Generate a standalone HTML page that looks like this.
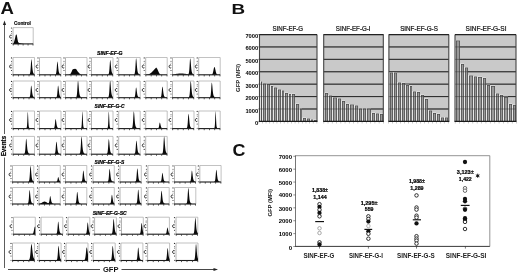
<!DOCTYPE html>
<html><head><meta charset="utf-8"><style>
html,body{margin:0;padding:0;background:#fff;}
body{width:520px;height:274px;overflow:hidden;}
svg{display:block;font-family:"Liberation Sans", sans-serif;filter:grayscale(1);}
</style></head><body>
<svg width="520" height="274" viewBox="0 0 520 274">
<g>
<rect width="520" height="274" fill="#fff"/>
<path d="M4.5,268 V157.5 M4.5,134 V24" stroke="#4a4a4a" stroke-width="0.9" fill="none"/>
<path d="M4.5,20.5 L2.9,25 L6.1,25Z" fill="#222"/>
<path d="M8,269.5 H100 M121.5,269.5 H214" stroke="#333" stroke-width="0.9" fill="none"/>
<path d="M218,269.5 L213.5,267.9 L213.5,271.1Z" fill="#222"/>
<text x="103" y="272.3" font-size="6.5" font-weight="bold" textLength="15.5" lengthAdjust="spacingAndGlyphs" fill="#111">GFP</text>
<text transform="translate(6.3,156.3) rotate(-90)" font-size="6.3" font-weight="bold" textLength="20.4" lengthAdjust="spacingAndGlyphs" fill="#000" stroke="#000" stroke-width="0.2">Events</text>
<text x="0.6" y="13.7" font-size="16.5" font-weight="bold" textLength="13.4" lengthAdjust="spacingAndGlyphs" fill="#111">A</text>
<text x="14.1" y="24.9" font-size="4.9" font-weight="bold" textLength="16.8" lengthAdjust="spacingAndGlyphs" fill="#000" stroke="#000" stroke-width="0.15">Control</text>
<path d="M13.00,27.60H33.20V43.90" fill="none" stroke="#a8a8a8" stroke-width="0.7"/>
<path d="M13.20,43.90L13.20,43.90L14.20,41.60L15.00,38.50L15.70,35.20L16.30,34.30L16.90,35.60L17.50,39.20L18.10,41.90L19.00,43.00L21.00,43.60L24.00,43.90L24.00,43.90Z" fill="#0a0a0a"/>
<path d="M13.00,27.60V43.90" fill="none" stroke="#a0a0a0" stroke-width="0.8"/>
<path d="M12.60,43.90H33.20" fill="none" stroke="#1a1a1a" stroke-width="1.1"/>
<rect x="12.80" y="43.90" width="0.8" height="1.6" fill="#333"/>
<rect x="17.75" y="43.90" width="0.8" height="1.6" fill="#333"/>
<rect x="22.70" y="43.90" width="0.8" height="1.6" fill="#333"/>
<rect x="27.65" y="43.90" width="0.8" height="1.6" fill="#333"/>
<rect x="32.60" y="43.90" width="0.8" height="1.6" fill="#333"/>
<circle cx="11.50" cy="28.00" r="0.6" fill="#2a2a2a"/>
<circle cx="11.50" cy="31.40" r="0.5" fill="#2a2a2a"/>
<circle cx="11.50" cy="33.20" r="0.45" fill="#2a2a2a"/>
<circle cx="11.50" cy="40.60" r="0.55" fill="#2a2a2a"/>
<circle cx="11.50" cy="43.60" r="0.5" fill="#2a2a2a"/>
<path d="M11.70,35.40C10.60,34.60 9.60,35.50 9.60,36.60C9.60,37.70 10.60,38.60 11.70,37.80" fill="none" stroke="#222" stroke-width="1.0"/>
<text x="97" y="54.6" font-size="4.9" font-weight="bold" font-style="italic" textLength="25.6" lengthAdjust="spacingAndGlyphs" fill="#000" stroke="#000" stroke-width="0.2">SINF-EF-G</text>
<text x="94.6" y="108.0" font-size="4.9" font-weight="bold" font-style="italic" textLength="30" lengthAdjust="spacingAndGlyphs" fill="#000" stroke="#000" stroke-width="0.2">SINF-EF-G-C</text>
<text x="94.6" y="163.6" font-size="4.9" font-weight="bold" font-style="italic" textLength="29.8" lengthAdjust="spacingAndGlyphs" fill="#000" stroke="#000" stroke-width="0.2">SINF-EF-G-S</text>
<text x="92.7" y="214.7" font-size="4.9" font-weight="bold" font-style="italic" textLength="34" lengthAdjust="spacingAndGlyphs" fill="#000" stroke="#000" stroke-width="0.2">SINF-EF-G-SC</text>
<path d="M13.00,57.50H34.50V74.80" fill="none" stroke="#a8a8a8" stroke-width="0.7"/>
<path d="M13.00,74.80L13.00,74.80L13.20,74.80L13.39,74.80L13.59,74.80L13.78,74.80L13.98,74.80L14.17,74.80L14.37,74.80L14.56,74.80L14.76,74.80L14.95,74.80L15.15,74.80L15.35,74.80L15.54,74.80L15.74,74.80L15.93,74.80L16.13,74.80L16.32,74.80L16.52,74.80L16.71,74.80L16.91,74.80L17.10,74.80L17.30,74.80L17.50,74.80L17.69,74.80L17.89,74.80L18.08,74.80L18.28,74.80L18.47,74.80L18.67,74.80L18.86,74.80L19.06,74.80L19.25,74.80L19.45,74.80L19.65,74.80L19.84,74.80L20.04,74.80L20.23,74.80L20.43,74.80L20.62,74.80L20.82,74.80L21.01,74.80L21.21,74.80L21.40,74.80L21.60,74.80L21.80,74.80L21.99,74.80L22.19,74.80L22.38,74.80L22.58,74.80L22.77,74.80L22.97,74.80L23.16,74.80L23.36,74.80L23.55,74.80L23.75,74.80L23.95,74.80L24.14,74.80L24.34,74.80L24.53,74.80L24.73,74.80L24.92,74.80L25.12,74.80L25.31,74.80L25.51,74.80L25.70,74.80L25.90,74.80L26.10,74.80L26.29,74.80L26.49,74.80L26.68,74.80L26.88,74.80L27.07,74.80L27.27,74.80L27.46,74.80L27.66,74.80L27.85,74.80L28.05,74.80L28.25,74.80L28.44,74.79L28.64,74.78L28.83,74.76L29.03,74.71L29.22,74.64L29.42,74.51L29.61,74.31L29.81,73.98L30.00,73.46L30.20,72.60L30.40,71.20L30.59,69.07L30.79,66.23L30.98,63.07L31.18,60.43L31.37,59.22L31.57,59.62L31.76,61.03L31.96,63.12L32.15,65.45L32.35,67.63L32.55,69.43L32.74,70.79L32.94,71.77L33.13,72.46L33.33,72.96L33.52,73.34L33.72,73.65L33.91,73.90L34.11,74.10L34.30,74.27L34.50,74.40L34.50,74.80Z" fill="#0a0a0a"/>
<path d="M13.00,57.50V74.80" fill="none" stroke="#a0a0a0" stroke-width="0.8"/>
<path d="M12.60,74.80H34.50" fill="none" stroke="#1a1a1a" stroke-width="1.1"/>
<rect x="12.80" y="74.80" width="0.8" height="1.6" fill="#333"/>
<rect x="18.08" y="74.80" width="0.8" height="1.6" fill="#333"/>
<rect x="23.35" y="74.80" width="0.8" height="1.6" fill="#333"/>
<rect x="28.62" y="74.80" width="0.8" height="1.6" fill="#333"/>
<rect x="33.90" y="74.80" width="0.8" height="1.6" fill="#333"/>
<circle cx="11.50" cy="57.90" r="0.6" fill="#2a2a2a"/>
<circle cx="11.50" cy="61.30" r="0.5" fill="#2a2a2a"/>
<circle cx="11.50" cy="63.10" r="0.45" fill="#2a2a2a"/>
<circle cx="11.50" cy="70.50" r="0.55" fill="#2a2a2a"/>
<circle cx="11.50" cy="74.50" r="0.5" fill="#2a2a2a"/>
<path d="M11.70,65.30C10.60,64.50 9.60,65.40 9.60,66.50C9.60,67.60 10.60,68.50 11.70,67.70" fill="none" stroke="#222" stroke-width="1.0"/>
<path d="M39.50,57.50H61.00V74.80" fill="none" stroke="#a8a8a8" stroke-width="0.7"/>
<path d="M39.50,74.80L39.50,74.80L39.70,74.80L39.89,74.80L40.09,74.80L40.28,74.80L40.48,74.80L40.67,74.80L40.87,74.80L41.06,74.80L41.26,74.80L41.45,74.80L41.65,74.80L41.85,74.80L42.04,74.80L42.24,74.80L42.43,74.80L42.63,74.80L42.82,74.80L43.02,74.80L43.21,74.80L43.41,74.80L43.60,74.80L43.80,74.80L44.00,74.80L44.19,74.80L44.39,74.80L44.58,74.80L44.78,74.80L44.97,74.80L45.17,74.80L45.36,74.80L45.56,74.80L45.75,74.80L45.95,74.80L46.15,74.80L46.34,74.80L46.54,74.80L46.73,74.80L46.93,74.80L47.12,74.80L47.32,74.80L47.51,74.80L47.71,74.80L47.90,74.80L48.10,74.80L48.30,74.80L48.49,74.80L48.69,74.80L48.88,74.80L49.08,74.80L49.27,74.80L49.47,74.80L49.66,74.80L49.86,74.80L50.05,74.80L50.25,74.80L50.45,74.80L50.64,74.80L50.84,74.80L51.03,74.80L51.23,74.80L51.42,74.80L51.62,74.80L51.81,74.80L52.01,74.80L52.20,74.80L52.40,74.80L52.60,74.80L52.79,74.80L52.99,74.80L53.18,74.80L53.38,74.80L53.57,74.80L53.77,74.80L53.96,74.80L54.16,74.80L54.35,74.79L54.55,74.79L54.75,74.77L54.94,74.74L55.14,74.69L55.33,74.61L55.53,74.47L55.72,74.24L55.92,73.88L56.11,73.29L56.31,72.33L56.50,70.80L56.70,68.63L56.90,65.98L57.09,63.44L57.29,61.78L57.48,61.59L57.68,62.44L57.87,64.01L58.07,65.95L58.26,67.90L58.46,69.59L58.65,70.92L58.85,71.88L59.05,72.57L59.24,73.06L59.44,73.42L59.63,73.71L59.83,73.94L60.02,74.13L60.22,74.29L60.41,74.42L60.61,74.52L60.80,74.59L61.00,74.65L61.00,74.80Z" fill="#0a0a0a"/>
<path d="M39.50,57.50V74.80" fill="none" stroke="#a0a0a0" stroke-width="0.8"/>
<path d="M39.10,74.80H61.00" fill="none" stroke="#1a1a1a" stroke-width="1.1"/>
<rect x="39.30" y="74.80" width="0.8" height="1.6" fill="#333"/>
<rect x="44.58" y="74.80" width="0.8" height="1.6" fill="#333"/>
<rect x="49.85" y="74.80" width="0.8" height="1.6" fill="#333"/>
<rect x="55.13" y="74.80" width="0.8" height="1.6" fill="#333"/>
<rect x="60.40" y="74.80" width="0.8" height="1.6" fill="#333"/>
<circle cx="38.00" cy="57.90" r="0.6" fill="#2a2a2a"/>
<circle cx="38.00" cy="61.30" r="0.5" fill="#2a2a2a"/>
<circle cx="38.00" cy="63.10" r="0.45" fill="#2a2a2a"/>
<circle cx="38.00" cy="70.50" r="0.55" fill="#2a2a2a"/>
<circle cx="38.00" cy="74.50" r="0.5" fill="#2a2a2a"/>
<path d="M38.20,65.30C37.10,64.50 36.10,65.40 36.10,66.50C36.10,67.60 37.10,68.50 38.20,67.70" fill="none" stroke="#222" stroke-width="1.0"/>
<path d="M65.50,57.50H87.00V74.80" fill="none" stroke="#a8a8a8" stroke-width="0.7"/>
<path d="M68.70,74.80L68.70,74.60L70.40,73.90L71.50,72.00L72.20,70.20L72.80,69.30L74.00,69.00L75.10,68.70L76.30,69.30L77.70,71.60L79.50,73.40L81.00,74.60L81.00,74.80Z" fill="#0a0a0a"/>
<path d="M65.50,57.50V74.80" fill="none" stroke="#a0a0a0" stroke-width="0.8"/>
<path d="M65.10,74.80H87.00" fill="none" stroke="#1a1a1a" stroke-width="1.1"/>
<rect x="65.30" y="74.80" width="0.8" height="1.6" fill="#333"/>
<rect x="70.58" y="74.80" width="0.8" height="1.6" fill="#333"/>
<rect x="75.85" y="74.80" width="0.8" height="1.6" fill="#333"/>
<rect x="81.12" y="74.80" width="0.8" height="1.6" fill="#333"/>
<rect x="86.40" y="74.80" width="0.8" height="1.6" fill="#333"/>
<circle cx="64.00" cy="57.90" r="0.6" fill="#2a2a2a"/>
<circle cx="64.00" cy="61.30" r="0.5" fill="#2a2a2a"/>
<circle cx="64.00" cy="63.10" r="0.45" fill="#2a2a2a"/>
<circle cx="64.00" cy="70.50" r="0.55" fill="#2a2a2a"/>
<circle cx="64.00" cy="74.50" r="0.5" fill="#2a2a2a"/>
<path d="M64.20,65.30C63.10,64.50 62.10,65.40 62.10,66.50C62.10,67.60 63.10,68.50 64.20,67.70" fill="none" stroke="#222" stroke-width="1.0"/>
<path d="M91.50,57.50H113.00V74.80" fill="none" stroke="#a8a8a8" stroke-width="0.7"/>
<path d="M91.50,74.80L91.50,74.80L91.70,74.80L91.89,74.80L92.09,74.80L92.28,74.80L92.48,74.80L92.67,74.80L92.87,74.80L93.06,74.80L93.26,74.80L93.45,74.80L93.65,74.80L93.85,74.80L94.04,74.80L94.24,74.80L94.43,74.80L94.63,74.80L94.82,74.80L95.02,74.80L95.21,74.80L95.41,74.80L95.60,74.80L95.80,74.80L96.00,74.80L96.19,74.80L96.39,74.80L96.58,74.80L96.78,74.80L96.97,74.80L97.17,74.80L97.36,74.80L97.56,74.80L97.75,74.80L97.95,74.80L98.15,74.80L98.34,74.80L98.54,74.80L98.73,74.80L98.93,74.80L99.12,74.80L99.32,74.80L99.51,74.80L99.71,74.80L99.90,74.80L100.10,74.80L100.30,74.80L100.49,74.80L100.69,74.80L100.88,74.80L101.08,74.80L101.27,74.80L101.47,74.80L101.66,74.80L101.86,74.80L102.05,74.80L102.25,74.80L102.45,74.80L102.64,74.80L102.84,74.80L103.03,74.80L103.23,74.80L103.42,74.80L103.62,74.80L103.81,74.80L104.01,74.80L104.20,74.80L104.40,74.80L104.60,74.80L104.79,74.80L104.99,74.80L105.18,74.80L105.38,74.80L105.57,74.80L105.77,74.80L105.96,74.80L106.16,74.80L106.35,74.80L106.55,74.80L106.75,74.80L106.94,74.80L107.14,74.79L107.33,74.79L107.53,74.77L107.72,74.74L107.92,74.69L108.11,74.60L108.31,74.45L108.50,74.21L108.70,73.82L108.90,73.20L109.09,72.17L109.29,70.54L109.48,68.18L109.68,65.27L109.87,62.39L110.07,60.42L110.26,60.06L110.46,60.92L110.65,62.61L110.85,64.75L111.05,66.93L111.24,68.84L111.44,70.36L111.63,71.47L111.83,72.26L112.02,72.82L112.22,73.23L112.41,73.56L112.61,73.82L112.80,74.04L113.00,74.22L113.00,74.80Z" fill="#0a0a0a"/>
<path d="M91.50,57.50V74.80" fill="none" stroke="#a0a0a0" stroke-width="0.8"/>
<path d="M91.10,74.80H113.00" fill="none" stroke="#1a1a1a" stroke-width="1.1"/>
<rect x="91.30" y="74.80" width="0.8" height="1.6" fill="#333"/>
<rect x="96.58" y="74.80" width="0.8" height="1.6" fill="#333"/>
<rect x="101.85" y="74.80" width="0.8" height="1.6" fill="#333"/>
<rect x="107.12" y="74.80" width="0.8" height="1.6" fill="#333"/>
<rect x="112.40" y="74.80" width="0.8" height="1.6" fill="#333"/>
<circle cx="90.00" cy="57.90" r="0.6" fill="#2a2a2a"/>
<circle cx="90.00" cy="61.30" r="0.5" fill="#2a2a2a"/>
<circle cx="90.00" cy="63.10" r="0.45" fill="#2a2a2a"/>
<circle cx="90.00" cy="70.50" r="0.55" fill="#2a2a2a"/>
<circle cx="90.00" cy="74.50" r="0.5" fill="#2a2a2a"/>
<path d="M90.20,65.30C89.10,64.50 88.10,65.40 88.10,66.50C88.10,67.60 89.10,68.50 90.20,67.70" fill="none" stroke="#222" stroke-width="1.0"/>
<path d="M118.70,57.50H140.20V74.80" fill="none" stroke="#a8a8a8" stroke-width="0.7"/>
<path d="M118.70,74.80L118.70,74.80L118.90,74.80L119.09,74.80L119.29,74.80L119.48,74.80L119.68,74.80L119.87,74.80L120.07,74.80L120.26,74.80L120.46,74.80L120.65,74.80L120.85,74.80L121.05,74.80L121.24,74.80L121.44,74.80L121.63,74.80L121.83,74.80L122.02,74.80L122.22,74.80L122.41,74.80L122.61,74.80L122.80,74.80L123.00,74.80L123.20,74.80L123.39,74.80L123.59,74.80L123.78,74.80L123.98,74.80L124.17,74.80L124.37,74.80L124.56,74.80L124.76,74.80L124.95,74.80L125.15,74.80L125.35,74.80L125.54,74.80L125.74,74.80L125.93,74.80L126.13,74.80L126.32,74.80L126.52,74.80L126.71,74.80L126.91,74.80L127.10,74.80L127.30,74.80L127.50,74.80L127.69,74.80L127.89,74.80L128.08,74.80L128.28,74.80L128.47,74.80L128.67,74.80L128.86,74.80L129.06,74.80L129.25,74.80L129.45,74.80L129.65,74.80L129.84,74.80L130.04,74.80L130.23,74.80L130.43,74.80L130.62,74.80L130.82,74.80L131.01,74.80L131.21,74.80L131.40,74.80L131.60,74.80L131.80,74.80L131.99,74.80L132.19,74.80L132.38,74.80L132.58,74.80L132.77,74.80L132.97,74.79L133.16,74.79L133.36,74.77L133.55,74.75L133.75,74.70L133.95,74.62L134.14,74.47L134.34,74.25L134.53,73.88L134.73,73.30L134.92,72.33L135.12,70.77L135.31,68.43L135.51,65.35L135.70,62.02L135.90,59.36L136.10,58.30L136.29,58.86L136.49,60.47L136.68,62.73L136.88,65.19L137.07,67.46L137.27,69.31L137.46,70.70L137.66,71.69L137.85,72.39L138.05,72.91L138.25,73.30L138.44,73.61L138.64,73.87L138.83,74.08L139.03,74.26L139.22,74.40L139.42,74.51L139.61,74.59L139.81,74.65L140.00,74.70L140.20,74.73L140.20,74.80Z" fill="#0a0a0a"/>
<path d="M118.70,57.50V74.80" fill="none" stroke="#a0a0a0" stroke-width="0.8"/>
<path d="M118.30,74.80H140.20" fill="none" stroke="#1a1a1a" stroke-width="1.1"/>
<rect x="118.50" y="74.80" width="0.8" height="1.6" fill="#333"/>
<rect x="123.78" y="74.80" width="0.8" height="1.6" fill="#333"/>
<rect x="129.05" y="74.80" width="0.8" height="1.6" fill="#333"/>
<rect x="134.32" y="74.80" width="0.8" height="1.6" fill="#333"/>
<rect x="139.60" y="74.80" width="0.8" height="1.6" fill="#333"/>
<circle cx="117.20" cy="57.90" r="0.6" fill="#2a2a2a"/>
<circle cx="117.20" cy="61.30" r="0.5" fill="#2a2a2a"/>
<circle cx="117.20" cy="63.10" r="0.45" fill="#2a2a2a"/>
<circle cx="117.20" cy="70.50" r="0.55" fill="#2a2a2a"/>
<circle cx="117.20" cy="74.50" r="0.5" fill="#2a2a2a"/>
<path d="M117.40,65.30C116.30,64.50 115.30,65.40 115.30,66.50C115.30,67.60 116.30,68.50 117.40,67.70" fill="none" stroke="#222" stroke-width="1.0"/>
<path d="M145.70,57.50H167.20V74.80" fill="none" stroke="#a8a8a8" stroke-width="0.7"/>
<path d="M146.50,74.80L146.50,74.60L148.50,74.20L149.80,73.80L151.50,72.60L153.20,70.80L154.80,69.00L156.20,67.50L157.20,68.80L158.20,71.00L159.20,73.20L160.50,74.60L160.50,74.80Z" fill="#0a0a0a"/>
<path d="M145.70,57.50V74.80" fill="none" stroke="#a0a0a0" stroke-width="0.8"/>
<path d="M145.30,74.80H167.20" fill="none" stroke="#1a1a1a" stroke-width="1.1"/>
<rect x="145.50" y="74.80" width="0.8" height="1.6" fill="#333"/>
<rect x="150.77" y="74.80" width="0.8" height="1.6" fill="#333"/>
<rect x="156.05" y="74.80" width="0.8" height="1.6" fill="#333"/>
<rect x="161.32" y="74.80" width="0.8" height="1.6" fill="#333"/>
<rect x="166.60" y="74.80" width="0.8" height="1.6" fill="#333"/>
<circle cx="144.20" cy="57.90" r="0.6" fill="#2a2a2a"/>
<circle cx="144.20" cy="61.30" r="0.5" fill="#2a2a2a"/>
<circle cx="144.20" cy="63.10" r="0.45" fill="#2a2a2a"/>
<circle cx="144.20" cy="70.50" r="0.55" fill="#2a2a2a"/>
<circle cx="144.20" cy="74.50" r="0.5" fill="#2a2a2a"/>
<path d="M144.40,65.30C143.30,64.50 142.30,65.40 142.30,66.50C142.30,67.60 143.30,68.50 144.40,67.70" fill="none" stroke="#222" stroke-width="1.0"/>
<path d="M172.50,57.50H194.00V74.80" fill="none" stroke="#a8a8a8" stroke-width="0.7"/>
<path d="M172.50,74.80L172.50,74.74L172.70,74.72L172.89,74.69L173.09,74.67L173.28,74.64L173.48,74.60L173.67,74.56L173.87,74.52L174.06,74.47L174.26,74.42L174.45,74.37L174.65,74.32L174.85,74.26L175.04,74.21L175.24,74.15L175.43,74.10L175.63,74.05L175.82,74.00L176.02,73.95L176.21,73.91L176.41,73.86L176.60,73.83L176.80,73.79L177.00,73.76L177.19,73.73L177.39,73.71L177.58,73.69L177.78,73.67L177.97,73.66L178.17,73.64L178.36,73.63L178.56,73.62L178.75,73.62L178.95,73.61L179.15,73.61L179.34,73.61L179.54,73.60L179.73,73.60L179.93,73.60L180.12,73.60L180.32,73.60L180.51,73.60L180.71,73.60L180.90,73.60L181.10,73.60L181.30,73.60L181.49,73.60L181.69,73.60L181.88,73.60L182.08,73.60L182.27,73.60L182.47,73.60L182.66,73.61L182.86,73.61L183.05,73.61L183.25,73.62L183.45,73.62L183.64,73.63L183.84,73.64L184.03,73.66L184.23,73.67L184.42,73.69L184.62,73.71L184.81,73.73L185.01,73.76L185.20,73.79L185.40,73.83L185.60,73.87L185.79,73.91L185.99,73.95L186.18,74.00L186.38,74.05L186.57,74.10L186.77,74.15L186.96,74.21L187.16,74.26L187.35,74.30L187.55,74.34L187.75,74.35L187.94,74.34L188.14,74.28L188.33,74.14L188.53,73.90L188.72,73.48L188.92,72.78L189.11,71.59L189.31,69.70L189.50,67.01L189.70,63.74L189.90,60.60L190.09,58.60L190.29,58.40L190.48,59.49L190.68,61.46L190.87,63.87L191.07,66.28L191.26,68.38L191.46,70.01L191.65,71.20L191.85,72.05L192.05,72.65L192.24,73.10L192.44,73.45L192.63,73.74L192.83,73.97L193.02,74.17L193.22,74.33L193.41,74.45L193.61,74.55L193.80,74.62L194.00,74.68L194.00,74.80Z" fill="#0a0a0a"/>
<path d="M172.50,57.50V74.80" fill="none" stroke="#a0a0a0" stroke-width="0.8"/>
<path d="M172.10,74.80H194.00" fill="none" stroke="#1a1a1a" stroke-width="1.1"/>
<rect x="172.30" y="74.80" width="0.8" height="1.6" fill="#333"/>
<rect x="177.57" y="74.80" width="0.8" height="1.6" fill="#333"/>
<rect x="182.85" y="74.80" width="0.8" height="1.6" fill="#333"/>
<rect x="188.12" y="74.80" width="0.8" height="1.6" fill="#333"/>
<rect x="193.40" y="74.80" width="0.8" height="1.6" fill="#333"/>
<circle cx="171.00" cy="57.90" r="0.6" fill="#2a2a2a"/>
<circle cx="171.00" cy="61.30" r="0.5" fill="#2a2a2a"/>
<circle cx="171.00" cy="63.10" r="0.45" fill="#2a2a2a"/>
<circle cx="171.00" cy="70.50" r="0.55" fill="#2a2a2a"/>
<circle cx="171.00" cy="74.50" r="0.5" fill="#2a2a2a"/>
<path d="M171.20,65.30C170.10,64.50 169.10,65.40 169.10,66.50C169.10,67.60 170.10,68.50 171.20,67.70" fill="none" stroke="#222" stroke-width="1.0"/>
<path d="M198.70,57.50H220.20V74.80" fill="none" stroke="#a8a8a8" stroke-width="0.7"/>
<path d="M198.70,74.80L198.70,74.80L198.90,74.80L199.09,74.80L199.29,74.80L199.48,74.80L199.68,74.80L199.87,74.80L200.07,74.80L200.26,74.80L200.46,74.80L200.65,74.80L200.85,74.80L201.05,74.80L201.24,74.80L201.44,74.80L201.63,74.80L201.83,74.80L202.02,74.80L202.22,74.80L202.41,74.80L202.61,74.80L202.80,74.80L203.00,74.80L203.20,74.80L203.39,74.80L203.59,74.80L203.78,74.80L203.98,74.80L204.17,74.80L204.37,74.80L204.56,74.80L204.76,74.80L204.95,74.80L205.15,74.80L205.35,74.80L205.54,74.80L205.74,74.80L205.93,74.80L206.13,74.80L206.32,74.80L206.52,74.80L206.71,74.80L206.91,74.80L207.10,74.80L207.30,74.80L207.50,74.80L207.69,74.80L207.89,74.80L208.08,74.80L208.28,74.80L208.47,74.80L208.67,74.80L208.86,74.80L209.06,74.80L209.25,74.80L209.45,74.80L209.65,74.80L209.84,74.80L210.04,74.80L210.23,74.80L210.43,74.80L210.62,74.80L210.82,74.80L211.01,74.79L211.21,74.78L211.40,74.76L211.60,74.72L211.80,74.66L211.99,74.55L212.19,74.37L212.38,74.10L212.58,73.71L212.77,73.17L212.97,72.48L213.16,71.64L213.36,70.69L213.55,69.69L213.75,68.73L213.95,67.90L214.14,67.30L214.34,67.02L214.53,67.06L214.73,67.36L214.92,67.89L215.12,68.60L215.31,69.42L215.51,70.28L215.70,71.14L215.90,71.93L216.10,72.63L216.29,73.21L216.49,73.67L216.68,74.03L216.88,74.29L217.07,74.47L217.27,74.60L217.46,74.68L217.66,74.73L217.85,74.76L218.05,74.78L218.25,74.79L218.44,74.79L218.64,74.80L218.83,74.80L219.03,74.80L219.22,74.80L219.42,74.80L219.61,74.80L219.81,74.80L220.00,74.80L220.20,74.80L220.20,74.80Z" fill="#0a0a0a"/>
<path d="M198.70,57.50V74.80" fill="none" stroke="#a0a0a0" stroke-width="0.8"/>
<path d="M198.30,74.80H220.20" fill="none" stroke="#1a1a1a" stroke-width="1.1"/>
<rect x="198.50" y="74.80" width="0.8" height="1.6" fill="#333"/>
<rect x="203.77" y="74.80" width="0.8" height="1.6" fill="#333"/>
<rect x="209.05" y="74.80" width="0.8" height="1.6" fill="#333"/>
<rect x="214.32" y="74.80" width="0.8" height="1.6" fill="#333"/>
<rect x="219.60" y="74.80" width="0.8" height="1.6" fill="#333"/>
<circle cx="197.20" cy="57.90" r="0.6" fill="#2a2a2a"/>
<circle cx="197.20" cy="61.30" r="0.5" fill="#2a2a2a"/>
<circle cx="197.20" cy="63.10" r="0.45" fill="#2a2a2a"/>
<circle cx="197.20" cy="70.50" r="0.55" fill="#2a2a2a"/>
<circle cx="197.20" cy="74.50" r="0.5" fill="#2a2a2a"/>
<path d="M197.40,65.30C196.30,64.50 195.30,65.40 195.30,66.50C195.30,67.60 196.30,68.50 197.40,67.70" fill="none" stroke="#222" stroke-width="1.0"/>
<path d="M13.00,81.00H34.50V97.70" fill="none" stroke="#a8a8a8" stroke-width="0.7"/>
<path d="M13.00,97.70L13.00,97.70L13.20,97.70L13.39,97.70L13.59,97.70L13.78,97.70L13.98,97.70L14.17,97.70L14.37,97.70L14.56,97.70L14.76,97.70L14.95,97.70L15.15,97.70L15.35,97.70L15.54,97.70L15.74,97.70L15.93,97.70L16.13,97.70L16.32,97.70L16.52,97.70L16.71,97.70L16.91,97.70L17.10,97.70L17.30,97.70L17.50,97.70L17.69,97.70L17.89,97.70L18.08,97.70L18.28,97.70L18.47,97.70L18.67,97.70L18.86,97.70L19.06,97.70L19.25,97.70L19.45,97.70L19.65,97.70L19.84,97.70L20.04,97.70L20.23,97.70L20.43,97.70L20.62,97.70L20.82,97.70L21.01,97.70L21.21,97.70L21.40,97.70L21.60,97.70L21.80,97.70L21.99,97.70L22.19,97.70L22.38,97.70L22.58,97.70L22.77,97.70L22.97,97.70L23.16,97.70L23.36,97.70L23.55,97.70L23.75,97.70L23.95,97.70L24.14,97.70L24.34,97.70L24.53,97.70L24.73,97.70L24.92,97.70L25.12,97.70L25.31,97.70L25.51,97.70L25.70,97.70L25.90,97.70L26.10,97.70L26.29,97.70L26.49,97.70L26.68,97.70L26.88,97.70L27.07,97.70L27.27,97.70L27.46,97.70L27.66,97.70L27.85,97.70L28.05,97.70L28.25,97.69L28.44,97.68L28.64,97.66L28.83,97.63L29.03,97.57L29.22,97.47L29.42,97.31L29.61,97.06L29.81,96.65L30.00,95.97L30.20,94.88L30.40,93.21L30.59,91.00L30.79,88.55L30.98,86.52L31.18,85.61L31.37,85.94L31.57,87.06L31.76,88.69L31.96,90.49L32.15,92.17L32.35,93.56L32.55,94.61L32.74,95.36L32.94,95.89L33.13,96.28L33.33,96.57L33.52,96.81L33.72,97.00L33.91,97.16L34.11,97.29L34.30,97.40L34.50,97.48L34.50,97.70Z" fill="#0a0a0a"/>
<path d="M13.00,81.00V97.70" fill="none" stroke="#a0a0a0" stroke-width="0.8"/>
<path d="M12.60,97.70H34.50" fill="none" stroke="#1a1a1a" stroke-width="1.1"/>
<rect x="12.80" y="97.70" width="0.8" height="1.6" fill="#333"/>
<rect x="18.08" y="97.70" width="0.8" height="1.6" fill="#333"/>
<rect x="23.35" y="97.70" width="0.8" height="1.6" fill="#333"/>
<rect x="28.62" y="97.70" width="0.8" height="1.6" fill="#333"/>
<rect x="33.90" y="97.70" width="0.8" height="1.6" fill="#333"/>
<circle cx="11.50" cy="81.40" r="0.6" fill="#2a2a2a"/>
<circle cx="11.50" cy="84.80" r="0.5" fill="#2a2a2a"/>
<circle cx="11.50" cy="86.60" r="0.45" fill="#2a2a2a"/>
<circle cx="11.50" cy="94.00" r="0.55" fill="#2a2a2a"/>
<circle cx="11.50" cy="97.40" r="0.5" fill="#2a2a2a"/>
<path d="M11.70,88.80C10.60,88.00 9.60,88.90 9.60,90.00C9.60,91.10 10.60,92.00 11.70,91.20" fill="none" stroke="#222" stroke-width="1.0"/>
<path d="M39.50,81.00H61.00V97.70" fill="none" stroke="#a8a8a8" stroke-width="0.7"/>
<path d="M39.50,97.70L39.50,97.70L39.70,97.70L39.89,97.70L40.09,97.70L40.28,97.70L40.48,97.70L40.67,97.70L40.87,97.70L41.06,97.70L41.26,97.70L41.45,97.70L41.65,97.70L41.85,97.70L42.04,97.70L42.24,97.70L42.43,97.70L42.63,97.70L42.82,97.70L43.02,97.70L43.21,97.70L43.41,97.70L43.60,97.70L43.80,97.70L44.00,97.70L44.19,97.70L44.39,97.70L44.58,97.70L44.78,97.70L44.97,97.70L45.17,97.70L45.36,97.70L45.56,97.70L45.75,97.70L45.95,97.70L46.15,97.70L46.34,97.70L46.54,97.70L46.73,97.70L46.93,97.70L47.12,97.70L47.32,97.70L47.51,97.70L47.71,97.70L47.90,97.70L48.10,97.70L48.30,97.70L48.49,97.70L48.69,97.70L48.88,97.70L49.08,97.70L49.27,97.70L49.47,97.70L49.66,97.70L49.86,97.70L50.05,97.70L50.25,97.70L50.45,97.70L50.64,97.70L50.84,97.70L51.03,97.70L51.23,97.70L51.42,97.70L51.62,97.70L51.81,97.70L52.01,97.70L52.20,97.70L52.40,97.70L52.60,97.70L52.79,97.70L52.99,97.70L53.18,97.70L53.38,97.70L53.57,97.70L53.77,97.70L53.96,97.70L54.16,97.70L54.35,97.70L54.55,97.70L54.75,97.70L54.94,97.70L55.14,97.69L55.33,97.68L55.53,97.67L55.72,97.63L55.92,97.58L56.11,97.48L56.31,97.32L56.50,97.07L56.70,96.67L56.90,96.01L57.09,94.94L57.29,93.30L57.48,91.11L57.68,88.66L57.87,86.59L58.07,85.62L58.26,85.91L58.46,86.99L58.65,88.60L58.85,90.41L59.05,92.10L59.24,93.51L59.44,94.57L59.63,95.33L59.83,95.87L60.02,96.26L60.22,96.56L60.41,96.80L60.61,96.99L60.80,97.15L61.00,97.29L61.00,97.70Z" fill="#0a0a0a"/>
<path d="M39.50,81.00V97.70" fill="none" stroke="#a0a0a0" stroke-width="0.8"/>
<path d="M39.10,97.70H61.00" fill="none" stroke="#1a1a1a" stroke-width="1.1"/>
<rect x="39.30" y="97.70" width="0.8" height="1.6" fill="#333"/>
<rect x="44.58" y="97.70" width="0.8" height="1.6" fill="#333"/>
<rect x="49.85" y="97.70" width="0.8" height="1.6" fill="#333"/>
<rect x="55.13" y="97.70" width="0.8" height="1.6" fill="#333"/>
<rect x="60.40" y="97.70" width="0.8" height="1.6" fill="#333"/>
<circle cx="38.00" cy="81.40" r="0.6" fill="#2a2a2a"/>
<circle cx="38.00" cy="84.80" r="0.5" fill="#2a2a2a"/>
<circle cx="38.00" cy="86.60" r="0.45" fill="#2a2a2a"/>
<circle cx="38.00" cy="94.00" r="0.55" fill="#2a2a2a"/>
<circle cx="38.00" cy="97.40" r="0.5" fill="#2a2a2a"/>
<path d="M38.20,88.80C37.10,88.00 36.10,88.90 36.10,90.00C36.10,91.10 37.10,92.00 38.20,91.20" fill="none" stroke="#222" stroke-width="1.0"/>
<path d="M65.50,81.00H87.00V97.70" fill="none" stroke="#a8a8a8" stroke-width="0.7"/>
<path d="M65.50,97.70L65.50,97.70L65.70,97.70L65.89,97.70L66.09,97.70L66.28,97.70L66.48,97.70L66.67,97.70L66.87,97.70L67.06,97.70L67.26,97.70L67.45,97.70L67.65,97.70L67.85,97.70L68.04,97.70L68.24,97.70L68.43,97.70L68.63,97.70L68.82,97.70L69.02,97.70L69.21,97.70L69.41,97.70L69.60,97.70L69.80,97.70L70.00,97.70L70.19,97.70L70.39,97.70L70.58,97.70L70.78,97.70L70.97,97.70L71.17,97.70L71.36,97.70L71.56,97.70L71.75,97.70L71.95,97.70L72.15,97.70L72.34,97.70L72.54,97.70L72.73,97.70L72.93,97.70L73.12,97.70L73.32,97.70L73.51,97.70L73.71,97.70L73.90,97.70L74.10,97.70L74.30,97.70L74.49,97.70L74.69,97.70L74.88,97.69L75.08,97.69L75.27,97.67L75.47,97.64L75.66,97.59L75.86,97.50L76.05,97.35L76.25,97.10L76.45,96.71L76.64,96.08L76.84,95.04L77.03,93.36L77.23,90.86L77.42,87.61L77.62,84.15L77.81,81.46L78.01,81.00L78.20,81.17L78.40,82.91L78.60,85.30L78.79,87.86L78.99,90.20L79.18,92.10L79.38,93.51L79.57,94.52L79.77,95.23L79.96,95.76L80.16,96.16L80.35,96.48L80.55,96.75L80.75,96.97L80.94,97.15L81.14,97.29L81.33,97.40L81.53,97.49L81.72,97.55L81.92,97.60L82.11,97.63L82.31,97.65L82.50,97.67L82.70,97.68L82.90,97.69L83.09,97.69L83.29,97.70L83.48,97.70L83.68,97.70L83.87,97.70L84.07,97.70L84.26,97.70L84.46,97.70L84.65,97.70L84.85,97.70L85.05,97.70L85.24,97.70L85.44,97.70L85.63,97.70L85.83,97.70L86.02,97.70L86.22,97.70L86.41,97.70L86.61,97.70L86.80,97.70L87.00,97.70L87.00,97.70Z" fill="#0a0a0a"/>
<path d="M65.50,81.00V97.70" fill="none" stroke="#a0a0a0" stroke-width="0.8"/>
<path d="M65.10,97.70H87.00" fill="none" stroke="#1a1a1a" stroke-width="1.1"/>
<rect x="65.30" y="97.70" width="0.8" height="1.6" fill="#333"/>
<rect x="70.58" y="97.70" width="0.8" height="1.6" fill="#333"/>
<rect x="75.85" y="97.70" width="0.8" height="1.6" fill="#333"/>
<rect x="81.12" y="97.70" width="0.8" height="1.6" fill="#333"/>
<rect x="86.40" y="97.70" width="0.8" height="1.6" fill="#333"/>
<circle cx="64.00" cy="81.40" r="0.6" fill="#2a2a2a"/>
<circle cx="64.00" cy="84.80" r="0.5" fill="#2a2a2a"/>
<circle cx="64.00" cy="86.60" r="0.45" fill="#2a2a2a"/>
<circle cx="64.00" cy="94.00" r="0.55" fill="#2a2a2a"/>
<circle cx="64.00" cy="97.40" r="0.5" fill="#2a2a2a"/>
<path d="M64.20,88.80C63.10,88.00 62.10,88.90 62.10,90.00C62.10,91.10 63.10,92.00 64.20,91.20" fill="none" stroke="#222" stroke-width="1.0"/>
<path d="M91.50,81.00H113.00V97.70" fill="none" stroke="#a8a8a8" stroke-width="0.7"/>
<path d="M91.50,97.70L91.50,97.70L91.70,97.70L91.89,97.70L92.09,97.70L92.28,97.70L92.48,97.70L92.67,97.70L92.87,97.70L93.06,97.70L93.26,97.70L93.45,97.70L93.65,97.70L93.85,97.70L94.04,97.70L94.24,97.70L94.43,97.70L94.63,97.70L94.82,97.70L95.02,97.70L95.21,97.70L95.41,97.70L95.60,97.70L95.80,97.70L96.00,97.70L96.19,97.70L96.39,97.70L96.58,97.70L96.78,97.70L96.97,97.70L97.17,97.70L97.36,97.70L97.56,97.70L97.75,97.70L97.95,97.70L98.15,97.70L98.34,97.70L98.54,97.70L98.73,97.70L98.93,97.70L99.12,97.70L99.32,97.70L99.51,97.70L99.71,97.70L99.90,97.70L100.10,97.70L100.30,97.70L100.49,97.70L100.69,97.70L100.88,97.70L101.08,97.70L101.27,97.70L101.47,97.70L101.66,97.70L101.86,97.70L102.05,97.70L102.25,97.70L102.45,97.70L102.64,97.70L102.84,97.70L103.03,97.70L103.23,97.70L103.42,97.70L103.62,97.70L103.81,97.70L104.01,97.70L104.20,97.70L104.40,97.70L104.60,97.70L104.79,97.70L104.99,97.70L105.18,97.70L105.38,97.70L105.57,97.70L105.77,97.70L105.96,97.70L106.16,97.70L106.35,97.70L106.55,97.70L106.75,97.70L106.94,97.70L107.14,97.69L107.33,97.68L107.53,97.65L107.72,97.60L107.92,97.52L108.11,97.39L108.31,97.16L108.50,96.81L108.70,96.24L108.90,95.30L109.09,93.78L109.29,91.45L109.48,88.33L109.68,84.85L109.87,81.91L110.07,81.00L110.26,81.00L110.46,82.48L110.65,84.77L110.85,87.33L111.05,89.74L111.24,91.74L111.44,93.25L111.63,94.34L111.83,95.10L112.02,95.66L112.22,96.08L112.41,96.42L112.61,96.70L112.80,96.92L113.00,97.11L113.00,97.70Z" fill="#0a0a0a"/>
<path d="M91.50,81.00V97.70" fill="none" stroke="#a0a0a0" stroke-width="0.8"/>
<path d="M91.10,97.70H113.00" fill="none" stroke="#1a1a1a" stroke-width="1.1"/>
<rect x="91.30" y="97.70" width="0.8" height="1.6" fill="#333"/>
<rect x="96.58" y="97.70" width="0.8" height="1.6" fill="#333"/>
<rect x="101.85" y="97.70" width="0.8" height="1.6" fill="#333"/>
<rect x="107.12" y="97.70" width="0.8" height="1.6" fill="#333"/>
<rect x="112.40" y="97.70" width="0.8" height="1.6" fill="#333"/>
<circle cx="90.00" cy="81.40" r="0.6" fill="#2a2a2a"/>
<circle cx="90.00" cy="84.80" r="0.5" fill="#2a2a2a"/>
<circle cx="90.00" cy="86.60" r="0.45" fill="#2a2a2a"/>
<circle cx="90.00" cy="94.00" r="0.55" fill="#2a2a2a"/>
<circle cx="90.00" cy="97.40" r="0.5" fill="#2a2a2a"/>
<path d="M90.20,88.80C89.10,88.00 88.10,88.90 88.10,90.00C88.10,91.10 89.10,92.00 90.20,91.20" fill="none" stroke="#222" stroke-width="1.0"/>
<path d="M118.70,81.00H140.20V97.70" fill="none" stroke="#a8a8a8" stroke-width="0.7"/>
<path d="M118.70,97.70L118.70,97.70L118.90,97.70L119.09,97.70L119.29,97.70L119.48,97.70L119.68,97.70L119.87,97.70L120.07,97.70L120.26,97.70L120.46,97.70L120.65,97.70L120.85,97.70L121.05,97.70L121.24,97.70L121.44,97.70L121.63,97.70L121.83,97.70L122.02,97.70L122.22,97.70L122.41,97.70L122.61,97.70L122.80,97.70L123.00,97.70L123.20,97.70L123.39,97.70L123.59,97.70L123.78,97.70L123.98,97.70L124.17,97.70L124.37,97.70L124.56,97.70L124.76,97.70L124.95,97.70L125.15,97.70L125.35,97.70L125.54,97.70L125.74,97.70L125.93,97.70L126.13,97.70L126.32,97.70L126.52,97.70L126.71,97.70L126.91,97.70L127.10,97.70L127.30,97.70L127.50,97.70L127.69,97.70L127.89,97.70L128.08,97.70L128.28,97.70L128.47,97.70L128.67,97.70L128.86,97.70L129.06,97.70L129.25,97.70L129.45,97.70L129.65,97.70L129.84,97.70L130.04,97.70L130.23,97.70L130.43,97.70L130.62,97.70L130.82,97.70L131.01,97.70L131.21,97.70L131.40,97.70L131.60,97.70L131.80,97.70L131.99,97.70L132.19,97.70L132.38,97.70L132.58,97.70L132.77,97.70L132.97,97.70L133.16,97.69L133.36,97.68L133.55,97.67L133.75,97.64L133.95,97.58L134.14,97.50L134.34,97.35L134.53,97.13L134.73,96.76L134.92,96.16L135.12,95.19L135.31,93.72L135.51,91.80L135.70,89.72L135.90,88.06L136.10,87.40L136.29,87.75L136.49,88.75L136.68,90.17L136.88,91.70L137.07,93.12L137.27,94.27L137.46,95.14L137.66,95.76L137.85,96.20L138.05,96.52L138.25,96.76L138.44,96.96L138.64,97.12L138.83,97.25L139.03,97.36L139.22,97.45L139.42,97.52L139.61,97.57L139.81,97.61L140.00,97.64L140.20,97.66L140.20,97.70Z" fill="#0a0a0a"/>
<path d="M118.70,81.00V97.70" fill="none" stroke="#a0a0a0" stroke-width="0.8"/>
<path d="M118.30,97.70H140.20" fill="none" stroke="#1a1a1a" stroke-width="1.1"/>
<rect x="118.50" y="97.70" width="0.8" height="1.6" fill="#333"/>
<rect x="123.78" y="97.70" width="0.8" height="1.6" fill="#333"/>
<rect x="129.05" y="97.70" width="0.8" height="1.6" fill="#333"/>
<rect x="134.32" y="97.70" width="0.8" height="1.6" fill="#333"/>
<rect x="139.60" y="97.70" width="0.8" height="1.6" fill="#333"/>
<circle cx="117.20" cy="81.40" r="0.6" fill="#2a2a2a"/>
<circle cx="117.20" cy="84.80" r="0.5" fill="#2a2a2a"/>
<circle cx="117.20" cy="86.60" r="0.45" fill="#2a2a2a"/>
<circle cx="117.20" cy="94.00" r="0.55" fill="#2a2a2a"/>
<circle cx="117.20" cy="97.40" r="0.5" fill="#2a2a2a"/>
<path d="M117.40,88.80C116.30,88.00 115.30,88.90 115.30,90.00C115.30,91.10 116.30,92.00 117.40,91.20" fill="none" stroke="#222" stroke-width="1.0"/>
<path d="M145.70,81.00H167.20V97.70" fill="none" stroke="#a8a8a8" stroke-width="0.7"/>
<path d="M145.70,97.70L145.70,97.70L145.90,97.70L146.09,97.70L146.29,97.70L146.48,97.70L146.68,97.70L146.87,97.70L147.07,97.70L147.26,97.70L147.46,97.70L147.65,97.70L147.85,97.70L148.05,97.70L148.24,97.70L148.44,97.70L148.63,97.70L148.83,97.70L149.02,97.70L149.22,97.70L149.41,97.70L149.61,97.70L149.80,97.70L150.00,97.70L150.20,97.70L150.39,97.70L150.59,97.70L150.78,97.70L150.98,97.70L151.17,97.70L151.37,97.70L151.56,97.70L151.76,97.70L151.95,97.70L152.15,97.70L152.35,97.70L152.54,97.70L152.74,97.70L152.93,97.70L153.13,97.70L153.32,97.70L153.52,97.70L153.71,97.70L153.91,97.70L154.10,97.70L154.30,97.70L154.50,97.70L154.69,97.70L154.89,97.70L155.08,97.70L155.28,97.70L155.47,97.70L155.67,97.70L155.86,97.70L156.06,97.70L156.25,97.70L156.45,97.70L156.65,97.70L156.84,97.70L157.04,97.70L157.23,97.70L157.43,97.70L157.62,97.70L157.82,97.70L158.01,97.70L158.21,97.70L158.40,97.70L158.60,97.70L158.80,97.70L158.99,97.70L159.19,97.70L159.38,97.69L159.58,97.69L159.77,97.67L159.97,97.65L160.16,97.60L160.36,97.52L160.55,97.40L160.75,97.20L160.95,96.87L161.14,96.34L161.34,95.47L161.53,94.11L161.73,92.21L161.92,89.96L162.12,87.87L162.31,86.64L162.51,86.63L162.70,87.44L162.90,88.83L163.10,90.48L163.29,92.10L163.49,93.49L163.68,94.56L163.88,95.34L164.07,95.89L164.27,96.28L164.46,96.58L164.66,96.81L164.85,97.00L165.05,97.16L165.25,97.29L165.44,97.39L165.64,97.47L165.83,97.53L166.03,97.58L166.22,97.62L166.42,97.64L166.61,97.66L166.81,97.68L167.00,97.68L167.20,97.69L167.20,97.70Z" fill="#0a0a0a"/>
<path d="M145.70,81.00V97.70" fill="none" stroke="#a0a0a0" stroke-width="0.8"/>
<path d="M145.30,97.70H167.20" fill="none" stroke="#1a1a1a" stroke-width="1.1"/>
<rect x="145.50" y="97.70" width="0.8" height="1.6" fill="#333"/>
<rect x="150.77" y="97.70" width="0.8" height="1.6" fill="#333"/>
<rect x="156.05" y="97.70" width="0.8" height="1.6" fill="#333"/>
<rect x="161.32" y="97.70" width="0.8" height="1.6" fill="#333"/>
<rect x="166.60" y="97.70" width="0.8" height="1.6" fill="#333"/>
<circle cx="144.20" cy="81.40" r="0.6" fill="#2a2a2a"/>
<circle cx="144.20" cy="84.80" r="0.5" fill="#2a2a2a"/>
<circle cx="144.20" cy="86.60" r="0.45" fill="#2a2a2a"/>
<circle cx="144.20" cy="94.00" r="0.55" fill="#2a2a2a"/>
<circle cx="144.20" cy="97.40" r="0.5" fill="#2a2a2a"/>
<path d="M144.40,88.80C143.30,88.00 142.30,88.90 142.30,90.00C142.30,91.10 143.30,92.00 144.40,91.20" fill="none" stroke="#222" stroke-width="1.0"/>
<path d="M172.50,81.00H194.00V97.70" fill="none" stroke="#a8a8a8" stroke-width="0.7"/>
<path d="M172.50,97.70L172.50,97.70L172.70,97.70L172.89,97.70L173.09,97.70L173.28,97.70L173.48,97.70L173.67,97.70L173.87,97.70L174.06,97.70L174.26,97.70L174.45,97.70L174.65,97.70L174.85,97.70L175.04,97.70L175.24,97.70L175.43,97.70L175.63,97.70L175.82,97.70L176.02,97.70L176.21,97.70L176.41,97.70L176.60,97.70L176.80,97.70L177.00,97.70L177.19,97.70L177.39,97.70L177.58,97.70L177.78,97.70L177.97,97.70L178.17,97.70L178.36,97.70L178.56,97.70L178.75,97.70L178.95,97.70L179.15,97.70L179.34,97.70L179.54,97.70L179.73,97.70L179.93,97.70L180.12,97.70L180.32,97.70L180.51,97.70L180.71,97.70L180.90,97.70L181.10,97.70L181.30,97.70L181.49,97.70L181.69,97.70L181.88,97.70L182.08,97.70L182.27,97.70L182.47,97.70L182.66,97.70L182.86,97.70L183.05,97.70L183.25,97.70L183.45,97.70L183.64,97.70L183.84,97.70L184.03,97.70L184.23,97.70L184.42,97.70L184.62,97.70L184.81,97.70L185.01,97.70L185.20,97.70L185.40,97.70L185.60,97.70L185.79,97.70L185.99,97.70L186.18,97.70L186.38,97.70L186.57,97.70L186.77,97.70L186.96,97.70L187.16,97.70L187.35,97.70L187.55,97.70L187.75,97.69L187.94,97.68L188.14,97.65L188.33,97.60L188.53,97.52L188.72,97.39L188.92,97.17L189.11,96.81L189.31,96.25L189.50,95.32L189.70,93.80L189.90,91.51L190.09,88.45L190.29,85.07L190.48,82.27L190.68,81.01L190.87,81.47L191.07,83.01L191.26,85.26L191.46,87.75L191.65,90.07L191.85,91.99L192.05,93.44L192.24,94.48L192.44,95.21L192.63,95.74L192.83,96.15L193.02,96.47L193.22,96.74L193.41,96.96L193.61,97.14L193.80,97.28L194.00,97.39L194.00,97.70Z" fill="#0a0a0a"/>
<path d="M172.50,81.00V97.70" fill="none" stroke="#a0a0a0" stroke-width="0.8"/>
<path d="M172.10,97.70H194.00" fill="none" stroke="#1a1a1a" stroke-width="1.1"/>
<rect x="172.30" y="97.70" width="0.8" height="1.6" fill="#333"/>
<rect x="177.57" y="97.70" width="0.8" height="1.6" fill="#333"/>
<rect x="182.85" y="97.70" width="0.8" height="1.6" fill="#333"/>
<rect x="188.12" y="97.70" width="0.8" height="1.6" fill="#333"/>
<rect x="193.40" y="97.70" width="0.8" height="1.6" fill="#333"/>
<circle cx="171.00" cy="81.40" r="0.6" fill="#2a2a2a"/>
<circle cx="171.00" cy="84.80" r="0.5" fill="#2a2a2a"/>
<circle cx="171.00" cy="86.60" r="0.45" fill="#2a2a2a"/>
<circle cx="171.00" cy="94.00" r="0.55" fill="#2a2a2a"/>
<circle cx="171.00" cy="97.40" r="0.5" fill="#2a2a2a"/>
<path d="M171.20,88.80C170.10,88.00 169.10,88.90 169.10,90.00C169.10,91.10 170.10,92.00 171.20,91.20" fill="none" stroke="#222" stroke-width="1.0"/>
<path d="M198.70,81.00H220.20V97.70" fill="none" stroke="#a8a8a8" stroke-width="0.7"/>
<path d="M198.70,97.70L198.70,97.70L198.90,97.70L199.09,97.70L199.29,97.70L199.48,97.70L199.68,97.70L199.87,97.70L200.07,97.70L200.26,97.70L200.46,97.70L200.65,97.70L200.85,97.70L201.05,97.70L201.24,97.70L201.44,97.70L201.63,97.70L201.83,97.70L202.02,97.70L202.22,97.70L202.41,97.70L202.61,97.70L202.80,97.70L203.00,97.70L203.20,97.70L203.39,97.70L203.59,97.70L203.78,97.70L203.98,97.70L204.17,97.70L204.37,97.70L204.56,97.70L204.76,97.70L204.95,97.70L205.15,97.70L205.35,97.70L205.54,97.70L205.74,97.70L205.93,97.70L206.13,97.70L206.32,97.70L206.52,97.70L206.71,97.70L206.91,97.70L207.10,97.70L207.30,97.70L207.50,97.70L207.69,97.70L207.89,97.70L208.08,97.70L208.28,97.70L208.47,97.70L208.67,97.70L208.86,97.69L209.06,97.68L209.25,97.65L209.45,97.61L209.65,97.53L209.84,97.40L210.04,97.19L210.23,96.85L210.43,96.31L210.62,95.41L210.82,93.97L211.01,91.79L211.21,88.94L211.40,85.85L211.60,83.38L211.80,82.40L211.99,82.92L212.19,84.41L212.38,86.51L212.58,88.79L212.77,90.89L212.97,92.61L213.16,93.90L213.36,94.82L213.55,95.47L213.75,95.94L213.95,96.31L214.14,96.60L214.34,96.84L214.53,97.04L214.73,97.20L214.92,97.33L215.12,97.43L215.31,97.50L215.51,97.56L215.70,97.61L215.90,97.64L216.10,97.66L216.29,97.67L216.49,97.68L216.68,97.69L216.88,97.69L217.07,97.70L217.27,97.70L217.46,97.70L217.66,97.70L217.85,97.70L218.05,97.70L218.25,97.70L218.44,97.70L218.64,97.70L218.83,97.70L219.03,97.70L219.22,97.70L219.42,97.70L219.61,97.70L219.81,97.70L220.00,97.70L220.20,97.70L220.20,97.70Z" fill="#0a0a0a"/>
<path d="M198.70,81.00V97.70" fill="none" stroke="#a0a0a0" stroke-width="0.8"/>
<path d="M198.30,97.70H220.20" fill="none" stroke="#1a1a1a" stroke-width="1.1"/>
<rect x="198.50" y="97.70" width="0.8" height="1.6" fill="#333"/>
<rect x="203.77" y="97.70" width="0.8" height="1.6" fill="#333"/>
<rect x="209.05" y="97.70" width="0.8" height="1.6" fill="#333"/>
<rect x="214.32" y="97.70" width="0.8" height="1.6" fill="#333"/>
<rect x="219.60" y="97.70" width="0.8" height="1.6" fill="#333"/>
<circle cx="197.20" cy="81.40" r="0.6" fill="#2a2a2a"/>
<circle cx="197.20" cy="84.80" r="0.5" fill="#2a2a2a"/>
<circle cx="197.20" cy="86.60" r="0.45" fill="#2a2a2a"/>
<circle cx="197.20" cy="94.00" r="0.55" fill="#2a2a2a"/>
<circle cx="197.20" cy="97.40" r="0.5" fill="#2a2a2a"/>
<path d="M197.40,88.80C196.30,88.00 195.30,88.90 195.30,90.00C195.30,91.10 196.30,92.00 197.40,91.20" fill="none" stroke="#222" stroke-width="1.0"/>
<path d="M13.00,111.00H34.50V128.60" fill="none" stroke="#a8a8a8" stroke-width="0.7"/>
<path d="M13.00,128.60L13.00,128.60L13.20,128.60L13.39,128.60L13.59,128.60L13.78,128.60L13.98,128.60L14.17,128.60L14.37,128.60L14.56,128.60L14.76,128.60L14.95,128.60L15.15,128.60L15.35,128.60L15.54,128.60L15.74,128.60L15.93,128.60L16.13,128.60L16.32,128.60L16.52,128.60L16.71,128.60L16.91,128.60L17.10,128.60L17.30,128.60L17.50,128.60L17.69,128.60L17.89,128.60L18.08,128.60L18.28,128.60L18.47,128.60L18.67,128.60L18.86,128.60L19.06,128.60L19.25,128.60L19.45,128.60L19.65,128.60L19.84,128.60L20.04,128.60L20.23,128.60L20.43,128.60L20.62,128.60L20.82,128.60L21.01,128.60L21.21,128.60L21.40,128.60L21.60,128.60L21.80,128.60L21.99,128.60L22.19,128.60L22.38,128.60L22.58,128.60L22.77,128.60L22.97,128.60L23.16,128.60L23.36,128.60L23.55,128.60L23.75,128.60L23.95,128.60L24.14,128.60L24.34,128.60L24.53,128.60L24.73,128.60L24.92,128.60L25.12,128.60L25.31,128.59L25.51,128.58L25.70,128.56L25.90,128.52L26.10,128.43L26.29,128.28L26.49,128.04L26.68,127.62L26.88,126.82L27.07,125.10L27.27,121.76L27.46,116.93L27.66,112.63L27.85,111.64L28.05,114.25L28.25,118.64L28.44,122.68L28.64,125.32L28.83,126.72L29.03,127.42L29.22,127.83L29.42,128.10L29.61,128.29L29.81,128.41L30.00,128.49L30.20,128.54L30.40,128.57L30.59,128.59L30.79,128.59L30.98,128.60L31.18,128.60L31.37,128.60L31.57,128.60L31.76,128.60L31.96,128.60L32.15,128.60L32.35,128.60L32.55,128.60L32.74,128.60L32.94,128.60L33.13,128.60L33.33,128.60L33.52,128.60L33.72,128.60L33.91,128.60L34.11,128.60L34.30,128.60L34.50,128.60L34.50,128.60Z" fill="#0a0a0a"/>
<path d="M13.00,111.00V128.60" fill="none" stroke="#a0a0a0" stroke-width="0.8"/>
<path d="M12.60,128.60H34.50" fill="none" stroke="#1a1a1a" stroke-width="1.1"/>
<rect x="12.80" y="128.60" width="0.8" height="1.6" fill="#333"/>
<rect x="18.08" y="128.60" width="0.8" height="1.6" fill="#333"/>
<rect x="23.35" y="128.60" width="0.8" height="1.6" fill="#333"/>
<rect x="28.62" y="128.60" width="0.8" height="1.6" fill="#333"/>
<rect x="33.90" y="128.60" width="0.8" height="1.6" fill="#333"/>
<circle cx="11.50" cy="111.40" r="0.6" fill="#2a2a2a"/>
<circle cx="11.50" cy="114.80" r="0.5" fill="#2a2a2a"/>
<circle cx="11.50" cy="116.60" r="0.45" fill="#2a2a2a"/>
<circle cx="11.50" cy="124.00" r="0.55" fill="#2a2a2a"/>
<circle cx="11.50" cy="128.30" r="0.5" fill="#2a2a2a"/>
<path d="M11.70,118.80C10.60,118.00 9.60,118.90 9.60,120.00C9.60,121.10 10.60,122.00 11.70,121.20" fill="none" stroke="#222" stroke-width="1.0"/>
<path d="M39.50,111.00H61.00V128.60" fill="none" stroke="#a8a8a8" stroke-width="0.7"/>
<path d="M39.50,128.60L39.50,128.60L39.70,128.60L39.89,128.60L40.09,128.60L40.28,128.60L40.48,128.60L40.67,128.60L40.87,128.60L41.06,128.60L41.26,128.60L41.45,128.60L41.65,128.60L41.85,128.60L42.04,128.60L42.24,128.60L42.43,128.60L42.63,128.60L42.82,128.60L43.02,128.60L43.21,128.60L43.41,128.60L43.60,128.60L43.80,128.60L44.00,128.60L44.19,128.60L44.39,128.60L44.58,128.60L44.78,128.60L44.97,128.60L45.17,128.60L45.36,128.60L45.56,128.60L45.75,128.60L45.95,128.60L46.15,128.60L46.34,128.60L46.54,128.60L46.73,128.60L46.93,128.60L47.12,128.60L47.32,128.60L47.51,128.60L47.71,128.60L47.90,128.60L48.10,128.60L48.30,128.60L48.49,128.60L48.69,128.60L48.88,128.60L49.08,128.60L49.27,128.60L49.47,128.60L49.66,128.60L49.86,128.60L50.05,128.60L50.25,128.60L50.45,128.60L50.64,128.60L50.84,128.60L51.03,128.60L51.23,128.60L51.42,128.60L51.62,128.60L51.81,128.60L52.01,128.60L52.20,128.60L52.40,128.60L52.60,128.59L52.79,128.59L52.99,128.58L53.18,128.55L53.38,128.51L53.57,128.44L53.77,128.33L53.96,128.15L54.16,127.86L54.35,127.39L54.55,126.62L54.75,125.42L54.94,123.76L55.14,121.83L55.33,120.07L55.53,119.08L55.72,119.14L55.92,119.88L56.11,121.09L56.31,122.51L56.50,123.89L56.70,125.06L56.90,125.96L57.09,126.61L57.29,127.07L57.48,127.40L57.68,127.65L57.87,127.85L58.07,128.01L58.26,128.14L58.46,128.25L58.65,128.34L58.85,128.41L59.05,128.46L59.24,128.50L59.44,128.53L59.63,128.55L59.83,128.57L60.02,128.58L60.22,128.59L60.41,128.59L60.61,128.59L60.80,128.60L61.00,128.60L61.00,128.60Z" fill="#0a0a0a"/>
<path d="M39.50,111.00V128.60" fill="none" stroke="#a0a0a0" stroke-width="0.8"/>
<path d="M39.10,128.60H61.00" fill="none" stroke="#1a1a1a" stroke-width="1.1"/>
<rect x="39.30" y="128.60" width="0.8" height="1.6" fill="#333"/>
<rect x="44.58" y="128.60" width="0.8" height="1.6" fill="#333"/>
<rect x="49.85" y="128.60" width="0.8" height="1.6" fill="#333"/>
<rect x="55.13" y="128.60" width="0.8" height="1.6" fill="#333"/>
<rect x="60.40" y="128.60" width="0.8" height="1.6" fill="#333"/>
<circle cx="38.00" cy="111.40" r="0.6" fill="#2a2a2a"/>
<circle cx="38.00" cy="114.80" r="0.5" fill="#2a2a2a"/>
<circle cx="38.00" cy="116.60" r="0.45" fill="#2a2a2a"/>
<circle cx="38.00" cy="124.00" r="0.55" fill="#2a2a2a"/>
<circle cx="38.00" cy="128.30" r="0.5" fill="#2a2a2a"/>
<path d="M38.20,118.80C37.10,118.00 36.10,118.90 36.10,120.00C36.10,121.10 37.10,122.00 38.20,121.20" fill="none" stroke="#222" stroke-width="1.0"/>
<path d="M65.50,111.00H87.00V128.60" fill="none" stroke="#a8a8a8" stroke-width="0.7"/>
<path d="M65.50,128.60L65.50,128.60L65.70,128.60L65.89,128.60L66.09,128.60L66.28,128.60L66.48,128.60L66.67,128.60L66.87,128.60L67.06,128.60L67.26,128.60L67.45,128.60L67.65,128.60L67.85,128.60L68.04,128.60L68.24,128.60L68.43,128.60L68.63,128.60L68.82,128.60L69.02,128.60L69.21,128.60L69.41,128.60L69.60,128.60L69.80,128.60L70.00,128.60L70.19,128.60L70.39,128.60L70.58,128.60L70.78,128.60L70.97,128.60L71.17,128.60L71.36,128.60L71.56,128.60L71.75,128.60L71.95,128.60L72.15,128.60L72.34,128.60L72.54,128.60L72.73,128.60L72.93,128.60L73.12,128.60L73.32,128.60L73.51,128.60L73.71,128.60L73.90,128.60L74.10,128.60L74.30,128.60L74.49,128.60L74.69,128.60L74.88,128.60L75.08,128.60L75.27,128.60L75.47,128.60L75.66,128.60L75.86,128.60L76.05,128.60L76.25,128.60L76.45,128.60L76.64,128.60L76.84,128.60L77.03,128.60L77.23,128.60L77.42,128.60L77.62,128.60L77.81,128.60L78.01,128.60L78.20,128.60L78.40,128.60L78.60,128.60L78.79,128.60L78.99,128.60L79.18,128.60L79.38,128.60L79.57,128.60L79.77,128.60L79.96,128.59L80.16,128.58L80.35,128.55L80.55,128.50L80.75,128.40L80.94,128.23L81.14,127.95L81.33,127.46L81.53,126.47L81.72,124.37L81.92,120.53L82.11,115.51L82.31,111.79L82.50,111.83L82.70,115.14L82.90,119.67L83.09,123.44L83.29,125.74L83.48,126.92L83.68,127.53L83.87,127.90L84.07,128.15L84.26,128.32L84.46,128.44L84.65,128.51L84.85,128.55L85.05,128.58L85.24,128.59L85.44,128.59L85.63,128.60L85.83,128.60L86.02,128.60L86.22,128.60L86.41,128.60L86.61,128.60L86.80,128.60L87.00,128.60L87.00,128.60Z" fill="#0a0a0a"/>
<path d="M65.50,111.00V128.60" fill="none" stroke="#a0a0a0" stroke-width="0.8"/>
<path d="M65.10,128.60H87.00" fill="none" stroke="#1a1a1a" stroke-width="1.1"/>
<rect x="65.30" y="128.60" width="0.8" height="1.6" fill="#333"/>
<rect x="70.58" y="128.60" width="0.8" height="1.6" fill="#333"/>
<rect x="75.85" y="128.60" width="0.8" height="1.6" fill="#333"/>
<rect x="81.12" y="128.60" width="0.8" height="1.6" fill="#333"/>
<rect x="86.40" y="128.60" width="0.8" height="1.6" fill="#333"/>
<circle cx="64.00" cy="111.40" r="0.6" fill="#2a2a2a"/>
<circle cx="64.00" cy="114.80" r="0.5" fill="#2a2a2a"/>
<circle cx="64.00" cy="116.60" r="0.45" fill="#2a2a2a"/>
<circle cx="64.00" cy="124.00" r="0.55" fill="#2a2a2a"/>
<circle cx="64.00" cy="128.30" r="0.5" fill="#2a2a2a"/>
<path d="M64.20,118.80C63.10,118.00 62.10,118.90 62.10,120.00C62.10,121.10 63.10,122.00 64.20,121.20" fill="none" stroke="#222" stroke-width="1.0"/>
<path d="M91.50,111.00H113.00V128.60" fill="none" stroke="#a8a8a8" stroke-width="0.7"/>
<path d="M91.50,128.60L91.50,128.60L91.70,128.60L91.89,128.60L92.09,128.60L92.28,128.60L92.48,128.60L92.67,128.60L92.87,128.60L93.06,128.60L93.26,128.60L93.45,128.60L93.65,128.60L93.85,128.60L94.04,128.60L94.24,128.60L94.43,128.60L94.63,128.60L94.82,128.60L95.02,128.60L95.21,128.60L95.41,128.60L95.60,128.60L95.80,128.60L96.00,128.60L96.19,128.60L96.39,128.60L96.58,128.60L96.78,128.60L96.97,128.60L97.17,128.60L97.36,128.60L97.56,128.60L97.75,128.60L97.95,128.60L98.15,128.60L98.34,128.60L98.54,128.60L98.73,128.60L98.93,128.60L99.12,128.60L99.32,128.60L99.51,128.60L99.71,128.60L99.90,128.60L100.10,128.60L100.30,128.60L100.49,128.60L100.69,128.60L100.88,128.60L101.08,128.60L101.27,128.60L101.47,128.60L101.66,128.60L101.86,128.60L102.05,128.60L102.25,128.60L102.45,128.60L102.64,128.60L102.84,128.60L103.03,128.60L103.23,128.60L103.42,128.60L103.62,128.60L103.81,128.60L104.01,128.60L104.20,128.60L104.40,128.60L104.60,128.60L104.79,128.60L104.99,128.60L105.18,128.60L105.38,128.60L105.57,128.60L105.77,128.60L105.96,128.60L106.16,128.60L106.35,128.59L106.55,128.58L106.75,128.55L106.94,128.50L107.14,128.40L107.33,128.24L107.53,127.96L107.72,127.49L107.92,126.54L108.11,124.50L108.31,120.74L108.50,115.74L108.70,111.89L108.90,111.74L109.09,114.94L109.29,119.47L109.48,123.29L109.68,125.66L109.87,126.88L110.07,127.51L110.26,127.88L110.46,128.14L110.65,128.31L110.85,128.43L111.05,128.51L111.24,128.55L111.44,128.58L111.63,128.59L111.83,128.59L112.02,128.60L112.22,128.60L112.41,128.60L112.61,128.60L112.80,128.60L113.00,128.60L113.00,128.60Z" fill="#0a0a0a"/>
<path d="M91.50,111.00V128.60" fill="none" stroke="#a0a0a0" stroke-width="0.8"/>
<path d="M91.10,128.60H113.00" fill="none" stroke="#1a1a1a" stroke-width="1.1"/>
<rect x="91.30" y="128.60" width="0.8" height="1.6" fill="#333"/>
<rect x="96.58" y="128.60" width="0.8" height="1.6" fill="#333"/>
<rect x="101.85" y="128.60" width="0.8" height="1.6" fill="#333"/>
<rect x="107.12" y="128.60" width="0.8" height="1.6" fill="#333"/>
<rect x="112.40" y="128.60" width="0.8" height="1.6" fill="#333"/>
<circle cx="90.00" cy="111.40" r="0.6" fill="#2a2a2a"/>
<circle cx="90.00" cy="114.80" r="0.5" fill="#2a2a2a"/>
<circle cx="90.00" cy="116.60" r="0.45" fill="#2a2a2a"/>
<circle cx="90.00" cy="124.00" r="0.55" fill="#2a2a2a"/>
<circle cx="90.00" cy="128.30" r="0.5" fill="#2a2a2a"/>
<path d="M90.20,118.80C89.10,118.00 88.10,118.90 88.10,120.00C88.10,121.10 89.10,122.00 90.20,121.20" fill="none" stroke="#222" stroke-width="1.0"/>
<path d="M118.70,111.00H140.20V128.60" fill="none" stroke="#a8a8a8" stroke-width="0.7"/>
<path d="M118.70,128.60L118.70,128.60L118.90,128.60L119.09,128.60L119.29,128.60L119.48,128.60L119.68,128.60L119.87,128.60L120.07,128.60L120.26,128.60L120.46,128.60L120.65,128.60L120.85,128.60L121.05,128.60L121.24,128.60L121.44,128.60L121.63,128.60L121.83,128.60L122.02,128.60L122.22,128.60L122.41,128.60L122.61,128.60L122.80,128.60L123.00,128.60L123.20,128.60L123.39,128.60L123.59,128.60L123.78,128.60L123.98,128.60L124.17,128.60L124.37,128.60L124.56,128.60L124.76,128.60L124.95,128.60L125.15,128.60L125.35,128.60L125.54,128.60L125.74,128.60L125.93,128.60L126.13,128.60L126.32,128.60L126.52,128.60L126.71,128.60L126.91,128.60L127.10,128.60L127.30,128.60L127.50,128.60L127.69,128.60L127.89,128.60L128.08,128.60L128.28,128.60L128.47,128.60L128.67,128.60L128.86,128.60L129.06,128.60L129.25,128.60L129.45,128.60L129.65,128.60L129.84,128.60L130.04,128.60L130.23,128.60L130.43,128.60L130.62,128.60L130.82,128.59L131.01,128.58L131.21,128.55L131.40,128.51L131.60,128.43L131.80,128.30L131.99,128.09L132.19,127.74L132.38,127.20L132.58,126.30L132.77,124.83L132.97,122.57L133.16,119.49L133.36,115.99L133.55,112.94L133.75,111.37L133.95,111.65L134.14,113.10L134.34,115.36L134.53,117.93L134.73,120.38L134.92,122.44L135.12,124.00L135.31,125.13L135.51,125.93L135.70,126.50L135.90,126.94L136.10,127.28L136.29,127.57L136.49,127.80L136.68,127.99L136.88,128.15L137.07,128.27L137.27,128.36L137.46,128.43L137.66,128.48L137.85,128.52L138.05,128.55L138.25,128.57L138.44,128.58L138.64,128.59L138.83,128.59L139.03,128.59L139.22,128.60L139.42,128.60L139.61,128.60L139.81,128.60L140.00,128.60L140.20,128.60L140.20,128.60Z" fill="#0a0a0a"/>
<path d="M118.70,111.00V128.60" fill="none" stroke="#a0a0a0" stroke-width="0.8"/>
<path d="M118.30,128.60H140.20" fill="none" stroke="#1a1a1a" stroke-width="1.1"/>
<rect x="118.50" y="128.60" width="0.8" height="1.6" fill="#333"/>
<rect x="123.78" y="128.60" width="0.8" height="1.6" fill="#333"/>
<rect x="129.05" y="128.60" width="0.8" height="1.6" fill="#333"/>
<rect x="134.32" y="128.60" width="0.8" height="1.6" fill="#333"/>
<rect x="139.60" y="128.60" width="0.8" height="1.6" fill="#333"/>
<circle cx="117.20" cy="111.40" r="0.6" fill="#2a2a2a"/>
<circle cx="117.20" cy="114.80" r="0.5" fill="#2a2a2a"/>
<circle cx="117.20" cy="116.60" r="0.45" fill="#2a2a2a"/>
<circle cx="117.20" cy="124.00" r="0.55" fill="#2a2a2a"/>
<circle cx="117.20" cy="128.30" r="0.5" fill="#2a2a2a"/>
<path d="M117.40,118.80C116.30,118.00 115.30,118.90 115.30,120.00C115.30,121.10 116.30,122.00 117.40,121.20" fill="none" stroke="#222" stroke-width="1.0"/>
<path d="M145.70,111.00H167.20V128.60" fill="none" stroke="#a8a8a8" stroke-width="0.7"/>
<path d="M145.70,128.60L145.70,128.60L145.90,128.60L146.09,128.60L146.29,128.60L146.48,128.60L146.68,128.60L146.87,128.60L147.07,128.60L147.26,128.60L147.46,128.60L147.65,128.60L147.85,128.60L148.05,128.60L148.24,128.60L148.44,128.60L148.63,128.60L148.83,128.60L149.02,128.60L149.22,128.60L149.41,128.60L149.61,128.60L149.80,128.60L150.00,128.60L150.20,128.60L150.39,128.60L150.59,128.60L150.78,128.60L150.98,128.60L151.17,128.60L151.37,128.60L151.56,128.60L151.76,128.60L151.95,128.60L152.15,128.60L152.35,128.60L152.54,128.60L152.74,128.60L152.93,128.60L153.13,128.60L153.32,128.60L153.52,128.60L153.71,128.60L153.91,128.60L154.10,128.60L154.30,128.60L154.50,128.60L154.69,128.60L154.89,128.60L155.08,128.60L155.28,128.60L155.47,128.60L155.67,128.60L155.86,128.60L156.06,128.60L156.25,128.60L156.45,128.60L156.65,128.60L156.84,128.60L157.04,128.59L157.23,128.58L157.43,128.57L157.62,128.54L157.82,128.49L158.01,128.41L158.21,128.29L158.40,128.08L158.60,127.75L158.80,127.22L158.99,126.40L159.19,125.30L159.38,124.09L159.58,123.07L159.77,122.61L159.97,122.76L160.16,123.31L160.36,124.11L160.55,125.00L160.75,125.84L160.95,126.53L161.14,127.06L161.34,127.43L161.53,127.70L161.73,127.89L161.92,128.04L162.12,128.16L162.31,128.25L162.51,128.33L162.70,128.40L162.90,128.45L163.10,128.49L163.29,128.52L163.49,128.54L163.68,128.56L163.88,128.57L164.07,128.58L164.27,128.59L164.46,128.59L164.66,128.60L164.85,128.60L165.05,128.60L165.25,128.60L165.44,128.60L165.64,128.60L165.83,128.60L166.03,128.60L166.22,128.60L166.42,128.60L166.61,128.60L166.81,128.60L167.00,128.60L167.20,128.60L167.20,128.60Z" fill="#0a0a0a"/>
<path d="M145.70,111.00V128.60" fill="none" stroke="#a0a0a0" stroke-width="0.8"/>
<path d="M145.30,128.60H167.20" fill="none" stroke="#1a1a1a" stroke-width="1.1"/>
<rect x="145.50" y="128.60" width="0.8" height="1.6" fill="#333"/>
<rect x="150.77" y="128.60" width="0.8" height="1.6" fill="#333"/>
<rect x="156.05" y="128.60" width="0.8" height="1.6" fill="#333"/>
<rect x="161.32" y="128.60" width="0.8" height="1.6" fill="#333"/>
<rect x="166.60" y="128.60" width="0.8" height="1.6" fill="#333"/>
<circle cx="144.20" cy="111.40" r="0.6" fill="#2a2a2a"/>
<circle cx="144.20" cy="114.80" r="0.5" fill="#2a2a2a"/>
<circle cx="144.20" cy="116.60" r="0.45" fill="#2a2a2a"/>
<circle cx="144.20" cy="124.00" r="0.55" fill="#2a2a2a"/>
<circle cx="144.20" cy="128.30" r="0.5" fill="#2a2a2a"/>
<path d="M144.40,118.80C143.30,118.00 142.30,118.90 142.30,120.00C142.30,121.10 143.30,122.00 144.40,121.20" fill="none" stroke="#222" stroke-width="1.0"/>
<path d="M172.50,111.00H194.00V128.60" fill="none" stroke="#a8a8a8" stroke-width="0.7"/>
<path d="M172.50,128.60L172.50,128.60L172.70,128.60L172.89,128.60L173.09,128.60L173.28,128.60L173.48,128.60L173.67,128.60L173.87,128.60L174.06,128.60L174.26,128.60L174.45,128.60L174.65,128.60L174.85,128.60L175.04,128.60L175.24,128.60L175.43,128.60L175.63,128.60L175.82,128.60L176.02,128.60L176.21,128.60L176.41,128.60L176.60,128.60L176.80,128.60L177.00,128.60L177.19,128.60L177.39,128.60L177.58,128.60L177.78,128.60L177.97,128.60L178.17,128.60L178.36,128.60L178.56,128.60L178.75,128.60L178.95,128.60L179.15,128.60L179.34,128.60L179.54,128.60L179.73,128.60L179.93,128.60L180.12,128.60L180.32,128.60L180.51,128.60L180.71,128.60L180.90,128.60L181.10,128.60L181.30,128.60L181.49,128.60L181.69,128.60L181.88,128.60L182.08,128.60L182.27,128.60L182.47,128.60L182.66,128.60L182.86,128.60L183.05,128.60L183.25,128.60L183.45,128.60L183.64,128.60L183.84,128.60L184.03,128.60L184.23,128.60L184.42,128.60L184.62,128.60L184.81,128.60L185.01,128.60L185.20,128.60L185.40,128.59L185.60,128.59L185.79,128.57L185.99,128.55L186.18,128.50L186.38,128.42L186.57,128.28L186.77,128.06L186.96,127.70L187.16,127.13L187.35,126.19L187.55,124.67L187.75,122.43L187.94,119.57L188.14,116.60L188.33,114.38L188.53,113.71L188.72,114.39L188.92,115.96L189.11,118.06L189.31,120.28L189.50,122.27L189.70,123.88L189.90,125.07L190.09,125.91L190.29,126.51L190.48,126.95L190.68,127.29L190.87,127.57L191.07,127.79L191.26,127.98L191.46,128.13L191.65,128.25L191.85,128.35L192.05,128.42L192.24,128.47L192.44,128.51L192.63,128.54L192.83,128.56L193.02,128.57L193.22,128.58L193.41,128.59L193.61,128.59L193.80,128.60L194.00,128.60L194.00,128.60Z" fill="#0a0a0a"/>
<path d="M172.50,111.00V128.60" fill="none" stroke="#a0a0a0" stroke-width="0.8"/>
<path d="M172.10,128.60H194.00" fill="none" stroke="#1a1a1a" stroke-width="1.1"/>
<rect x="172.30" y="128.60" width="0.8" height="1.6" fill="#333"/>
<rect x="177.57" y="128.60" width="0.8" height="1.6" fill="#333"/>
<rect x="182.85" y="128.60" width="0.8" height="1.6" fill="#333"/>
<rect x="188.12" y="128.60" width="0.8" height="1.6" fill="#333"/>
<rect x="193.40" y="128.60" width="0.8" height="1.6" fill="#333"/>
<circle cx="171.00" cy="111.40" r="0.6" fill="#2a2a2a"/>
<circle cx="171.00" cy="114.80" r="0.5" fill="#2a2a2a"/>
<circle cx="171.00" cy="116.60" r="0.45" fill="#2a2a2a"/>
<circle cx="171.00" cy="124.00" r="0.55" fill="#2a2a2a"/>
<circle cx="171.00" cy="128.30" r="0.5" fill="#2a2a2a"/>
<path d="M171.20,118.80C170.10,118.00 169.10,118.90 169.10,120.00C169.10,121.10 170.10,122.00 171.20,121.20" fill="none" stroke="#222" stroke-width="1.0"/>
<path d="M198.70,111.00H220.20V128.60" fill="none" stroke="#a8a8a8" stroke-width="0.7"/>
<path d="M198.70,128.60L198.70,128.60L198.90,128.60L199.09,128.60L199.29,128.60L199.48,128.60L199.68,128.60L199.87,128.60L200.07,128.60L200.26,128.60L200.46,128.60L200.65,128.60L200.85,128.60L201.05,128.60L201.24,128.60L201.44,128.60L201.63,128.60L201.83,128.60L202.02,128.60L202.22,128.60L202.41,128.60L202.61,128.60L202.80,128.60L203.00,128.60L203.20,128.60L203.39,128.60L203.59,128.60L203.78,128.60L203.98,128.60L204.17,128.60L204.37,128.60L204.56,128.60L204.76,128.60L204.95,128.60L205.15,128.60L205.35,128.60L205.54,128.60L205.74,128.60L205.93,128.60L206.13,128.60L206.32,128.60L206.52,128.60L206.71,128.60L206.91,128.60L207.10,128.60L207.30,128.60L207.50,128.60L207.69,128.60L207.89,128.60L208.08,128.60L208.28,128.60L208.47,128.60L208.67,128.60L208.86,128.60L209.06,128.60L209.25,128.60L209.45,128.60L209.65,128.60L209.84,128.60L210.04,128.60L210.23,128.60L210.43,128.60L210.62,128.60L210.82,128.60L211.01,128.60L211.21,128.60L211.40,128.60L211.60,128.60L211.80,128.60L211.99,128.60L212.19,128.60L212.38,128.60L212.58,128.60L212.77,128.60L212.97,128.60L213.16,128.59L213.36,128.58L213.55,128.55L213.75,128.50L213.95,128.39L214.14,128.22L214.34,127.93L214.53,127.44L214.73,126.44L214.92,124.29L215.12,120.39L215.31,115.29L215.51,111.50L215.70,111.54L215.90,114.91L216.10,119.52L216.29,123.35L216.49,125.69L216.68,126.89L216.88,127.51L217.07,127.89L217.27,128.14L217.46,128.32L217.66,128.43L217.85,128.51L218.05,128.55L218.25,128.58L218.44,128.59L218.64,128.59L218.83,128.60L219.03,128.60L219.22,128.60L219.42,128.60L219.61,128.60L219.81,128.60L220.00,128.60L220.20,128.60L220.20,128.60Z" fill="#0a0a0a"/>
<path d="M198.70,111.00V128.60" fill="none" stroke="#a0a0a0" stroke-width="0.8"/>
<path d="M198.30,128.60H220.20" fill="none" stroke="#1a1a1a" stroke-width="1.1"/>
<rect x="198.50" y="128.60" width="0.8" height="1.6" fill="#333"/>
<rect x="203.77" y="128.60" width="0.8" height="1.6" fill="#333"/>
<rect x="209.05" y="128.60" width="0.8" height="1.6" fill="#333"/>
<rect x="214.32" y="128.60" width="0.8" height="1.6" fill="#333"/>
<rect x="219.60" y="128.60" width="0.8" height="1.6" fill="#333"/>
<circle cx="197.20" cy="111.40" r="0.6" fill="#2a2a2a"/>
<circle cx="197.20" cy="114.80" r="0.5" fill="#2a2a2a"/>
<circle cx="197.20" cy="116.60" r="0.45" fill="#2a2a2a"/>
<circle cx="197.20" cy="124.00" r="0.55" fill="#2a2a2a"/>
<circle cx="197.20" cy="128.30" r="0.5" fill="#2a2a2a"/>
<path d="M197.40,118.80C196.30,118.00 195.30,118.90 195.30,120.00C195.30,121.10 196.30,122.00 197.40,121.20" fill="none" stroke="#222" stroke-width="1.0"/>
<path d="M13.00,136.40H34.50V154.20" fill="none" stroke="#a8a8a8" stroke-width="0.7"/>
<path d="M13.00,154.20L13.00,154.20L13.20,154.20L13.39,154.20L13.59,154.20L13.78,154.20L13.98,154.20L14.17,154.20L14.37,154.20L14.56,154.20L14.76,154.20L14.95,154.20L15.15,154.20L15.35,154.20L15.54,154.20L15.74,154.20L15.93,154.20L16.13,154.20L16.32,154.20L16.52,154.20L16.71,154.20L16.91,154.20L17.10,154.20L17.30,154.20L17.50,154.20L17.69,154.20L17.89,154.20L18.08,154.20L18.28,154.20L18.47,154.20L18.67,154.20L18.86,154.20L19.06,154.20L19.25,154.20L19.45,154.20L19.65,154.20L19.84,154.20L20.04,154.20L20.23,154.20L20.43,154.20L20.62,154.20L20.82,154.20L21.01,154.20L21.21,154.20L21.40,154.20L21.60,154.20L21.80,154.20L21.99,154.20L22.19,154.20L22.38,154.20L22.58,154.20L22.77,154.20L22.97,154.20L23.16,154.19L23.36,154.18L23.55,154.17L23.75,154.13L23.95,154.07L24.14,153.97L24.34,153.80L24.53,153.53L24.73,153.10L24.92,152.39L25.12,151.23L25.31,149.41L25.51,146.82L25.70,143.71L25.90,140.75L26.10,138.88L26.29,138.72L26.49,139.77L26.68,141.65L26.88,143.93L27.07,146.20L27.27,148.17L27.46,149.71L27.66,150.82L27.85,151.61L28.05,152.18L28.25,152.60L28.44,152.93L28.64,153.20L28.83,153.42L29.03,153.61L29.22,153.75L29.42,153.87L29.61,153.96L29.81,154.03L30.00,154.08L30.20,154.12L30.40,154.15L30.59,154.16L30.79,154.18L30.98,154.19L31.18,154.19L31.37,154.19L31.57,154.20L31.76,154.20L31.96,154.20L32.15,154.20L32.35,154.20L32.55,154.20L32.74,154.20L32.94,154.20L33.13,154.20L33.33,154.20L33.52,154.20L33.72,154.20L33.91,154.20L34.11,154.20L34.30,154.20L34.50,154.20L34.50,154.20Z" fill="#0a0a0a"/>
<path d="M13.00,136.40V154.20" fill="none" stroke="#a0a0a0" stroke-width="0.8"/>
<path d="M12.60,154.20H34.50" fill="none" stroke="#1a1a1a" stroke-width="1.1"/>
<rect x="12.80" y="154.20" width="0.8" height="1.6" fill="#333"/>
<rect x="18.08" y="154.20" width="0.8" height="1.6" fill="#333"/>
<rect x="23.35" y="154.20" width="0.8" height="1.6" fill="#333"/>
<rect x="28.62" y="154.20" width="0.8" height="1.6" fill="#333"/>
<rect x="33.90" y="154.20" width="0.8" height="1.6" fill="#333"/>
<circle cx="11.50" cy="136.80" r="0.6" fill="#2a2a2a"/>
<circle cx="11.50" cy="140.20" r="0.5" fill="#2a2a2a"/>
<circle cx="11.50" cy="142.00" r="0.45" fill="#2a2a2a"/>
<circle cx="11.50" cy="149.40" r="0.55" fill="#2a2a2a"/>
<circle cx="11.50" cy="153.90" r="0.5" fill="#2a2a2a"/>
<path d="M11.70,144.20C10.60,143.40 9.60,144.30 9.60,145.40C9.60,146.50 10.60,147.40 11.70,146.60" fill="none" stroke="#222" stroke-width="1.0"/>
<path d="M39.50,136.40H61.00V154.20" fill="none" stroke="#a8a8a8" stroke-width="0.7"/>
<path d="M39.50,154.20L39.50,154.20L39.70,154.20L39.89,154.20L40.09,154.20L40.28,154.20L40.48,154.20L40.67,154.20L40.87,154.20L41.06,154.20L41.26,154.20L41.45,154.20L41.65,154.20L41.85,154.20L42.04,154.20L42.24,154.20L42.43,154.20L42.63,154.20L42.82,154.20L43.02,154.20L43.21,154.20L43.41,154.20L43.60,154.20L43.80,154.20L44.00,154.20L44.19,154.20L44.39,154.20L44.58,154.20L44.78,154.20L44.97,154.20L45.17,154.20L45.36,154.20L45.56,154.20L45.75,154.20L45.95,154.20L46.15,154.20L46.34,154.20L46.54,154.20L46.73,154.20L46.93,154.20L47.12,154.20L47.32,154.20L47.51,154.20L47.71,154.20L47.90,154.20L48.10,154.20L48.30,154.20L48.49,154.20L48.69,154.20L48.88,154.20L49.08,154.20L49.27,154.20L49.47,154.20L49.66,154.20L49.86,154.20L50.05,154.20L50.25,154.20L50.45,154.20L50.64,154.20L50.84,154.20L51.03,154.20L51.23,154.20L51.42,154.20L51.62,154.20L51.81,154.20L52.01,154.20L52.20,154.20L52.40,154.20L52.60,154.20L52.79,154.20L52.99,154.20L53.18,154.20L53.38,154.19L53.57,154.19L53.77,154.17L53.96,154.14L54.16,154.09L54.35,154.00L54.55,153.86L54.75,153.63L54.94,153.27L55.14,152.68L55.33,151.70L55.53,150.17L55.72,148.03L55.92,145.48L56.11,143.11L56.31,141.67L56.50,141.63L56.70,142.54L56.90,144.10L57.09,145.97L57.29,147.81L57.48,149.39L57.68,150.61L57.87,151.50L58.07,152.13L58.26,152.58L58.46,152.92L58.65,153.18L58.85,153.40L59.05,153.58L59.24,153.73L59.44,153.85L59.63,153.94L59.83,154.01L60.02,154.07L60.22,154.11L60.41,154.14L60.61,154.16L60.80,154.17L61.00,154.18L61.00,154.20Z" fill="#0a0a0a"/>
<path d="M39.50,136.40V154.20" fill="none" stroke="#a0a0a0" stroke-width="0.8"/>
<path d="M39.10,154.20H61.00" fill="none" stroke="#1a1a1a" stroke-width="1.1"/>
<rect x="39.30" y="154.20" width="0.8" height="1.6" fill="#333"/>
<rect x="44.58" y="154.20" width="0.8" height="1.6" fill="#333"/>
<rect x="49.85" y="154.20" width="0.8" height="1.6" fill="#333"/>
<rect x="55.13" y="154.20" width="0.8" height="1.6" fill="#333"/>
<rect x="60.40" y="154.20" width="0.8" height="1.6" fill="#333"/>
<circle cx="38.00" cy="136.80" r="0.6" fill="#2a2a2a"/>
<circle cx="38.00" cy="140.20" r="0.5" fill="#2a2a2a"/>
<circle cx="38.00" cy="142.00" r="0.45" fill="#2a2a2a"/>
<circle cx="38.00" cy="149.40" r="0.55" fill="#2a2a2a"/>
<circle cx="38.00" cy="153.90" r="0.5" fill="#2a2a2a"/>
<path d="M38.20,144.20C37.10,143.40 36.10,144.30 36.10,145.40C36.10,146.50 37.10,147.40 38.20,146.60" fill="none" stroke="#222" stroke-width="1.0"/>
<path d="M65.50,136.40H87.00V154.20" fill="none" stroke="#a8a8a8" stroke-width="0.7"/>
<path d="M65.50,154.20L65.50,154.20L65.70,154.20L65.89,154.20L66.09,154.20L66.28,154.20L66.48,154.20L66.67,154.20L66.87,154.20L67.06,154.20L67.26,154.20L67.45,154.20L67.65,154.20L67.85,154.20L68.04,154.20L68.24,154.20L68.43,154.20L68.63,154.20L68.82,154.20L69.02,154.20L69.21,154.20L69.41,154.20L69.60,154.20L69.80,154.20L70.00,154.20L70.19,154.20L70.39,154.20L70.58,154.20L70.78,154.20L70.97,154.20L71.17,154.20L71.36,154.20L71.56,154.20L71.75,154.20L71.95,154.20L72.15,154.20L72.34,154.20L72.54,154.20L72.73,154.20L72.93,154.20L73.12,154.20L73.32,154.20L73.51,154.20L73.71,154.20L73.90,154.20L74.10,154.20L74.30,154.20L74.49,154.20L74.69,154.20L74.88,154.20L75.08,154.20L75.27,154.20L75.47,154.20L75.66,154.20L75.86,154.20L76.05,154.20L76.25,154.20L76.45,154.20L76.64,154.20L76.84,154.20L77.03,154.20L77.23,154.20L77.42,154.20L77.62,154.20L77.81,154.20L78.01,154.20L78.20,154.20L78.40,154.19L78.60,154.19L78.79,154.17L78.99,154.14L79.18,154.08L79.38,153.98L79.57,153.82L79.77,153.55L79.96,153.13L80.16,152.44L80.35,151.32L80.55,149.51L80.75,146.83L80.94,143.42L81.14,139.87L81.33,137.22L81.53,136.41L81.72,137.22L81.92,139.10L82.11,141.61L82.31,144.26L82.50,146.64L82.70,148.56L82.90,149.98L83.09,150.99L83.29,151.71L83.48,152.23L83.68,152.64L83.87,152.97L84.07,153.24L84.26,153.46L84.46,153.64L84.65,153.79L84.85,153.90L85.05,153.98L85.24,154.05L85.44,154.10L85.63,154.13L85.83,154.15L86.02,154.17L86.22,154.18L86.41,154.19L86.61,154.19L86.80,154.20L87.00,154.20L87.00,154.20Z" fill="#0a0a0a"/>
<path d="M65.50,136.40V154.20" fill="none" stroke="#a0a0a0" stroke-width="0.8"/>
<path d="M65.10,154.20H87.00" fill="none" stroke="#1a1a1a" stroke-width="1.1"/>
<rect x="65.30" y="154.20" width="0.8" height="1.6" fill="#333"/>
<rect x="70.58" y="154.20" width="0.8" height="1.6" fill="#333"/>
<rect x="75.85" y="154.20" width="0.8" height="1.6" fill="#333"/>
<rect x="81.12" y="154.20" width="0.8" height="1.6" fill="#333"/>
<rect x="86.40" y="154.20" width="0.8" height="1.6" fill="#333"/>
<circle cx="64.00" cy="136.80" r="0.6" fill="#2a2a2a"/>
<circle cx="64.00" cy="140.20" r="0.5" fill="#2a2a2a"/>
<circle cx="64.00" cy="142.00" r="0.45" fill="#2a2a2a"/>
<circle cx="64.00" cy="149.40" r="0.55" fill="#2a2a2a"/>
<circle cx="64.00" cy="153.90" r="0.5" fill="#2a2a2a"/>
<path d="M64.20,144.20C63.10,143.40 62.10,144.30 62.10,145.40C62.10,146.50 63.10,147.40 64.20,146.60" fill="none" stroke="#222" stroke-width="1.0"/>
<path d="M91.50,136.40H113.00V154.20" fill="none" stroke="#a8a8a8" stroke-width="0.7"/>
<path d="M91.50,154.20L91.50,154.20L91.70,154.20L91.89,154.20L92.09,154.20L92.28,154.20L92.48,154.20L92.67,154.20L92.87,154.20L93.06,154.20L93.26,154.20L93.45,154.20L93.65,154.20L93.85,154.20L94.04,154.20L94.24,154.20L94.43,154.20L94.63,154.20L94.82,154.20L95.02,154.20L95.21,154.20L95.41,154.20L95.60,154.20L95.80,154.20L96.00,154.20L96.19,154.20L96.39,154.20L96.58,154.20L96.78,154.20L96.97,154.20L97.17,154.20L97.36,154.20L97.56,154.20L97.75,154.20L97.95,154.20L98.15,154.20L98.34,154.20L98.54,154.20L98.73,154.20L98.93,154.20L99.12,154.20L99.32,154.20L99.51,154.20L99.71,154.20L99.90,154.20L100.10,154.20L100.30,154.20L100.49,154.20L100.69,154.20L100.88,154.20L101.08,154.20L101.27,154.20L101.47,154.20L101.66,154.20L101.86,154.20L102.05,154.20L102.25,154.20L102.45,154.20L102.64,154.20L102.84,154.20L103.03,154.20L103.23,154.20L103.42,154.20L103.62,154.20L103.81,154.20L104.01,154.20L104.20,154.20L104.40,154.20L104.60,154.20L104.79,154.20L104.99,154.20L105.18,154.20L105.38,154.20L105.57,154.20L105.77,154.19L105.96,154.18L106.16,154.17L106.35,154.13L106.55,154.07L106.75,153.97L106.94,153.80L107.14,153.54L107.33,153.11L107.53,152.42L107.72,151.27L107.92,149.48L108.11,146.95L108.31,143.91L108.50,141.04L108.70,139.25L108.90,139.13L109.09,140.17L109.29,142.02L109.48,144.25L109.68,146.46L109.87,148.36L110.07,149.85L110.26,150.93L110.46,151.70L110.65,152.24L110.85,152.65L111.05,152.97L111.24,153.23L111.44,153.45L111.63,153.63L111.83,153.77L112.02,153.88L112.22,153.97L112.41,154.04L112.61,154.09L112.80,154.12L113.00,154.15L113.00,154.20Z" fill="#0a0a0a"/>
<path d="M91.50,136.40V154.20" fill="none" stroke="#a0a0a0" stroke-width="0.8"/>
<path d="M91.10,154.20H113.00" fill="none" stroke="#1a1a1a" stroke-width="1.1"/>
<rect x="91.30" y="154.20" width="0.8" height="1.6" fill="#333"/>
<rect x="96.58" y="154.20" width="0.8" height="1.6" fill="#333"/>
<rect x="101.85" y="154.20" width="0.8" height="1.6" fill="#333"/>
<rect x="107.12" y="154.20" width="0.8" height="1.6" fill="#333"/>
<rect x="112.40" y="154.20" width="0.8" height="1.6" fill="#333"/>
<circle cx="90.00" cy="136.80" r="0.6" fill="#2a2a2a"/>
<circle cx="90.00" cy="140.20" r="0.5" fill="#2a2a2a"/>
<circle cx="90.00" cy="142.00" r="0.45" fill="#2a2a2a"/>
<circle cx="90.00" cy="149.40" r="0.55" fill="#2a2a2a"/>
<circle cx="90.00" cy="153.90" r="0.5" fill="#2a2a2a"/>
<path d="M90.20,144.20C89.10,143.40 88.10,144.30 88.10,145.40C88.10,146.50 89.10,147.40 90.20,146.60" fill="none" stroke="#222" stroke-width="1.0"/>
<path d="M118.70,136.40H140.20V154.20" fill="none" stroke="#a8a8a8" stroke-width="0.7"/>
<path d="M118.70,154.20L118.70,154.20L118.90,154.20L119.09,154.20L119.29,154.20L119.48,154.20L119.68,154.20L119.87,154.20L120.07,154.20L120.26,154.20L120.46,154.20L120.65,154.20L120.85,154.20L121.05,154.20L121.24,154.20L121.44,154.20L121.63,154.20L121.83,154.20L122.02,154.20L122.22,154.20L122.41,154.20L122.61,154.20L122.80,154.20L123.00,154.20L123.20,154.20L123.39,154.20L123.59,154.20L123.78,154.20L123.98,154.20L124.17,154.20L124.37,154.20L124.56,154.20L124.76,154.20L124.95,154.20L125.15,154.20L125.35,154.20L125.54,154.20L125.74,154.20L125.93,154.20L126.13,154.20L126.32,154.20L126.52,154.20L126.71,154.20L126.91,154.20L127.10,154.20L127.30,154.20L127.50,154.20L127.69,154.20L127.89,154.20L128.08,154.20L128.28,154.20L128.47,154.20L128.67,154.20L128.86,154.20L129.06,154.20L129.25,154.20L129.45,154.20L129.65,154.20L129.84,154.20L130.04,154.20L130.23,154.20L130.43,154.20L130.62,154.20L130.82,154.20L131.01,154.20L131.21,154.20L131.40,154.20L131.60,154.20L131.80,154.20L131.99,154.20L132.19,154.20L132.38,154.20L132.58,154.20L132.77,154.20L132.97,154.20L133.16,154.20L133.36,154.19L133.55,154.19L133.75,154.17L133.95,154.14L134.14,154.09L134.34,154.00L134.53,153.85L134.73,153.62L134.92,153.25L135.12,152.64L135.31,151.64L135.51,150.07L135.70,147.83L135.90,145.12L136.10,142.53L136.29,140.87L136.49,140.70L136.68,141.59L136.88,143.21L137.07,145.20L137.27,147.18L137.46,148.91L137.66,150.25L137.85,151.24L138.05,151.93L138.25,152.43L138.44,152.80L138.64,153.09L138.83,153.33L139.03,153.52L139.22,153.68L139.42,153.81L139.61,153.91L139.81,153.99L140.00,154.05L140.20,154.10L140.20,154.20Z" fill="#0a0a0a"/>
<path d="M118.70,136.40V154.20" fill="none" stroke="#a0a0a0" stroke-width="0.8"/>
<path d="M118.30,154.20H140.20" fill="none" stroke="#1a1a1a" stroke-width="1.1"/>
<rect x="118.50" y="154.20" width="0.8" height="1.6" fill="#333"/>
<rect x="123.78" y="154.20" width="0.8" height="1.6" fill="#333"/>
<rect x="129.05" y="154.20" width="0.8" height="1.6" fill="#333"/>
<rect x="134.32" y="154.20" width="0.8" height="1.6" fill="#333"/>
<rect x="139.60" y="154.20" width="0.8" height="1.6" fill="#333"/>
<circle cx="117.20" cy="136.80" r="0.6" fill="#2a2a2a"/>
<circle cx="117.20" cy="140.20" r="0.5" fill="#2a2a2a"/>
<circle cx="117.20" cy="142.00" r="0.45" fill="#2a2a2a"/>
<circle cx="117.20" cy="149.40" r="0.55" fill="#2a2a2a"/>
<circle cx="117.20" cy="153.90" r="0.5" fill="#2a2a2a"/>
<path d="M117.40,144.20C116.30,143.40 115.30,144.30 115.30,145.40C115.30,146.50 116.30,147.40 117.40,146.60" fill="none" stroke="#222" stroke-width="1.0"/>
<path d="M145.70,136.40H167.20V154.20" fill="none" stroke="#a8a8a8" stroke-width="0.7"/>
<path d="M145.70,154.20L145.70,154.20L145.90,154.20L146.09,154.20L146.29,154.20L146.48,154.20L146.68,154.20L146.87,154.20L147.07,154.20L147.26,154.20L147.46,154.20L147.65,154.20L147.85,154.20L148.05,154.20L148.24,154.20L148.44,154.20L148.63,154.20L148.83,154.20L149.02,154.20L149.22,154.20L149.41,154.20L149.61,154.20L149.80,154.20L150.00,154.20L150.20,154.20L150.39,154.20L150.59,154.20L150.78,154.20L150.98,154.20L151.17,154.20L151.37,154.20L151.56,154.20L151.76,154.20L151.95,154.20L152.15,154.20L152.35,154.20L152.54,154.20L152.74,154.20L152.93,154.20L153.13,154.20L153.32,154.20L153.52,154.20L153.71,154.20L153.91,154.20L154.10,154.20L154.30,154.20L154.50,154.20L154.69,154.20L154.89,154.20L155.08,154.20L155.28,154.20L155.47,154.20L155.67,154.20L155.86,154.20L156.06,154.20L156.25,154.20L156.45,154.20L156.65,154.20L156.84,154.20L157.04,154.20L157.23,154.20L157.43,154.20L157.62,154.20L157.82,154.20L158.01,154.20L158.21,154.20L158.40,154.20L158.60,154.20L158.80,154.20L158.99,154.20L159.19,154.20L159.38,154.20L159.58,154.20L159.77,154.20L159.97,154.20L160.16,154.20L160.36,154.20L160.55,154.20L160.75,154.20L160.95,154.20L161.14,154.19L161.34,154.18L161.53,154.15L161.73,154.10L161.92,154.01L162.12,153.87L162.31,153.63L162.51,153.26L162.70,152.66L162.90,151.67L163.10,150.07L163.29,147.63L163.49,144.36L163.68,140.74L163.88,137.71L164.07,136.40L164.27,136.78L164.46,138.40L164.66,140.80L164.85,143.47L165.05,145.97L165.25,148.04L165.44,149.60L165.64,150.72L165.83,151.51L166.03,152.09L166.22,152.53L166.42,152.88L166.61,153.16L166.81,153.40L167.00,153.59L167.20,153.75L167.20,154.20Z" fill="#0a0a0a"/>
<path d="M145.70,136.40V154.20" fill="none" stroke="#a0a0a0" stroke-width="0.8"/>
<path d="M145.30,154.20H167.20" fill="none" stroke="#1a1a1a" stroke-width="1.1"/>
<rect x="145.50" y="154.20" width="0.8" height="1.6" fill="#333"/>
<rect x="150.77" y="154.20" width="0.8" height="1.6" fill="#333"/>
<rect x="156.05" y="154.20" width="0.8" height="1.6" fill="#333"/>
<rect x="161.32" y="154.20" width="0.8" height="1.6" fill="#333"/>
<rect x="166.60" y="154.20" width="0.8" height="1.6" fill="#333"/>
<circle cx="144.20" cy="136.80" r="0.6" fill="#2a2a2a"/>
<circle cx="144.20" cy="140.20" r="0.5" fill="#2a2a2a"/>
<circle cx="144.20" cy="142.00" r="0.45" fill="#2a2a2a"/>
<circle cx="144.20" cy="149.40" r="0.55" fill="#2a2a2a"/>
<circle cx="144.20" cy="153.90" r="0.5" fill="#2a2a2a"/>
<path d="M144.40,144.20C143.30,143.40 142.30,144.30 142.30,145.40C142.30,146.50 143.30,147.40 144.40,146.60" fill="none" stroke="#222" stroke-width="1.0"/>
<path d="M12.50,165.50H33.80V182.00" fill="none" stroke="#a8a8a8" stroke-width="0.7"/>
<path d="M12.50,182.00L12.50,182.00L12.69,182.00L12.89,182.00L13.08,182.00L13.27,182.00L13.47,182.00L13.66,182.00L13.86,182.00L14.05,182.00L14.24,182.00L14.44,182.00L14.63,182.00L14.82,182.00L15.02,182.00L15.21,182.00L15.40,182.00L15.60,182.00L15.79,182.00L15.99,182.00L16.18,182.00L16.37,182.00L16.57,182.00L16.76,182.00L16.95,182.00L17.15,182.00L17.34,182.00L17.53,182.00L17.73,182.00L17.92,182.00L18.12,182.00L18.31,182.00L18.50,182.00L18.70,182.00L18.89,182.00L19.08,182.00L19.28,182.00L19.47,182.00L19.66,182.00L19.86,182.00L20.05,182.00L20.25,182.00L20.44,182.00L20.63,182.00L20.83,182.00L21.02,182.00L21.21,182.00L21.41,182.00L21.60,182.00L21.79,182.00L21.99,182.00L22.18,182.00L22.38,182.00L22.57,182.00L22.76,182.00L22.96,182.00L23.15,182.00L23.34,182.00L23.54,182.00L23.73,182.00L23.92,182.00L24.12,182.00L24.31,182.00L24.51,182.00L24.70,182.00L24.89,182.00L25.09,182.00L25.28,182.00L25.47,182.00L25.67,182.00L25.86,182.00L26.05,182.00L26.25,182.00L26.44,182.00L26.64,182.00L26.83,182.00L27.02,182.00L27.22,182.00L27.41,181.99L27.60,181.99L27.80,181.97L27.99,181.94L28.18,181.89L28.38,181.80L28.57,181.65L28.77,181.41L28.96,181.04L29.15,180.43L29.35,179.43L29.54,177.83L29.73,175.47L29.93,172.42L30.12,169.20L30.31,166.70L30.51,165.80L30.70,166.42L30.90,168.02L31.09,170.24L31.28,172.63L31.48,174.83L31.67,176.63L31.86,177.98L32.06,178.94L32.25,179.63L32.44,180.13L32.64,180.51L32.83,180.82L33.03,181.07L33.22,181.28L33.41,181.46L33.61,181.59L33.80,181.70L33.80,182.00Z" fill="#0a0a0a"/>
<path d="M12.50,165.50V182.00" fill="none" stroke="#a0a0a0" stroke-width="0.8"/>
<path d="M12.10,182.00H33.80" fill="none" stroke="#1a1a1a" stroke-width="1.1"/>
<rect x="12.30" y="182.00" width="0.8" height="1.6" fill="#333"/>
<rect x="17.53" y="182.00" width="0.8" height="1.6" fill="#333"/>
<rect x="22.75" y="182.00" width="0.8" height="1.6" fill="#333"/>
<rect x="27.98" y="182.00" width="0.8" height="1.6" fill="#333"/>
<rect x="33.20" y="182.00" width="0.8" height="1.6" fill="#333"/>
<circle cx="11.00" cy="165.90" r="0.6" fill="#2a2a2a"/>
<circle cx="11.00" cy="169.30" r="0.5" fill="#2a2a2a"/>
<circle cx="11.00" cy="171.10" r="0.45" fill="#2a2a2a"/>
<circle cx="11.00" cy="178.50" r="0.55" fill="#2a2a2a"/>
<circle cx="11.00" cy="181.70" r="0.5" fill="#2a2a2a"/>
<path d="M11.20,173.30C10.10,172.50 9.10,173.40 9.10,174.50C9.10,175.60 10.10,176.50 11.20,175.70" fill="none" stroke="#222" stroke-width="1.0"/>
<path d="M39.00,165.50H60.30V182.00" fill="none" stroke="#a8a8a8" stroke-width="0.7"/>
<path d="M39.00,182.00L39.00,182.00L39.19,182.00L39.39,182.00L39.58,182.00L39.77,182.00L39.97,182.00L40.16,182.00L40.36,182.00L40.55,182.00L40.74,182.00L40.94,182.00L41.13,182.00L41.32,182.00L41.52,182.00L41.71,182.00L41.90,182.00L42.10,182.00L42.29,182.00L42.49,182.00L42.68,182.00L42.87,182.00L43.07,182.00L43.26,182.00L43.45,182.00L43.65,182.00L43.84,182.00L44.03,182.00L44.23,182.00L44.42,182.00L44.62,182.00L44.81,182.00L45.00,182.00L45.20,182.00L45.39,182.00L45.58,182.00L45.78,182.00L45.97,182.00L46.16,182.00L46.36,182.00L46.55,182.00L46.75,182.00L46.94,182.00L47.13,182.00L47.33,182.00L47.52,182.00L47.71,182.00L47.91,182.00L48.10,182.00L48.29,182.00L48.49,182.00L48.68,182.00L48.88,182.00L49.07,182.00L49.26,182.00L49.46,182.00L49.65,182.00L49.84,182.00L50.04,182.00L50.23,182.00L50.42,182.00L50.62,182.00L50.81,182.00L51.01,182.00L51.20,182.00L51.39,182.00L51.59,182.00L51.78,182.00L51.97,182.00L52.17,182.00L52.36,182.00L52.55,182.00L52.75,182.00L52.94,182.00L53.14,182.00L53.33,182.00L53.52,182.00L53.72,182.00L53.91,182.00L54.10,182.00L54.30,182.00L54.49,182.00L54.68,182.00L54.88,182.00L55.07,182.00L55.27,182.00L55.46,181.99L55.65,181.98L55.85,181.97L56.04,181.94L56.23,181.90L56.43,181.84L56.62,181.73L56.81,181.56L57.01,181.28L57.20,180.83L57.40,180.15L57.59,179.24L57.78,178.24L57.98,177.40L58.17,177.01L58.36,177.13L58.56,177.57L58.75,178.23L58.94,178.97L59.14,179.66L59.33,180.24L59.53,180.69L59.72,181.01L59.91,181.23L60.11,181.40L60.30,181.52L60.30,182.00Z" fill="#0a0a0a"/>
<path d="M39.00,165.50V182.00" fill="none" stroke="#a0a0a0" stroke-width="0.8"/>
<path d="M38.60,182.00H60.30" fill="none" stroke="#1a1a1a" stroke-width="1.1"/>
<rect x="38.80" y="182.00" width="0.8" height="1.6" fill="#333"/>
<rect x="44.03" y="182.00" width="0.8" height="1.6" fill="#333"/>
<rect x="49.25" y="182.00" width="0.8" height="1.6" fill="#333"/>
<rect x="54.48" y="182.00" width="0.8" height="1.6" fill="#333"/>
<rect x="59.70" y="182.00" width="0.8" height="1.6" fill="#333"/>
<circle cx="37.50" cy="165.90" r="0.6" fill="#2a2a2a"/>
<circle cx="37.50" cy="169.30" r="0.5" fill="#2a2a2a"/>
<circle cx="37.50" cy="171.10" r="0.45" fill="#2a2a2a"/>
<circle cx="37.50" cy="178.50" r="0.55" fill="#2a2a2a"/>
<circle cx="37.50" cy="181.70" r="0.5" fill="#2a2a2a"/>
<path d="M37.70,173.30C36.60,172.50 35.60,173.40 35.60,174.50C35.60,175.60 36.60,176.50 37.70,175.70" fill="none" stroke="#222" stroke-width="1.0"/>
<path d="M65.50,165.50H86.80V182.00" fill="none" stroke="#a8a8a8" stroke-width="0.7"/>
<path d="M65.50,182.00L65.50,182.00L65.69,182.00L65.89,182.00L66.08,182.00L66.27,182.00L66.47,182.00L66.66,182.00L66.86,182.00L67.05,182.00L67.24,182.00L67.44,182.00L67.63,182.00L67.82,182.00L68.02,182.00L68.21,182.00L68.40,182.00L68.60,182.00L68.79,182.00L68.99,182.00L69.18,182.00L69.37,182.00L69.57,182.00L69.76,182.00L69.95,182.00L70.15,182.00L70.34,182.00L70.53,182.00L70.73,182.00L70.92,182.00L71.12,182.00L71.31,182.00L71.50,182.00L71.70,182.00L71.89,182.00L72.08,182.00L72.28,182.00L72.47,182.00L72.66,182.00L72.86,182.00L73.05,182.00L73.25,182.00L73.44,182.00L73.63,182.00L73.83,182.00L74.02,182.00L74.21,182.00L74.41,182.00L74.60,182.00L74.79,182.00L74.99,182.00L75.18,182.00L75.38,182.00L75.57,182.00L75.76,182.00L75.96,182.00L76.15,182.00L76.34,182.00L76.54,182.00L76.73,182.00L76.92,182.00L77.12,182.00L77.31,182.00L77.51,182.00L77.70,182.00L77.89,182.00L78.09,182.00L78.28,182.00L78.47,182.00L78.67,182.00L78.86,182.00L79.05,182.00L79.25,182.00L79.44,182.00L79.64,182.00L79.83,182.00L80.02,182.00L80.22,182.00L80.41,181.99L80.60,181.98L80.80,181.96L80.99,181.92L81.18,181.86L81.38,181.75L81.57,181.58L81.77,181.30L81.96,180.87L82.15,180.14L82.35,178.99L82.54,177.30L82.73,175.12L82.93,172.84L83.12,171.10L83.31,170.50L83.51,170.97L83.70,172.12L83.90,173.71L84.09,175.41L84.28,176.96L84.48,178.22L84.67,179.17L84.86,179.85L85.06,180.33L85.25,180.68L85.44,180.95L85.64,181.17L85.83,181.35L86.03,181.50L86.22,181.62L86.41,181.71L86.61,181.79L86.80,181.85L86.80,182.00Z" fill="#0a0a0a"/>
<path d="M65.50,165.50V182.00" fill="none" stroke="#a0a0a0" stroke-width="0.8"/>
<path d="M65.10,182.00H86.80" fill="none" stroke="#1a1a1a" stroke-width="1.1"/>
<rect x="65.30" y="182.00" width="0.8" height="1.6" fill="#333"/>
<rect x="70.52" y="182.00" width="0.8" height="1.6" fill="#333"/>
<rect x="75.75" y="182.00" width="0.8" height="1.6" fill="#333"/>
<rect x="80.97" y="182.00" width="0.8" height="1.6" fill="#333"/>
<rect x="86.20" y="182.00" width="0.8" height="1.6" fill="#333"/>
<circle cx="64.00" cy="165.90" r="0.6" fill="#2a2a2a"/>
<circle cx="64.00" cy="169.30" r="0.5" fill="#2a2a2a"/>
<circle cx="64.00" cy="171.10" r="0.45" fill="#2a2a2a"/>
<circle cx="64.00" cy="178.50" r="0.55" fill="#2a2a2a"/>
<circle cx="64.00" cy="181.70" r="0.5" fill="#2a2a2a"/>
<path d="M64.20,173.30C63.10,172.50 62.10,173.40 62.10,174.50C62.10,175.60 63.10,176.50 64.20,175.70" fill="none" stroke="#222" stroke-width="1.0"/>
<path d="M93.00,165.50H114.30V182.00" fill="none" stroke="#a8a8a8" stroke-width="0.7"/>
<path d="M93.00,182.00L93.00,182.00L93.19,182.00L93.39,182.00L93.58,182.00L93.77,182.00L93.97,182.00L94.16,182.00L94.36,182.00L94.55,182.00L94.74,182.00L94.94,182.00L95.13,182.00L95.32,182.00L95.52,182.00L95.71,182.00L95.90,182.00L96.10,182.00L96.29,182.00L96.49,182.00L96.68,182.00L96.87,182.00L97.07,182.00L97.26,182.00L97.45,182.00L97.65,182.00L97.84,182.00L98.03,182.00L98.23,182.00L98.42,182.00L98.62,182.00L98.81,182.00L99.00,182.00L99.20,182.00L99.39,182.00L99.58,182.00L99.78,182.00L99.97,182.00L100.16,182.00L100.36,182.00L100.55,182.00L100.75,182.00L100.94,182.00L101.13,182.00L101.33,182.00L101.52,182.00L101.71,182.00L101.91,182.00L102.10,182.00L102.29,182.00L102.49,182.00L102.68,182.00L102.88,182.00L103.07,182.00L103.26,182.00L103.46,182.00L103.65,182.00L103.84,182.00L104.04,182.00L104.23,182.00L104.42,182.00L104.62,182.00L104.81,182.00L105.01,182.00L105.20,182.00L105.39,182.00L105.59,182.00L105.78,182.00L105.97,182.00L106.17,182.00L106.36,182.00L106.55,181.99L106.75,181.99L106.94,181.97L107.14,181.95L107.33,181.90L107.52,181.81L107.72,181.68L107.91,181.46L108.10,181.12L108.30,180.56L108.49,179.65L108.68,178.22L108.88,176.14L109.07,173.58L109.27,171.02L109.46,169.23L109.65,168.84L109.85,169.54L110.04,171.00L110.23,172.87L110.43,174.80L110.62,176.53L110.81,177.91L111.01,178.93L111.20,179.65L111.40,180.17L111.59,180.55L111.78,180.85L111.98,181.09L112.17,181.29L112.36,181.45L112.56,181.58L112.75,181.69L112.94,181.77L113.14,181.84L113.33,181.89L113.53,181.92L113.72,181.95L113.91,181.96L114.11,181.98L114.30,181.99L114.30,182.00Z" fill="#0a0a0a"/>
<path d="M93.00,165.50V182.00" fill="none" stroke="#a0a0a0" stroke-width="0.8"/>
<path d="M92.60,182.00H114.30" fill="none" stroke="#1a1a1a" stroke-width="1.1"/>
<rect x="92.80" y="182.00" width="0.8" height="1.6" fill="#333"/>
<rect x="98.02" y="182.00" width="0.8" height="1.6" fill="#333"/>
<rect x="103.25" y="182.00" width="0.8" height="1.6" fill="#333"/>
<rect x="108.47" y="182.00" width="0.8" height="1.6" fill="#333"/>
<rect x="113.70" y="182.00" width="0.8" height="1.6" fill="#333"/>
<circle cx="91.50" cy="165.90" r="0.6" fill="#2a2a2a"/>
<circle cx="91.50" cy="169.30" r="0.5" fill="#2a2a2a"/>
<circle cx="91.50" cy="171.10" r="0.45" fill="#2a2a2a"/>
<circle cx="91.50" cy="178.50" r="0.55" fill="#2a2a2a"/>
<circle cx="91.50" cy="181.70" r="0.5" fill="#2a2a2a"/>
<path d="M91.70,173.30C90.60,172.50 89.60,173.40 89.60,174.50C89.60,175.60 90.60,176.50 91.70,175.70" fill="none" stroke="#222" stroke-width="1.0"/>
<path d="M120.00,165.50H141.30V182.00" fill="none" stroke="#a8a8a8" stroke-width="0.7"/>
<path d="M120.00,182.00L120.00,182.00L120.19,182.00L120.39,182.00L120.58,182.00L120.77,182.00L120.97,182.00L121.16,182.00L121.36,182.00L121.55,182.00L121.74,182.00L121.94,182.00L122.13,182.00L122.32,182.00L122.52,182.00L122.71,182.00L122.90,182.00L123.10,182.00L123.29,182.00L123.49,182.00L123.68,182.00L123.87,182.00L124.07,182.00L124.26,182.00L124.45,182.00L124.65,182.00L124.84,182.00L125.03,182.00L125.23,182.00L125.42,182.00L125.62,182.00L125.81,182.00L126.00,182.00L126.20,182.00L126.39,182.00L126.58,182.00L126.78,182.00L126.97,182.00L127.16,182.00L127.36,182.00L127.55,182.00L127.75,182.00L127.94,182.00L128.13,182.00L128.33,182.00L128.52,182.00L128.71,182.00L128.91,182.00L129.10,182.00L129.29,182.00L129.49,182.00L129.68,182.00L129.88,182.00L130.07,182.00L130.26,182.00L130.46,182.00L130.65,182.00L130.84,182.00L131.04,182.00L131.23,182.00L131.42,182.00L131.62,182.00L131.81,182.00L132.01,182.00L132.20,182.00L132.39,182.00L132.59,182.00L132.78,182.00L132.97,182.00L133.17,182.00L133.36,182.00L133.55,182.00L133.75,182.00L133.94,182.00L134.14,182.00L134.33,181.99L134.52,181.98L134.72,181.96L134.91,181.93L135.10,181.86L135.30,181.76L135.49,181.59L135.68,181.33L135.88,180.90L136.07,180.20L136.27,179.07L136.46,177.32L136.65,174.94L136.85,172.19L137.04,169.75L137.23,168.40L137.43,168.51L137.62,169.58L137.81,171.30L138.01,173.31L138.20,175.26L138.40,176.92L138.59,178.20L138.78,179.13L138.98,179.79L139.17,180.27L139.36,180.63L139.56,180.91L139.75,181.14L139.94,181.33L140.14,181.49L140.33,181.61L140.53,181.72L140.72,181.79L140.91,181.85L141.11,181.90L141.30,181.93L141.30,182.00Z" fill="#0a0a0a"/>
<path d="M120.00,165.50V182.00" fill="none" stroke="#a0a0a0" stroke-width="0.8"/>
<path d="M119.60,182.00H141.30" fill="none" stroke="#1a1a1a" stroke-width="1.1"/>
<rect x="119.80" y="182.00" width="0.8" height="1.6" fill="#333"/>
<rect x="125.02" y="182.00" width="0.8" height="1.6" fill="#333"/>
<rect x="130.25" y="182.00" width="0.8" height="1.6" fill="#333"/>
<rect x="135.47" y="182.00" width="0.8" height="1.6" fill="#333"/>
<rect x="140.70" y="182.00" width="0.8" height="1.6" fill="#333"/>
<circle cx="118.50" cy="165.90" r="0.6" fill="#2a2a2a"/>
<circle cx="118.50" cy="169.30" r="0.5" fill="#2a2a2a"/>
<circle cx="118.50" cy="171.10" r="0.45" fill="#2a2a2a"/>
<circle cx="118.50" cy="178.50" r="0.55" fill="#2a2a2a"/>
<circle cx="118.50" cy="181.70" r="0.5" fill="#2a2a2a"/>
<path d="M118.70,173.30C117.60,172.50 116.60,173.40 116.60,174.50C116.60,175.60 117.60,176.50 118.70,175.70" fill="none" stroke="#222" stroke-width="1.0"/>
<path d="M147.90,165.50H169.20V182.00" fill="none" stroke="#a8a8a8" stroke-width="0.7"/>
<path d="M147.90,182.00L147.90,182.00L148.09,182.00L148.29,182.00L148.48,182.00L148.67,182.00L148.87,182.00L149.06,182.00L149.26,182.00L149.45,182.00L149.64,182.00L149.84,182.00L150.03,182.00L150.22,182.00L150.42,182.00L150.61,182.00L150.80,182.00L151.00,182.00L151.19,182.00L151.39,182.00L151.58,182.00L151.77,182.00L151.97,182.00L152.16,182.00L152.35,182.00L152.55,182.00L152.74,182.00L152.93,182.00L153.13,182.00L153.32,182.00L153.52,182.00L153.71,182.00L153.90,182.00L154.10,182.00L154.29,182.00L154.48,182.00L154.68,182.00L154.87,182.00L155.06,182.00L155.26,182.00L155.45,182.00L155.65,182.00L155.84,182.00L156.03,182.00L156.23,182.00L156.42,182.00L156.61,182.00L156.81,182.00L157.00,182.00L157.19,182.00L157.39,182.00L157.58,182.00L157.78,182.00L157.97,182.00L158.16,182.00L158.36,182.00L158.55,182.00L158.74,182.00L158.94,182.00L159.13,182.00L159.32,182.00L159.52,181.99L159.71,181.98L159.91,181.97L160.10,181.93L160.29,181.88L160.49,181.79L160.68,181.65L160.87,181.43L161.07,181.07L161.26,180.48L161.45,179.55L161.65,178.17L161.84,176.42L162.04,174.60L162.23,173.24L162.42,172.80L162.62,173.20L162.81,174.15L163.00,175.42L163.20,176.78L163.39,178.01L163.58,179.01L163.78,179.76L163.97,180.30L164.17,180.68L164.36,180.96L164.55,181.17L164.75,181.34L164.94,181.48L165.13,181.60L165.33,181.70L165.52,181.77L165.71,181.83L165.91,181.88L166.10,181.92L166.30,181.94L166.49,181.96L166.68,181.97L166.88,181.98L167.07,181.99L167.26,181.99L167.46,182.00L167.65,182.00L167.84,182.00L168.04,182.00L168.23,182.00L168.43,182.00L168.62,182.00L168.81,182.00L169.01,182.00L169.20,182.00L169.20,182.00Z" fill="#0a0a0a"/>
<path d="M147.90,165.50V182.00" fill="none" stroke="#a0a0a0" stroke-width="0.8"/>
<path d="M147.50,182.00H169.20" fill="none" stroke="#1a1a1a" stroke-width="1.1"/>
<rect x="147.70" y="182.00" width="0.8" height="1.6" fill="#333"/>
<rect x="152.92" y="182.00" width="0.8" height="1.6" fill="#333"/>
<rect x="158.15" y="182.00" width="0.8" height="1.6" fill="#333"/>
<rect x="163.38" y="182.00" width="0.8" height="1.6" fill="#333"/>
<rect x="168.60" y="182.00" width="0.8" height="1.6" fill="#333"/>
<circle cx="146.40" cy="165.90" r="0.6" fill="#2a2a2a"/>
<circle cx="146.40" cy="169.30" r="0.5" fill="#2a2a2a"/>
<circle cx="146.40" cy="171.10" r="0.45" fill="#2a2a2a"/>
<circle cx="146.40" cy="178.50" r="0.55" fill="#2a2a2a"/>
<circle cx="146.40" cy="181.70" r="0.5" fill="#2a2a2a"/>
<path d="M146.60,173.30C145.50,172.50 144.50,173.40 144.50,174.50C144.50,175.60 145.50,176.50 146.60,175.70" fill="none" stroke="#222" stroke-width="1.0"/>
<path d="M174.50,165.50H195.80V182.00" fill="none" stroke="#a8a8a8" stroke-width="0.7"/>
<path d="M174.50,182.00L174.50,182.00L174.69,182.00L174.89,182.00L175.08,182.00L175.27,182.00L175.47,182.00L175.66,182.00L175.86,182.00L176.05,182.00L176.24,182.00L176.44,182.00L176.63,182.00L176.82,182.00L177.02,182.00L177.21,182.00L177.40,182.00L177.60,182.00L177.79,182.00L177.99,182.00L178.18,182.00L178.37,182.00L178.57,182.00L178.76,182.00L178.95,182.00L179.15,182.00L179.34,182.00L179.53,182.00L179.73,182.00L179.92,182.00L180.12,182.00L180.31,182.00L180.50,182.00L180.70,182.00L180.89,182.00L181.08,182.00L181.28,182.00L181.47,182.00L181.66,182.00L181.86,182.00L182.05,182.00L182.25,182.00L182.44,182.00L182.63,182.00L182.83,182.00L183.02,182.00L183.21,182.00L183.41,182.00L183.60,182.00L183.79,182.00L183.99,182.00L184.18,182.00L184.38,182.00L184.57,182.00L184.76,182.00L184.96,182.00L185.15,182.00L185.34,182.00L185.54,182.00L185.73,182.00L185.92,182.00L186.12,182.00L186.31,182.00L186.51,182.00L186.70,182.00L186.89,182.00L187.09,182.00L187.28,182.00L187.47,182.00L187.67,182.00L187.86,182.00L188.05,182.00L188.25,182.00L188.44,182.00L188.64,182.00L188.83,182.00L189.02,181.99L189.22,181.98L189.41,181.96L189.60,181.92L189.80,181.85L189.99,181.74L190.18,181.56L190.38,181.28L190.57,180.82L190.77,180.07L190.96,178.87L191.15,177.12L191.35,174.91L191.54,172.62L191.73,170.92L191.93,170.41L192.12,170.93L192.31,172.13L192.51,173.75L192.70,175.46L192.90,177.01L193.09,178.26L193.28,179.20L193.48,179.87L193.67,180.34L193.86,180.69L194.06,180.96L194.25,181.18L194.44,181.35L194.64,181.50L194.83,181.62L195.03,181.72L195.22,181.79L195.41,181.85L195.61,181.90L195.80,181.93L195.80,182.00Z" fill="#0a0a0a"/>
<path d="M174.50,165.50V182.00" fill="none" stroke="#a0a0a0" stroke-width="0.8"/>
<path d="M174.10,182.00H195.80" fill="none" stroke="#1a1a1a" stroke-width="1.1"/>
<rect x="174.30" y="182.00" width="0.8" height="1.6" fill="#333"/>
<rect x="179.52" y="182.00" width="0.8" height="1.6" fill="#333"/>
<rect x="184.75" y="182.00" width="0.8" height="1.6" fill="#333"/>
<rect x="189.97" y="182.00" width="0.8" height="1.6" fill="#333"/>
<rect x="195.20" y="182.00" width="0.8" height="1.6" fill="#333"/>
<circle cx="173.00" cy="165.90" r="0.6" fill="#2a2a2a"/>
<circle cx="173.00" cy="169.30" r="0.5" fill="#2a2a2a"/>
<circle cx="173.00" cy="171.10" r="0.45" fill="#2a2a2a"/>
<circle cx="173.00" cy="178.50" r="0.55" fill="#2a2a2a"/>
<circle cx="173.00" cy="181.70" r="0.5" fill="#2a2a2a"/>
<path d="M173.20,173.30C172.10,172.50 171.10,173.40 171.10,174.50C171.10,175.60 172.10,176.50 173.20,175.70" fill="none" stroke="#222" stroke-width="1.0"/>
<path d="M199.80,165.50H221.10V182.00" fill="none" stroke="#a8a8a8" stroke-width="0.7"/>
<path d="M199.80,182.00L199.80,182.00L199.99,182.00L200.19,182.00L200.38,182.00L200.57,182.00L200.77,182.00L200.96,182.00L201.16,182.00L201.35,182.00L201.54,182.00L201.74,182.00L201.93,182.00L202.12,182.00L202.32,182.00L202.51,182.00L202.70,182.00L202.90,182.00L203.09,182.00L203.29,182.00L203.48,182.00L203.67,182.00L203.87,182.00L204.06,182.00L204.25,182.00L204.45,182.00L204.64,182.00L204.83,182.00L205.03,182.00L205.22,182.00L205.42,182.00L205.61,182.00L205.80,182.00L206.00,182.00L206.19,182.00L206.38,182.00L206.58,182.00L206.77,182.00L206.96,182.00L207.16,182.00L207.35,182.00L207.55,182.00L207.74,182.00L207.93,182.00L208.13,182.00L208.32,182.00L208.51,182.00L208.71,182.00L208.90,182.00L209.09,182.00L209.29,182.00L209.48,182.00L209.68,182.00L209.87,182.00L210.06,182.00L210.26,182.00L210.45,182.00L210.64,182.00L210.84,182.00L211.03,182.00L211.22,182.00L211.42,182.00L211.61,182.00L211.81,182.00L212.00,182.00L212.19,182.00L212.39,182.00L212.58,182.00L212.77,182.00L212.97,182.00L213.16,182.00L213.35,181.99L213.55,181.98L213.74,181.96L213.94,181.93L214.13,181.87L214.32,181.77L214.52,181.61L214.71,181.35L214.90,180.95L215.10,180.28L215.29,179.19L215.48,177.55L215.68,175.34L215.87,172.88L216.07,170.77L216.26,169.73L216.45,169.97L216.65,171.02L216.84,172.62L217.03,174.43L217.23,176.16L217.42,177.61L217.61,178.72L217.81,179.52L218.00,180.08L218.20,180.49L218.39,180.80L218.58,181.05L218.78,181.25L218.97,181.42L219.16,181.56L219.36,181.67L219.55,181.75L219.74,181.82L219.94,181.87L220.13,181.91L220.33,181.94L220.52,181.96L220.71,181.97L220.91,181.98L221.10,181.99L221.10,182.00Z" fill="#0a0a0a"/>
<path d="M199.80,165.50V182.00" fill="none" stroke="#a0a0a0" stroke-width="0.8"/>
<path d="M199.40,182.00H221.10" fill="none" stroke="#1a1a1a" stroke-width="1.1"/>
<rect x="199.60" y="182.00" width="0.8" height="1.6" fill="#333"/>
<rect x="204.82" y="182.00" width="0.8" height="1.6" fill="#333"/>
<rect x="210.05" y="182.00" width="0.8" height="1.6" fill="#333"/>
<rect x="215.28" y="182.00" width="0.8" height="1.6" fill="#333"/>
<rect x="220.50" y="182.00" width="0.8" height="1.6" fill="#333"/>
<circle cx="198.30" cy="165.90" r="0.6" fill="#2a2a2a"/>
<circle cx="198.30" cy="169.30" r="0.5" fill="#2a2a2a"/>
<circle cx="198.30" cy="171.10" r="0.45" fill="#2a2a2a"/>
<circle cx="198.30" cy="178.50" r="0.55" fill="#2a2a2a"/>
<circle cx="198.30" cy="181.70" r="0.5" fill="#2a2a2a"/>
<path d="M198.50,173.30C197.40,172.50 196.40,173.40 196.40,174.50C196.40,175.60 197.40,176.50 198.50,175.70" fill="none" stroke="#222" stroke-width="1.0"/>
<path d="M12.50,187.50H33.80V204.00" fill="none" stroke="#a8a8a8" stroke-width="0.7"/>
<path d="M12.50,204.00L12.50,204.00L12.69,204.00L12.89,204.00L13.08,204.00L13.27,204.00L13.47,204.00L13.66,204.00L13.86,204.00L14.05,204.00L14.24,204.00L14.44,204.00L14.63,204.00L14.82,204.00L15.02,204.00L15.21,204.00L15.40,204.00L15.60,204.00L15.79,204.00L15.99,204.00L16.18,204.00L16.37,204.00L16.57,204.00L16.76,204.00L16.95,204.00L17.15,204.00L17.34,204.00L17.53,204.00L17.73,204.00L17.92,204.00L18.12,204.00L18.31,204.00L18.50,204.00L18.70,204.00L18.89,204.00L19.08,204.00L19.28,204.00L19.47,204.00L19.66,204.00L19.86,204.00L20.05,204.00L20.25,204.00L20.44,204.00L20.63,204.00L20.83,204.00L21.02,204.00L21.21,204.00L21.41,204.00L21.60,204.00L21.79,204.00L21.99,204.00L22.18,204.00L22.38,204.00L22.57,204.00L22.76,204.00L22.96,204.00L23.15,204.00L23.34,204.00L23.54,204.00L23.73,204.00L23.92,204.00L24.12,204.00L24.31,204.00L24.51,204.00L24.70,204.00L24.89,204.00L25.09,204.00L25.28,204.00L25.47,204.00L25.67,204.00L25.86,204.00L26.05,204.00L26.25,204.00L26.44,204.00L26.64,203.99L26.83,203.98L27.02,203.96L27.22,203.92L27.41,203.86L27.60,203.75L27.80,203.58L27.99,203.30L28.18,202.86L28.38,202.13L28.57,200.95L28.77,199.15L28.96,196.69L29.15,193.89L29.35,191.41L29.54,190.08L29.73,190.24L29.93,191.35L30.12,193.13L30.31,195.18L30.51,197.17L30.70,198.85L30.90,200.15L31.09,201.10L31.28,201.76L31.48,202.24L31.67,202.61L31.86,202.89L32.06,203.13L32.25,203.32L32.44,203.48L32.64,203.61L32.83,203.71L33.03,203.79L33.22,203.85L33.41,203.90L33.61,203.93L33.80,203.95L33.80,204.00Z" fill="#0a0a0a"/>
<path d="M12.50,187.50V204.00" fill="none" stroke="#a0a0a0" stroke-width="0.8"/>
<path d="M12.10,204.00H33.80" fill="none" stroke="#1a1a1a" stroke-width="1.1"/>
<rect x="12.30" y="204.00" width="0.8" height="1.6" fill="#333"/>
<rect x="17.53" y="204.00" width="0.8" height="1.6" fill="#333"/>
<rect x="22.75" y="204.00" width="0.8" height="1.6" fill="#333"/>
<rect x="27.98" y="204.00" width="0.8" height="1.6" fill="#333"/>
<rect x="33.20" y="204.00" width="0.8" height="1.6" fill="#333"/>
<circle cx="11.00" cy="187.90" r="0.6" fill="#2a2a2a"/>
<circle cx="11.00" cy="191.30" r="0.5" fill="#2a2a2a"/>
<circle cx="11.00" cy="193.10" r="0.45" fill="#2a2a2a"/>
<circle cx="11.00" cy="200.50" r="0.55" fill="#2a2a2a"/>
<circle cx="11.00" cy="203.70" r="0.5" fill="#2a2a2a"/>
<path d="M11.20,195.30C10.10,194.50 9.10,195.40 9.10,196.50C9.10,197.60 10.10,198.50 11.20,197.70" fill="none" stroke="#222" stroke-width="1.0"/>
<path d="M39.00,187.50H60.30V204.00" fill="none" stroke="#a8a8a8" stroke-width="0.7"/>
<path d="M39.00,204.00L39.00,203.82L39.19,203.79L39.39,203.75L39.58,203.70L39.77,203.65L39.97,203.59L40.16,203.53L40.36,203.46L40.55,203.38L40.74,203.29L40.94,203.20L41.13,203.10L41.32,203.00L41.52,202.89L41.71,202.78L41.90,202.66L42.10,202.54L42.29,202.43L42.49,202.31L42.68,202.20L42.87,202.09L43.07,201.99L43.26,201.90L43.45,201.82L43.65,201.75L43.84,201.69L44.03,201.64L44.23,201.62L44.42,201.60L44.62,201.60L44.81,201.62L45.00,201.65L45.20,201.70L45.39,201.76L45.58,201.83L45.78,201.92L45.97,202.01L46.16,202.11L46.36,202.22L46.55,202.33L46.75,202.45L46.94,202.56L47.13,202.68L47.33,202.79L47.52,202.89L47.71,202.99L47.91,203.06L48.10,203.12L48.29,203.13L48.49,203.09L48.68,202.98L48.88,202.74L49.07,202.29L49.26,201.54L49.46,200.41L49.65,198.96L49.84,197.46L50.04,196.37L50.23,196.07L50.42,196.45L50.62,197.29L50.81,198.40L51.01,199.56L51.20,200.61L51.39,201.46L51.59,202.09L51.78,202.55L51.97,202.87L52.17,203.11L52.36,203.29L52.55,203.44L52.75,203.56L52.94,203.66L53.14,203.74L53.33,203.81L53.52,203.86L53.72,203.90L53.91,203.93L54.10,203.95L54.30,203.97L54.49,203.98L54.68,203.99L54.88,203.99L55.07,203.99L55.27,204.00L55.46,204.00L55.65,204.00L55.85,204.00L56.04,204.00L56.23,204.00L56.43,204.00L56.62,204.00L56.81,204.00L57.01,204.00L57.20,204.00L57.40,204.00L57.59,204.00L57.78,204.00L57.98,204.00L58.17,204.00L58.36,204.00L58.56,204.00L58.75,204.00L58.94,204.00L59.14,204.00L59.33,204.00L59.53,204.00L59.72,204.00L59.91,204.00L60.11,204.00L60.30,204.00L60.30,204.00Z" fill="#0a0a0a"/>
<path d="M39.00,187.50V204.00" fill="none" stroke="#a0a0a0" stroke-width="0.8"/>
<path d="M38.60,204.00H60.30" fill="none" stroke="#1a1a1a" stroke-width="1.1"/>
<rect x="38.80" y="204.00" width="0.8" height="1.6" fill="#333"/>
<rect x="44.03" y="204.00" width="0.8" height="1.6" fill="#333"/>
<rect x="49.25" y="204.00" width="0.8" height="1.6" fill="#333"/>
<rect x="54.48" y="204.00" width="0.8" height="1.6" fill="#333"/>
<rect x="59.70" y="204.00" width="0.8" height="1.6" fill="#333"/>
<circle cx="37.50" cy="187.90" r="0.6" fill="#2a2a2a"/>
<circle cx="37.50" cy="191.30" r="0.5" fill="#2a2a2a"/>
<circle cx="37.50" cy="193.10" r="0.45" fill="#2a2a2a"/>
<circle cx="37.50" cy="200.50" r="0.55" fill="#2a2a2a"/>
<circle cx="37.50" cy="203.70" r="0.5" fill="#2a2a2a"/>
<path d="M37.70,195.30C36.60,194.50 35.60,195.40 35.60,196.50C35.60,197.60 36.60,198.50 37.70,197.70" fill="none" stroke="#222" stroke-width="1.0"/>
<path d="M65.50,187.50H86.80V204.00" fill="none" stroke="#a8a8a8" stroke-width="0.7"/>
<path d="M65.50,204.00L65.50,204.00L65.69,204.00L65.89,204.00L66.08,204.00L66.27,204.00L66.47,204.00L66.66,204.00L66.86,204.00L67.05,204.00L67.24,204.00L67.44,204.00L67.63,204.00L67.82,204.00L68.02,204.00L68.21,204.00L68.40,204.00L68.60,204.00L68.79,204.00L68.99,204.00L69.18,204.00L69.37,204.00L69.57,204.00L69.76,204.00L69.95,204.00L70.15,204.00L70.34,204.00L70.53,204.00L70.73,204.00L70.92,204.00L71.12,204.00L71.31,204.00L71.50,204.00L71.70,204.00L71.89,204.00L72.08,204.00L72.28,204.00L72.47,204.00L72.66,204.00L72.86,204.00L73.05,204.00L73.25,204.00L73.44,204.00L73.63,204.00L73.83,204.00L74.02,204.00L74.21,203.99L74.41,203.98L74.60,203.97L74.79,203.94L74.99,203.89L75.18,203.80L75.38,203.65L75.57,203.42L75.76,203.06L75.96,202.46L76.15,201.49L76.34,199.98L76.54,197.90L76.73,195.46L76.92,193.24L77.12,191.94L77.31,191.95L77.51,192.83L77.70,194.33L77.89,196.11L78.09,197.86L78.28,199.37L78.47,200.54L78.67,201.39L78.86,201.99L79.05,202.43L79.25,202.75L79.44,203.01L79.64,203.22L79.83,203.39L80.02,203.53L80.22,203.65L80.41,203.74L80.60,203.81L80.80,203.87L80.99,203.91L81.18,203.94L81.38,203.96L81.57,203.97L81.77,203.98L81.96,203.99L82.15,203.99L82.35,204.00L82.54,204.00L82.73,204.00L82.93,204.00L83.12,204.00L83.31,204.00L83.51,204.00L83.70,204.00L83.90,204.00L84.09,204.00L84.28,204.00L84.48,204.00L84.67,204.00L84.86,204.00L85.06,204.00L85.25,204.00L85.44,204.00L85.64,204.00L85.83,204.00L86.03,204.00L86.22,204.00L86.41,204.00L86.61,204.00L86.80,204.00L86.80,204.00Z" fill="#0a0a0a"/>
<path d="M65.50,187.50V204.00" fill="none" stroke="#a0a0a0" stroke-width="0.8"/>
<path d="M65.10,204.00H86.80" fill="none" stroke="#1a1a1a" stroke-width="1.1"/>
<rect x="65.30" y="204.00" width="0.8" height="1.6" fill="#333"/>
<rect x="70.52" y="204.00" width="0.8" height="1.6" fill="#333"/>
<rect x="75.75" y="204.00" width="0.8" height="1.6" fill="#333"/>
<rect x="80.97" y="204.00" width="0.8" height="1.6" fill="#333"/>
<rect x="86.20" y="204.00" width="0.8" height="1.6" fill="#333"/>
<circle cx="64.00" cy="187.90" r="0.6" fill="#2a2a2a"/>
<circle cx="64.00" cy="191.30" r="0.5" fill="#2a2a2a"/>
<circle cx="64.00" cy="193.10" r="0.45" fill="#2a2a2a"/>
<circle cx="64.00" cy="200.50" r="0.55" fill="#2a2a2a"/>
<circle cx="64.00" cy="203.70" r="0.5" fill="#2a2a2a"/>
<path d="M64.20,195.30C63.10,194.50 62.10,195.40 62.10,196.50C62.10,197.60 63.10,198.50 64.20,197.70" fill="none" stroke="#222" stroke-width="1.0"/>
<path d="M93.00,187.50H114.30V204.00" fill="none" stroke="#a8a8a8" stroke-width="0.7"/>
<path d="M93.00,204.00L93.00,204.00L93.19,204.00L93.39,204.00L93.58,204.00L93.77,204.00L93.97,204.00L94.16,204.00L94.36,204.00L94.55,204.00L94.74,204.00L94.94,204.00L95.13,204.00L95.32,204.00L95.52,204.00L95.71,204.00L95.90,204.00L96.10,204.00L96.29,204.00L96.49,204.00L96.68,204.00L96.87,204.00L97.07,204.00L97.26,204.00L97.45,204.00L97.65,204.00L97.84,204.00L98.03,204.00L98.23,204.00L98.42,204.00L98.62,204.00L98.81,204.00L99.00,204.00L99.20,204.00L99.39,204.00L99.58,204.00L99.78,204.00L99.97,204.00L100.16,204.00L100.36,204.00L100.55,204.00L100.75,204.00L100.94,204.00L101.13,204.00L101.33,204.00L101.52,204.00L101.71,204.00L101.91,204.00L102.10,204.00L102.29,204.00L102.49,204.00L102.68,204.00L102.88,204.00L103.07,204.00L103.26,204.00L103.46,204.00L103.65,204.00L103.84,204.00L104.04,204.00L104.23,204.00L104.42,204.00L104.62,204.00L104.81,204.00L105.01,204.00L105.20,204.00L105.39,204.00L105.59,204.00L105.78,204.00L105.97,204.00L106.17,204.00L106.36,204.00L106.55,204.00L106.75,204.00L106.94,204.00L107.14,204.00L107.33,204.00L107.52,204.00L107.72,204.00L107.91,204.00L108.10,204.00L108.30,204.00L108.49,204.00L108.68,204.00L108.88,204.00L109.07,203.99L109.27,203.98L109.46,203.96L109.65,203.92L109.85,203.86L110.04,203.76L110.23,203.60L110.43,203.34L110.62,202.93L110.81,202.25L111.01,201.18L111.20,199.67L111.40,197.84L111.59,196.07L111.78,194.91L111.98,194.75L112.17,195.32L112.36,196.40L112.56,197.73L112.75,199.09L112.94,200.28L113.14,201.22L113.33,201.91L113.53,202.40L113.72,202.75L113.91,203.01L114.11,203.21L114.30,203.38L114.30,204.00Z" fill="#0a0a0a"/>
<path d="M93.00,187.50V204.00" fill="none" stroke="#a0a0a0" stroke-width="0.8"/>
<path d="M92.60,204.00H114.30" fill="none" stroke="#1a1a1a" stroke-width="1.1"/>
<rect x="92.80" y="204.00" width="0.8" height="1.6" fill="#333"/>
<rect x="98.02" y="204.00" width="0.8" height="1.6" fill="#333"/>
<rect x="103.25" y="204.00" width="0.8" height="1.6" fill="#333"/>
<rect x="108.47" y="204.00" width="0.8" height="1.6" fill="#333"/>
<rect x="113.70" y="204.00" width="0.8" height="1.6" fill="#333"/>
<circle cx="91.50" cy="187.90" r="0.6" fill="#2a2a2a"/>
<circle cx="91.50" cy="191.30" r="0.5" fill="#2a2a2a"/>
<circle cx="91.50" cy="193.10" r="0.45" fill="#2a2a2a"/>
<circle cx="91.50" cy="200.50" r="0.55" fill="#2a2a2a"/>
<circle cx="91.50" cy="203.70" r="0.5" fill="#2a2a2a"/>
<path d="M91.70,195.30C90.60,194.50 89.60,195.40 89.60,196.50C89.60,197.60 90.60,198.50 91.70,197.70" fill="none" stroke="#222" stroke-width="1.0"/>
<path d="M120.00,187.50H141.30V204.00" fill="none" stroke="#a8a8a8" stroke-width="0.7"/>
<path d="M120.00,204.00L120.00,204.00L120.19,204.00L120.39,204.00L120.58,204.00L120.77,204.00L120.97,204.00L121.16,204.00L121.36,204.00L121.55,204.00L121.74,204.00L121.94,204.00L122.13,204.00L122.32,204.00L122.52,204.00L122.71,204.00L122.90,204.00L123.10,204.00L123.29,204.00L123.49,204.00L123.68,204.00L123.87,204.00L124.07,204.00L124.26,204.00L124.45,204.00L124.65,204.00L124.84,204.00L125.03,204.00L125.23,204.00L125.42,204.00L125.62,204.00L125.81,204.00L126.00,204.00L126.20,204.00L126.39,204.00L126.58,204.00L126.78,204.00L126.97,204.00L127.16,204.00L127.36,204.00L127.55,204.00L127.75,204.00L127.94,204.00L128.13,204.00L128.33,204.00L128.52,204.00L128.71,204.00L128.91,204.00L129.10,204.00L129.29,204.00L129.49,204.00L129.68,204.00L129.88,204.00L130.07,204.00L130.26,204.00L130.46,204.00L130.65,204.00L130.84,204.00L131.04,204.00L131.23,204.00L131.42,204.00L131.62,204.00L131.81,204.00L132.01,204.00L132.20,204.00L132.39,204.00L132.59,204.00L132.78,204.00L132.97,204.00L133.17,204.00L133.36,204.00L133.55,204.00L133.75,204.00L133.94,204.00L134.14,204.00L134.33,204.00L134.52,204.00L134.72,204.00L134.91,204.00L135.10,203.99L135.30,203.99L135.49,203.98L135.68,203.95L135.88,203.90L136.07,203.82L136.27,203.69L136.46,203.48L136.65,203.15L136.85,202.61L137.04,201.74L137.23,200.32L137.43,198.23L137.62,195.52L137.81,192.63L138.01,190.36L138.20,189.50L138.40,190.02L138.59,191.43L138.78,193.41L138.98,195.55L139.17,197.52L139.36,199.14L139.56,200.36L139.75,201.24L139.94,201.86L140.14,202.31L140.33,202.66L140.53,202.94L140.72,203.16L140.91,203.35L141.11,203.51L141.30,203.63L141.30,204.00Z" fill="#0a0a0a"/>
<path d="M120.00,187.50V204.00" fill="none" stroke="#a0a0a0" stroke-width="0.8"/>
<path d="M119.60,204.00H141.30" fill="none" stroke="#1a1a1a" stroke-width="1.1"/>
<rect x="119.80" y="204.00" width="0.8" height="1.6" fill="#333"/>
<rect x="125.02" y="204.00" width="0.8" height="1.6" fill="#333"/>
<rect x="130.25" y="204.00" width="0.8" height="1.6" fill="#333"/>
<rect x="135.47" y="204.00" width="0.8" height="1.6" fill="#333"/>
<rect x="140.70" y="204.00" width="0.8" height="1.6" fill="#333"/>
<circle cx="118.50" cy="187.90" r="0.6" fill="#2a2a2a"/>
<circle cx="118.50" cy="191.30" r="0.5" fill="#2a2a2a"/>
<circle cx="118.50" cy="193.10" r="0.45" fill="#2a2a2a"/>
<circle cx="118.50" cy="200.50" r="0.55" fill="#2a2a2a"/>
<circle cx="118.50" cy="203.70" r="0.5" fill="#2a2a2a"/>
<path d="M118.70,195.30C117.60,194.50 116.60,195.40 116.60,196.50C116.60,197.60 117.60,198.50 118.70,197.70" fill="none" stroke="#222" stroke-width="1.0"/>
<path d="M147.90,187.50H169.20V204.00" fill="none" stroke="#a8a8a8" stroke-width="0.7"/>
<path d="M147.90,204.00L147.90,204.00L148.09,204.00L148.29,204.00L148.48,204.00L148.67,204.00L148.87,204.00L149.06,204.00L149.26,204.00L149.45,204.00L149.64,204.00L149.84,204.00L150.03,204.00L150.22,204.00L150.42,204.00L150.61,204.00L150.80,204.00L151.00,204.00L151.19,204.00L151.39,204.00L151.58,204.00L151.77,204.00L151.97,204.00L152.16,204.00L152.35,204.00L152.55,204.00L152.74,204.00L152.93,204.00L153.13,204.00L153.32,204.00L153.52,204.00L153.71,204.00L153.90,204.00L154.10,204.00L154.29,204.00L154.48,204.00L154.68,204.00L154.87,204.00L155.06,204.00L155.26,204.00L155.45,204.00L155.65,204.00L155.84,204.00L156.03,204.00L156.23,204.00L156.42,204.00L156.61,204.00L156.81,204.00L157.00,204.00L157.19,204.00L157.39,204.00L157.58,204.00L157.78,204.00L157.97,204.00L158.16,204.00L158.36,204.00L158.55,203.99L158.74,203.98L158.94,203.96L159.13,203.92L159.32,203.86L159.52,203.75L159.71,203.58L159.91,203.30L160.10,202.86L160.29,202.14L160.49,200.98L160.68,199.20L160.87,196.81L161.07,194.12L161.26,191.81L161.45,190.65L161.65,190.88L161.84,192.00L162.04,193.74L162.23,195.71L162.42,197.60L162.62,199.18L162.81,200.40L163.00,201.28L163.20,201.90L163.39,202.35L163.58,202.69L163.78,202.96L163.97,203.18L164.17,203.36L164.36,203.51L164.55,203.63L164.75,203.73L164.94,203.81L165.13,203.86L165.33,203.90L165.52,203.93L165.71,203.96L165.91,203.97L166.10,203.98L166.30,203.99L166.49,203.99L166.68,204.00L166.88,204.00L167.07,204.00L167.26,204.00L167.46,204.00L167.65,204.00L167.84,204.00L168.04,204.00L168.23,204.00L168.43,204.00L168.62,204.00L168.81,204.00L169.01,204.00L169.20,204.00L169.20,204.00Z" fill="#0a0a0a"/>
<path d="M147.90,187.50V204.00" fill="none" stroke="#a0a0a0" stroke-width="0.8"/>
<path d="M147.50,204.00H169.20" fill="none" stroke="#1a1a1a" stroke-width="1.1"/>
<rect x="147.70" y="204.00" width="0.8" height="1.6" fill="#333"/>
<rect x="152.92" y="204.00" width="0.8" height="1.6" fill="#333"/>
<rect x="158.15" y="204.00" width="0.8" height="1.6" fill="#333"/>
<rect x="163.38" y="204.00" width="0.8" height="1.6" fill="#333"/>
<rect x="168.60" y="204.00" width="0.8" height="1.6" fill="#333"/>
<circle cx="146.40" cy="187.90" r="0.6" fill="#2a2a2a"/>
<circle cx="146.40" cy="191.30" r="0.5" fill="#2a2a2a"/>
<circle cx="146.40" cy="193.10" r="0.45" fill="#2a2a2a"/>
<circle cx="146.40" cy="200.50" r="0.55" fill="#2a2a2a"/>
<circle cx="146.40" cy="203.70" r="0.5" fill="#2a2a2a"/>
<path d="M146.60,195.30C145.50,194.50 144.50,195.40 144.50,196.50C144.50,197.60 145.50,198.50 146.60,197.70" fill="none" stroke="#222" stroke-width="1.0"/>
<path d="M174.50,187.50H195.80V204.00" fill="none" stroke="#a8a8a8" stroke-width="0.7"/>
<path d="M174.50,204.00L174.50,204.00L174.69,204.00L174.89,204.00L175.08,204.00L175.27,204.00L175.47,204.00L175.66,204.00L175.86,204.00L176.05,204.00L176.24,204.00L176.44,204.00L176.63,204.00L176.82,204.00L177.02,204.00L177.21,204.00L177.40,204.00L177.60,204.00L177.79,204.00L177.99,204.00L178.18,204.00L178.37,204.00L178.57,204.00L178.76,204.00L178.95,204.00L179.15,204.00L179.34,204.00L179.53,204.00L179.73,204.00L179.92,204.00L180.12,204.00L180.31,204.00L180.50,204.00L180.70,204.00L180.89,204.00L181.08,204.00L181.28,204.00L181.47,204.00L181.66,204.00L181.86,204.00L182.05,204.00L182.25,204.00L182.44,204.00L182.63,204.00L182.83,204.00L183.02,204.00L183.21,204.00L183.41,204.00L183.60,204.00L183.79,204.00L183.99,204.00L184.18,204.00L184.38,204.00L184.57,204.00L184.76,204.00L184.96,204.00L185.15,204.00L185.34,203.99L185.54,203.98L185.73,203.95L185.92,203.91L186.12,203.84L186.31,203.71L186.51,203.51L186.70,203.18L186.89,202.67L187.09,201.82L187.28,200.45L187.47,198.35L187.67,195.52L187.86,192.31L188.05,189.52L188.25,188.07L188.44,188.30L188.64,189.62L188.83,191.67L189.02,194.02L189.22,196.28L189.41,198.19L189.60,199.66L189.80,200.72L189.99,201.47L190.18,202.01L190.38,202.42L190.57,202.75L190.77,203.01L190.96,203.23L191.15,203.41L191.35,203.56L191.54,203.68L191.73,203.76L191.93,203.83L192.12,203.88L192.31,203.92L192.51,203.95L192.70,203.96L192.90,203.98L193.09,203.99L193.28,203.99L193.48,203.99L193.67,204.00L193.86,204.00L194.06,204.00L194.25,204.00L194.44,204.00L194.64,204.00L194.83,204.00L195.03,204.00L195.22,204.00L195.41,204.00L195.61,204.00L195.80,204.00L195.80,204.00Z" fill="#0a0a0a"/>
<path d="M174.50,187.50V204.00" fill="none" stroke="#a0a0a0" stroke-width="0.8"/>
<path d="M174.10,204.00H195.80" fill="none" stroke="#1a1a1a" stroke-width="1.1"/>
<rect x="174.30" y="204.00" width="0.8" height="1.6" fill="#333"/>
<rect x="179.52" y="204.00" width="0.8" height="1.6" fill="#333"/>
<rect x="184.75" y="204.00" width="0.8" height="1.6" fill="#333"/>
<rect x="189.97" y="204.00" width="0.8" height="1.6" fill="#333"/>
<rect x="195.20" y="204.00" width="0.8" height="1.6" fill="#333"/>
<circle cx="173.00" cy="187.90" r="0.6" fill="#2a2a2a"/>
<circle cx="173.00" cy="191.30" r="0.5" fill="#2a2a2a"/>
<circle cx="173.00" cy="193.10" r="0.45" fill="#2a2a2a"/>
<circle cx="173.00" cy="200.50" r="0.55" fill="#2a2a2a"/>
<circle cx="173.00" cy="203.70" r="0.5" fill="#2a2a2a"/>
<path d="M173.20,195.30C172.10,194.50 171.10,195.40 171.10,196.50C171.10,197.60 172.10,198.50 173.20,197.70" fill="none" stroke="#222" stroke-width="1.0"/>
<path d="M13.50,217.20H35.30V234.20" fill="none" stroke="#a8a8a8" stroke-width="0.7"/>
<path d="M13.50,234.20L13.50,234.20L13.70,234.20L13.90,234.20L14.09,234.20L14.29,234.20L14.49,234.20L14.69,234.20L14.89,234.20L15.09,234.20L15.28,234.20L15.48,234.20L15.68,234.20L15.88,234.20L16.08,234.20L16.27,234.20L16.47,234.20L16.67,234.20L16.87,234.20L17.07,234.20L17.27,234.20L17.46,234.20L17.66,234.20L17.86,234.20L18.06,234.20L18.26,234.20L18.45,234.20L18.65,234.20L18.85,234.20L19.05,234.20L19.25,234.20L19.45,234.20L19.64,234.20L19.84,234.20L20.04,234.20L20.24,234.20L20.44,234.20L20.63,234.20L20.83,234.20L21.03,234.20L21.23,234.20L21.43,234.20L21.63,234.20L21.82,234.20L22.02,234.20L22.22,234.20L22.42,234.20L22.62,234.20L22.81,234.20L23.01,234.20L23.21,234.20L23.41,234.20L23.61,234.20L23.81,234.20L24.00,234.20L24.20,234.20L24.40,234.20L24.60,234.20L24.80,234.20L24.99,234.20L25.19,234.20L25.39,234.20L25.59,234.20L25.79,234.20L25.99,234.20L26.18,234.20L26.38,234.20L26.58,234.20L26.78,234.20L26.98,234.20L27.17,234.20L27.37,234.20L27.57,234.20L27.77,234.20L27.97,234.20L28.17,234.20L28.36,234.20L28.56,234.20L28.76,234.20L28.96,234.20L29.16,234.20L29.35,234.20L29.55,234.20L29.75,234.20L29.95,234.20L30.15,234.20L30.35,234.20L30.54,234.20L30.74,234.20L30.94,234.20L31.14,234.20L31.34,234.20L31.53,234.19L31.73,234.19L31.93,234.17L32.13,234.14L32.33,234.09L32.53,234.00L32.72,233.85L32.92,233.61L33.12,233.26L33.32,232.77L33.52,232.13L33.71,231.34L33.91,230.42L34.11,229.44L34.31,228.47L34.51,227.62L34.71,226.98L34.90,226.64L35.10,226.62L35.30,226.77L35.30,234.20Z" fill="#0a0a0a"/>
<path d="M13.50,217.20V234.20" fill="none" stroke="#a0a0a0" stroke-width="0.8"/>
<path d="M13.10,234.20H35.30" fill="none" stroke="#1a1a1a" stroke-width="1.1"/>
<rect x="13.30" y="234.20" width="0.8" height="1.6" fill="#333"/>
<rect x="18.65" y="234.20" width="0.8" height="1.6" fill="#333"/>
<rect x="24.00" y="234.20" width="0.8" height="1.6" fill="#333"/>
<rect x="29.35" y="234.20" width="0.8" height="1.6" fill="#333"/>
<rect x="34.70" y="234.20" width="0.8" height="1.6" fill="#333"/>
<circle cx="12.00" cy="217.60" r="0.6" fill="#2a2a2a"/>
<circle cx="12.00" cy="221.00" r="0.5" fill="#2a2a2a"/>
<circle cx="12.00" cy="222.80" r="0.45" fill="#2a2a2a"/>
<circle cx="12.00" cy="230.20" r="0.55" fill="#2a2a2a"/>
<circle cx="12.00" cy="233.90" r="0.5" fill="#2a2a2a"/>
<path d="M12.20,225.00C11.10,224.20 10.10,225.10 10.10,226.20C10.10,227.30 11.10,228.20 12.20,227.40" fill="none" stroke="#222" stroke-width="1.0"/>
<path d="M41.00,217.20H62.80V234.20" fill="none" stroke="#a8a8a8" stroke-width="0.7"/>
<path d="M41.00,234.20L41.00,234.20L41.20,234.20L41.40,234.20L41.59,234.20L41.79,234.20L41.99,234.20L42.19,234.20L42.39,234.20L42.59,234.20L42.78,234.20L42.98,234.20L43.18,234.20L43.38,234.20L43.58,234.20L43.77,234.20L43.97,234.20L44.17,234.20L44.37,234.20L44.57,234.20L44.77,234.20L44.96,234.20L45.16,234.20L45.36,234.20L45.56,234.20L45.76,234.20L45.95,234.20L46.15,234.20L46.35,234.20L46.55,234.20L46.75,234.20L46.95,234.20L47.14,234.20L47.34,234.20L47.54,234.20L47.74,234.20L47.94,234.20L48.13,234.20L48.33,234.20L48.53,234.20L48.73,234.20L48.93,234.20L49.13,234.20L49.32,234.20L49.52,234.20L49.72,234.20L49.92,234.20L50.12,234.20L50.31,234.20L50.51,234.20L50.71,234.20L50.91,234.20L51.11,234.20L51.31,234.20L51.50,234.20L51.70,234.20L51.90,234.20L52.10,234.20L52.30,234.20L52.49,234.20L52.69,234.20L52.89,234.20L53.09,234.20L53.29,234.20L53.49,234.20L53.68,234.20L53.88,234.20L54.08,234.20L54.28,234.20L54.48,234.20L54.67,234.20L54.87,234.20L55.07,234.20L55.27,234.19L55.47,234.18L55.67,234.16L55.86,234.12L56.06,234.05L56.26,233.94L56.46,233.75L56.66,233.46L56.85,232.97L57.05,232.17L57.25,230.87L57.45,228.94L57.65,226.48L57.85,223.95L58.04,222.10L58.24,221.62L58.44,222.27L58.64,223.68L58.84,225.51L59.03,227.40L59.23,229.07L59.43,230.39L59.63,231.35L59.83,232.04L60.03,232.52L60.22,232.87L60.42,233.15L60.62,233.38L60.82,233.56L61.02,233.71L61.21,233.84L61.41,233.93L61.61,234.01L61.81,234.06L62.01,234.11L62.21,234.14L62.40,234.16L62.60,234.17L62.80,234.18L62.80,234.20Z" fill="#0a0a0a"/>
<path d="M41.00,217.20V234.20" fill="none" stroke="#a0a0a0" stroke-width="0.8"/>
<path d="M40.60,234.20H62.80" fill="none" stroke="#1a1a1a" stroke-width="1.1"/>
<rect x="40.80" y="234.20" width="0.8" height="1.6" fill="#333"/>
<rect x="46.15" y="234.20" width="0.8" height="1.6" fill="#333"/>
<rect x="51.50" y="234.20" width="0.8" height="1.6" fill="#333"/>
<rect x="56.85" y="234.20" width="0.8" height="1.6" fill="#333"/>
<rect x="62.20" y="234.20" width="0.8" height="1.6" fill="#333"/>
<circle cx="39.50" cy="217.60" r="0.6" fill="#2a2a2a"/>
<circle cx="39.50" cy="221.00" r="0.5" fill="#2a2a2a"/>
<circle cx="39.50" cy="222.80" r="0.45" fill="#2a2a2a"/>
<circle cx="39.50" cy="230.20" r="0.55" fill="#2a2a2a"/>
<circle cx="39.50" cy="233.90" r="0.5" fill="#2a2a2a"/>
<path d="M39.70,225.00C38.60,224.20 37.60,225.10 37.60,226.20C37.60,227.30 38.60,228.20 39.70,227.40" fill="none" stroke="#222" stroke-width="1.0"/>
<path d="M68.00,217.20H89.80V234.20" fill="none" stroke="#a8a8a8" stroke-width="0.7"/>
<path d="M68.00,234.20L68.00,234.20L68.20,234.20L68.40,234.20L68.59,234.20L68.79,234.20L68.99,234.20L69.19,234.20L69.39,234.20L69.59,234.20L69.78,234.20L69.98,234.20L70.18,234.20L70.38,234.20L70.58,234.20L70.77,234.20L70.97,234.20L71.17,234.20L71.37,234.20L71.57,234.20L71.77,234.20L71.96,234.20L72.16,234.20L72.36,234.20L72.56,234.20L72.76,234.20L72.95,234.20L73.15,234.20L73.35,234.20L73.55,234.20L73.75,234.20L73.95,234.20L74.14,234.20L74.34,234.20L74.54,234.20L74.74,234.20L74.94,234.20L75.13,234.20L75.33,234.20L75.53,234.20L75.73,234.20L75.93,234.20L76.13,234.20L76.32,234.20L76.52,234.20L76.72,234.20L76.92,234.20L77.12,234.20L77.31,234.20L77.51,234.20L77.71,234.20L77.91,234.20L78.11,234.20L78.31,234.20L78.50,234.20L78.70,234.20L78.90,234.20L79.10,234.20L79.30,234.20L79.49,234.20L79.69,234.20L79.89,234.20L80.09,234.20L80.29,234.20L80.49,234.20L80.68,234.20L80.88,234.20L81.08,234.20L81.28,234.20L81.48,234.20L81.67,234.20L81.87,234.20L82.07,234.20L82.27,234.20L82.47,234.20L82.67,234.20L82.86,234.20L83.06,234.20L83.26,234.20L83.46,234.20L83.66,234.20L83.85,234.20L84.05,234.20L84.25,234.20L84.45,234.20L84.65,234.19L84.85,234.19L85.04,234.18L85.24,234.15L85.44,234.10L85.64,234.02L85.84,233.89L86.03,233.68L86.23,233.35L86.43,232.79L86.63,231.87L86.83,230.43L87.03,228.39L87.22,225.96L87.42,223.73L87.62,222.43L87.82,222.46L88.02,223.38L88.21,224.90L88.41,226.69L88.61,228.42L88.81,229.87L89.01,230.99L89.21,231.79L89.40,232.35L89.60,232.75L89.80,233.06L89.80,234.20Z" fill="#0a0a0a"/>
<path d="M68.00,217.20V234.20" fill="none" stroke="#a0a0a0" stroke-width="0.8"/>
<path d="M67.60,234.20H89.80" fill="none" stroke="#1a1a1a" stroke-width="1.1"/>
<rect x="67.80" y="234.20" width="0.8" height="1.6" fill="#333"/>
<rect x="73.15" y="234.20" width="0.8" height="1.6" fill="#333"/>
<rect x="78.50" y="234.20" width="0.8" height="1.6" fill="#333"/>
<rect x="83.85" y="234.20" width="0.8" height="1.6" fill="#333"/>
<rect x="89.20" y="234.20" width="0.8" height="1.6" fill="#333"/>
<circle cx="66.50" cy="217.60" r="0.6" fill="#2a2a2a"/>
<circle cx="66.50" cy="221.00" r="0.5" fill="#2a2a2a"/>
<circle cx="66.50" cy="222.80" r="0.45" fill="#2a2a2a"/>
<circle cx="66.50" cy="230.20" r="0.55" fill="#2a2a2a"/>
<circle cx="66.50" cy="233.90" r="0.5" fill="#2a2a2a"/>
<path d="M66.70,225.00C65.60,224.20 64.60,225.10 64.60,226.20C64.60,227.30 65.60,228.20 66.70,227.40" fill="none" stroke="#222" stroke-width="1.0"/>
<path d="M94.60,217.20H116.40V234.20" fill="none" stroke="#a8a8a8" stroke-width="0.7"/>
<path d="M94.60,234.20L94.60,234.20L94.80,234.20L95.00,234.20L95.19,234.20L95.39,234.20L95.59,234.20L95.79,234.20L95.99,234.20L96.19,234.20L96.38,234.20L96.58,234.20L96.78,234.20L96.98,234.20L97.18,234.20L97.37,234.20L97.57,234.20L97.77,234.20L97.97,234.20L98.17,234.20L98.37,234.20L98.56,234.20L98.76,234.20L98.96,234.20L99.16,234.20L99.36,234.20L99.55,234.20L99.75,234.20L99.95,234.20L100.15,234.20L100.35,234.20L100.55,234.20L100.74,234.20L100.94,234.20L101.14,234.20L101.34,234.20L101.54,234.20L101.73,234.20L101.93,234.20L102.13,234.20L102.33,234.20L102.53,234.20L102.73,234.20L102.92,234.20L103.12,234.20L103.32,234.20L103.52,234.20L103.72,234.20L103.91,234.20L104.11,234.20L104.31,234.20L104.51,234.20L104.71,234.20L104.91,234.20L105.10,234.20L105.30,234.20L105.50,234.20L105.70,234.20L105.90,234.20L106.09,234.20L106.29,234.20L106.49,234.20L106.69,234.20L106.89,234.20L107.09,234.20L107.28,234.20L107.48,234.20L107.68,234.20L107.88,234.20L108.08,234.20L108.27,234.20L108.47,234.20L108.67,234.20L108.87,234.20L109.07,234.20L109.27,234.20L109.46,234.20L109.66,234.20L109.86,234.20L110.06,234.20L110.26,234.20L110.45,234.20L110.65,234.19L110.85,234.18L111.05,234.15L111.25,234.11L111.45,234.03L111.64,233.89L111.84,233.67L112.04,233.32L112.24,232.75L112.44,231.80L112.63,230.26L112.83,227.96L113.03,224.97L113.23,221.83L113.43,219.45L113.63,218.71L113.82,219.42L114.02,221.09L114.22,223.31L114.42,225.65L114.62,227.73L114.81,229.39L115.01,230.62L115.21,231.48L115.41,232.09L115.61,232.54L115.81,232.89L116.00,233.17L116.20,233.40L116.40,233.59L116.40,234.20Z" fill="#0a0a0a"/>
<path d="M94.60,217.20V234.20" fill="none" stroke="#a0a0a0" stroke-width="0.8"/>
<path d="M94.20,234.20H116.40" fill="none" stroke="#1a1a1a" stroke-width="1.1"/>
<rect x="94.40" y="234.20" width="0.8" height="1.6" fill="#333"/>
<rect x="99.75" y="234.20" width="0.8" height="1.6" fill="#333"/>
<rect x="105.10" y="234.20" width="0.8" height="1.6" fill="#333"/>
<rect x="110.45" y="234.20" width="0.8" height="1.6" fill="#333"/>
<rect x="115.80" y="234.20" width="0.8" height="1.6" fill="#333"/>
<circle cx="93.10" cy="217.60" r="0.6" fill="#2a2a2a"/>
<circle cx="93.10" cy="221.00" r="0.5" fill="#2a2a2a"/>
<circle cx="93.10" cy="222.80" r="0.45" fill="#2a2a2a"/>
<circle cx="93.10" cy="230.20" r="0.55" fill="#2a2a2a"/>
<circle cx="93.10" cy="233.90" r="0.5" fill="#2a2a2a"/>
<path d="M93.30,225.00C92.20,224.20 91.20,225.10 91.20,226.20C91.20,227.30 92.20,228.20 93.30,227.40" fill="none" stroke="#222" stroke-width="1.0"/>
<path d="M121.50,217.20H143.30V234.20" fill="none" stroke="#a8a8a8" stroke-width="0.7"/>
<path d="M121.50,234.20L121.50,234.20L121.70,234.20L121.90,234.20L122.09,234.20L122.29,234.20L122.49,234.20L122.69,234.20L122.89,234.20L123.09,234.20L123.28,234.20L123.48,234.20L123.68,234.20L123.88,234.20L124.08,234.20L124.27,234.20L124.47,234.20L124.67,234.20L124.87,234.20L125.07,234.20L125.27,234.20L125.46,234.20L125.66,234.20L125.86,234.20L126.06,234.20L126.26,234.20L126.45,234.20L126.65,234.20L126.85,234.20L127.05,234.20L127.25,234.20L127.45,234.20L127.64,234.20L127.84,234.20L128.04,234.20L128.24,234.20L128.44,234.20L128.63,234.20L128.83,234.20L129.03,234.20L129.23,234.20L129.43,234.20L129.63,234.20L129.82,234.20L130.02,234.20L130.22,234.20L130.42,234.20L130.62,234.20L130.81,234.20L131.01,234.20L131.21,234.20L131.41,234.20L131.61,234.20L131.81,234.20L132.00,234.20L132.20,234.20L132.40,234.20L132.60,234.20L132.80,234.20L132.99,234.20L133.19,234.20L133.39,234.20L133.59,234.20L133.79,234.20L133.99,234.20L134.18,234.20L134.38,234.20L134.58,234.20L134.78,234.20L134.98,234.20L135.17,234.20L135.37,234.20L135.57,234.20L135.77,234.20L135.97,234.20L136.17,234.20L136.36,234.20L136.56,234.20L136.76,234.20L136.96,234.20L137.16,234.20L137.35,234.20L137.55,234.20L137.75,234.20L137.95,234.20L138.15,234.20L138.35,234.20L138.54,234.20L138.74,234.19L138.94,234.18L139.14,234.15L139.34,234.11L139.53,234.04L139.73,233.91L139.93,233.72L140.13,233.40L140.33,232.87L140.53,232.01L140.72,230.65L140.92,228.72L141.12,226.42L141.32,224.29L141.52,223.03L141.71,223.04L141.91,223.90L142.11,225.34L142.31,227.04L142.51,228.68L142.71,230.07L142.90,231.13L143.10,231.90L143.30,232.43L143.30,234.20Z" fill="#0a0a0a"/>
<path d="M121.50,217.20V234.20" fill="none" stroke="#a0a0a0" stroke-width="0.8"/>
<path d="M121.10,234.20H143.30" fill="none" stroke="#1a1a1a" stroke-width="1.1"/>
<rect x="121.30" y="234.20" width="0.8" height="1.6" fill="#333"/>
<rect x="126.65" y="234.20" width="0.8" height="1.6" fill="#333"/>
<rect x="132.00" y="234.20" width="0.8" height="1.6" fill="#333"/>
<rect x="137.35" y="234.20" width="0.8" height="1.6" fill="#333"/>
<rect x="142.70" y="234.20" width="0.8" height="1.6" fill="#333"/>
<circle cx="120.00" cy="217.60" r="0.6" fill="#2a2a2a"/>
<circle cx="120.00" cy="221.00" r="0.5" fill="#2a2a2a"/>
<circle cx="120.00" cy="222.80" r="0.45" fill="#2a2a2a"/>
<circle cx="120.00" cy="230.20" r="0.55" fill="#2a2a2a"/>
<circle cx="120.00" cy="233.90" r="0.5" fill="#2a2a2a"/>
<path d="M120.20,225.00C119.10,224.20 118.10,225.10 118.10,226.20C118.10,227.30 119.10,228.20 120.20,227.40" fill="none" stroke="#222" stroke-width="1.0"/>
<path d="M147.60,217.20H169.40V234.20" fill="none" stroke="#a8a8a8" stroke-width="0.7"/>
<path d="M147.60,234.20L147.60,234.20L147.80,234.20L148.00,234.20L148.19,234.20L148.39,234.20L148.59,234.20L148.79,234.20L148.99,234.20L149.19,234.20L149.38,234.20L149.58,234.20L149.78,234.20L149.98,234.20L150.18,234.20L150.37,234.20L150.57,234.20L150.77,234.20L150.97,234.20L151.17,234.20L151.37,234.20L151.56,234.20L151.76,234.20L151.96,234.20L152.16,234.20L152.36,234.20L152.55,234.20L152.75,234.20L152.95,234.20L153.15,234.20L153.35,234.20L153.55,234.20L153.74,234.20L153.94,234.20L154.14,234.20L154.34,234.20L154.54,234.20L154.73,234.20L154.93,234.20L155.13,234.20L155.33,234.20L155.53,234.20L155.73,234.20L155.92,234.20L156.12,234.20L156.32,234.20L156.52,234.20L156.72,234.20L156.91,234.20L157.11,234.20L157.31,234.20L157.51,234.20L157.71,234.20L157.91,234.20L158.10,234.20L158.30,234.20L158.50,234.20L158.70,234.20L158.90,234.20L159.09,234.20L159.29,234.20L159.49,234.20L159.69,234.20L159.89,234.20L160.09,234.20L160.28,234.20L160.48,234.20L160.68,234.20L160.88,234.20L161.08,234.20L161.27,234.20L161.47,234.20L161.67,234.20L161.87,234.20L162.07,234.20L162.27,234.20L162.46,234.20L162.66,234.20L162.86,234.20L163.06,234.20L163.26,234.20L163.45,234.20L163.65,234.20L163.85,234.20L164.05,234.20L164.25,234.20L164.45,234.20L164.64,234.19L164.84,234.18L165.04,234.16L165.24,234.13L165.44,234.07L165.63,233.98L165.83,233.83L166.03,233.58L166.23,233.18L166.43,232.53L166.63,231.55L166.82,230.26L167.02,228.90L167.22,227.85L167.42,227.50L167.62,227.79L167.81,228.50L168.01,229.46L168.21,230.47L168.41,231.37L168.61,232.10L168.81,232.63L169.00,233.01L169.20,233.28L169.40,233.48L169.40,234.20Z" fill="#0a0a0a"/>
<path d="M147.60,217.20V234.20" fill="none" stroke="#a0a0a0" stroke-width="0.8"/>
<path d="M147.20,234.20H169.40" fill="none" stroke="#1a1a1a" stroke-width="1.1"/>
<rect x="147.40" y="234.20" width="0.8" height="1.6" fill="#333"/>
<rect x="152.75" y="234.20" width="0.8" height="1.6" fill="#333"/>
<rect x="158.10" y="234.20" width="0.8" height="1.6" fill="#333"/>
<rect x="163.45" y="234.20" width="0.8" height="1.6" fill="#333"/>
<rect x="168.80" y="234.20" width="0.8" height="1.6" fill="#333"/>
<circle cx="146.10" cy="217.60" r="0.6" fill="#2a2a2a"/>
<circle cx="146.10" cy="221.00" r="0.5" fill="#2a2a2a"/>
<circle cx="146.10" cy="222.80" r="0.45" fill="#2a2a2a"/>
<circle cx="146.10" cy="230.20" r="0.55" fill="#2a2a2a"/>
<circle cx="146.10" cy="233.90" r="0.5" fill="#2a2a2a"/>
<path d="M146.30,225.00C145.20,224.20 144.20,225.10 144.20,226.20C144.20,227.30 145.20,228.20 146.30,227.40" fill="none" stroke="#222" stroke-width="1.0"/>
<path d="M176.00,217.20H197.80V234.20" fill="none" stroke="#a8a8a8" stroke-width="0.7"/>
<path d="M176.00,234.20L176.00,234.20L176.20,234.20L176.40,234.20L176.59,234.20L176.79,234.20L176.99,234.20L177.19,234.20L177.39,234.20L177.59,234.20L177.78,234.20L177.98,234.20L178.18,234.20L178.38,234.20L178.58,234.20L178.77,234.20L178.97,234.20L179.17,234.20L179.37,234.20L179.57,234.20L179.77,234.20L179.96,234.20L180.16,234.20L180.36,234.20L180.56,234.20L180.76,234.20L180.95,234.20L181.15,234.20L181.35,234.20L181.55,234.20L181.75,234.20L181.95,234.20L182.14,234.20L182.34,234.20L182.54,234.20L182.74,234.20L182.94,234.20L183.13,234.20L183.33,234.20L183.53,234.20L183.73,234.20L183.93,234.20L184.13,234.20L184.32,234.20L184.52,234.20L184.72,234.20L184.92,234.20L185.12,234.20L185.31,234.20L185.51,234.20L185.71,234.20L185.91,234.20L186.11,234.20L186.31,234.20L186.50,234.20L186.70,234.20L186.90,234.20L187.10,234.20L187.30,234.20L187.49,234.20L187.69,234.20L187.89,234.20L188.09,234.20L188.29,234.20L188.49,234.20L188.68,234.20L188.88,234.20L189.08,234.20L189.28,234.20L189.48,234.20L189.67,234.20L189.87,234.20L190.07,234.20L190.27,234.20L190.47,234.20L190.67,234.20L190.86,234.20L191.06,234.20L191.26,234.20L191.46,234.20L191.66,234.20L191.85,234.20L192.05,234.20L192.25,234.19L192.45,234.18L192.65,234.17L192.85,234.13L193.04,234.06L193.24,233.95L193.44,233.77L193.64,233.48L193.84,233.01L194.03,232.23L194.23,230.94L194.43,228.92L194.63,226.08L194.83,222.71L195.03,219.63L195.22,217.86L195.42,217.93L195.62,219.23L195.82,221.35L196.02,223.83L196.21,226.22L196.41,228.23L196.61,229.77L196.81,230.87L197.01,231.65L197.21,232.20L197.40,232.62L197.60,232.95L197.80,233.23L197.80,234.20Z" fill="#0a0a0a"/>
<path d="M176.00,217.20V234.20" fill="none" stroke="#a0a0a0" stroke-width="0.8"/>
<path d="M175.60,234.20H197.80" fill="none" stroke="#1a1a1a" stroke-width="1.1"/>
<rect x="175.80" y="234.20" width="0.8" height="1.6" fill="#333"/>
<rect x="181.15" y="234.20" width="0.8" height="1.6" fill="#333"/>
<rect x="186.50" y="234.20" width="0.8" height="1.6" fill="#333"/>
<rect x="191.85" y="234.20" width="0.8" height="1.6" fill="#333"/>
<rect x="197.20" y="234.20" width="0.8" height="1.6" fill="#333"/>
<circle cx="174.50" cy="217.60" r="0.6" fill="#2a2a2a"/>
<circle cx="174.50" cy="221.00" r="0.5" fill="#2a2a2a"/>
<circle cx="174.50" cy="222.80" r="0.45" fill="#2a2a2a"/>
<circle cx="174.50" cy="230.20" r="0.55" fill="#2a2a2a"/>
<circle cx="174.50" cy="233.90" r="0.5" fill="#2a2a2a"/>
<path d="M174.70,225.00C173.60,224.20 172.60,225.10 172.60,226.20C172.60,227.30 173.60,228.20 174.70,227.40" fill="none" stroke="#222" stroke-width="1.0"/>
<path d="M12.50,243.00H34.50V260.50" fill="none" stroke="#a8a8a8" stroke-width="0.7"/>
<path d="M12.50,260.50L12.50,260.50L12.70,260.50L12.90,260.50L13.10,260.50L13.30,260.50L13.50,260.50L13.70,260.50L13.90,260.50L14.10,260.50L14.30,260.50L14.50,260.50L14.70,260.50L14.90,260.50L15.10,260.50L15.30,260.50L15.50,260.50L15.70,260.50L15.90,260.50L16.10,260.50L16.30,260.50L16.50,260.50L16.70,260.50L16.90,260.50L17.10,260.50L17.30,260.50L17.50,260.50L17.70,260.50L17.90,260.50L18.10,260.50L18.30,260.50L18.50,260.50L18.70,260.50L18.90,260.50L19.10,260.50L19.30,260.50L19.50,260.50L19.70,260.50L19.90,260.50L20.10,260.50L20.30,260.50L20.50,260.50L20.70,260.50L20.90,260.50L21.10,260.50L21.30,260.50L21.50,260.50L21.70,260.50L21.90,260.50L22.10,260.50L22.30,260.50L22.50,260.50L22.70,260.50L22.90,260.50L23.10,260.50L23.30,260.50L23.50,260.50L23.70,260.50L23.90,260.50L24.10,260.50L24.30,260.50L24.50,260.50L24.70,260.50L24.90,260.50L25.10,260.50L25.30,260.50L25.50,260.50L25.70,260.50L25.90,260.50L26.10,260.50L26.30,260.50L26.50,260.50L26.70,260.50L26.90,260.50L27.10,260.50L27.30,260.49L27.50,260.49L27.70,260.47L27.90,260.46L28.10,260.43L28.30,260.38L28.50,260.31L28.70,260.21L28.90,260.06L29.10,259.85L29.30,259.55L29.50,259.12L29.70,258.50L29.90,257.58L30.10,256.28L30.30,254.52L30.50,252.31L30.70,249.80L30.90,247.32L31.10,245.29L31.30,244.15L31.50,244.09L31.70,244.76L31.90,246.01L32.10,247.66L32.30,249.50L32.50,251.35L32.70,253.05L32.90,254.52L33.10,255.71L33.30,256.65L33.50,257.38L33.70,257.93L33.90,258.37L34.10,258.72L34.30,259.00L34.50,259.25L34.50,260.50Z" fill="#0a0a0a"/>
<path d="M12.50,243.00V260.50" fill="none" stroke="#a0a0a0" stroke-width="0.8"/>
<path d="M12.10,260.50H34.50" fill="none" stroke="#1a1a1a" stroke-width="1.1"/>
<rect x="12.30" y="260.50" width="0.8" height="1.6" fill="#333"/>
<rect x="17.70" y="260.50" width="0.8" height="1.6" fill="#333"/>
<rect x="23.10" y="260.50" width="0.8" height="1.6" fill="#333"/>
<rect x="28.50" y="260.50" width="0.8" height="1.6" fill="#333"/>
<rect x="33.90" y="260.50" width="0.8" height="1.6" fill="#333"/>
<circle cx="11.00" cy="243.40" r="0.6" fill="#2a2a2a"/>
<circle cx="11.00" cy="246.80" r="0.5" fill="#2a2a2a"/>
<circle cx="11.00" cy="248.60" r="0.45" fill="#2a2a2a"/>
<circle cx="11.00" cy="256.00" r="0.55" fill="#2a2a2a"/>
<circle cx="11.00" cy="260.20" r="0.5" fill="#2a2a2a"/>
<path d="M11.20,250.80C10.10,250.00 9.10,250.90 9.10,252.00C9.10,253.10 10.10,254.00 11.20,253.20" fill="none" stroke="#222" stroke-width="1.0"/>
<path d="M39.10,243.00H61.10V260.50" fill="none" stroke="#a8a8a8" stroke-width="0.7"/>
<path d="M39.10,260.50L39.10,260.50L39.30,260.50L39.50,260.50L39.70,260.50L39.90,260.50L40.10,260.50L40.30,260.50L40.50,260.50L40.70,260.50L40.90,260.50L41.10,260.50L41.30,260.50L41.50,260.50L41.70,260.50L41.90,260.50L42.10,260.50L42.30,260.50L42.50,260.50L42.70,260.50L42.90,260.50L43.10,260.50L43.30,260.50L43.50,260.50L43.70,260.50L43.90,260.50L44.10,260.50L44.30,260.50L44.50,260.50L44.70,260.50L44.90,260.50L45.10,260.50L45.30,260.50L45.50,260.50L45.70,260.50L45.90,260.50L46.10,260.50L46.30,260.50L46.50,260.50L46.70,260.50L46.90,260.50L47.10,260.50L47.30,260.50L47.50,260.50L47.70,260.50L47.90,260.50L48.10,260.50L48.30,260.50L48.50,260.50L48.70,260.50L48.90,260.50L49.10,260.50L49.30,260.50L49.50,260.50L49.70,260.50L49.90,260.50L50.10,260.50L50.30,260.50L50.50,260.50L50.70,260.50L50.90,260.50L51.10,260.50L51.30,260.50L51.50,260.50L51.70,260.50L51.90,260.50L52.10,260.50L52.30,260.50L52.50,260.50L52.70,260.50L52.90,260.50L53.10,260.50L53.30,260.50L53.50,260.50L53.70,260.50L53.90,260.50L54.10,260.50L54.30,260.50L54.50,260.50L54.70,260.50L54.90,260.50L55.10,260.50L55.30,260.50L55.50,260.49L55.70,260.48L55.90,260.46L56.10,260.42L56.30,260.36L56.50,260.24L56.70,260.05L56.90,259.75L57.10,259.25L57.30,258.43L57.50,257.07L57.70,254.99L57.90,252.22L58.10,249.18L58.30,246.74L58.50,245.80L58.70,246.35L58.90,247.86L59.10,249.95L59.30,252.19L59.50,254.21L59.70,255.84L59.90,257.04L60.10,257.88L60.30,258.48L60.50,258.91L60.70,259.25L60.90,259.52L61.10,259.74L61.10,260.50Z" fill="#0a0a0a"/>
<path d="M39.10,243.00V260.50" fill="none" stroke="#a0a0a0" stroke-width="0.8"/>
<path d="M38.70,260.50H61.10" fill="none" stroke="#1a1a1a" stroke-width="1.1"/>
<rect x="38.90" y="260.50" width="0.8" height="1.6" fill="#333"/>
<rect x="44.30" y="260.50" width="0.8" height="1.6" fill="#333"/>
<rect x="49.70" y="260.50" width="0.8" height="1.6" fill="#333"/>
<rect x="55.10" y="260.50" width="0.8" height="1.6" fill="#333"/>
<rect x="60.50" y="260.50" width="0.8" height="1.6" fill="#333"/>
<circle cx="37.60" cy="243.40" r="0.6" fill="#2a2a2a"/>
<circle cx="37.60" cy="246.80" r="0.5" fill="#2a2a2a"/>
<circle cx="37.60" cy="248.60" r="0.45" fill="#2a2a2a"/>
<circle cx="37.60" cy="256.00" r="0.55" fill="#2a2a2a"/>
<circle cx="37.60" cy="260.20" r="0.5" fill="#2a2a2a"/>
<path d="M37.80,250.80C36.70,250.00 35.70,250.90 35.70,252.00C35.70,253.10 36.70,254.00 37.80,253.20" fill="none" stroke="#222" stroke-width="1.0"/>
<path d="M66.00,243.00H88.00V260.50" fill="none" stroke="#a8a8a8" stroke-width="0.7"/>
<path d="M66.00,260.50L66.00,260.50L66.20,260.50L66.40,260.50L66.60,260.50L66.80,260.50L67.00,260.50L67.20,260.50L67.40,260.50L67.60,260.50L67.80,260.50L68.00,260.50L68.20,260.50L68.40,260.50L68.60,260.50L68.80,260.50L69.00,260.50L69.20,260.50L69.40,260.50L69.60,260.50L69.80,260.50L70.00,260.50L70.20,260.50L70.40,260.50L70.60,260.50L70.80,260.50L71.00,260.50L71.20,260.50L71.40,260.50L71.60,260.50L71.80,260.50L72.00,260.50L72.20,260.50L72.40,260.50L72.60,260.50L72.80,260.50L73.00,260.50L73.20,260.50L73.40,260.50L73.60,260.50L73.80,260.50L74.00,260.50L74.20,260.50L74.40,260.50L74.60,260.50L74.80,260.50L75.00,260.50L75.20,260.50L75.40,260.50L75.60,260.50L75.80,260.50L76.00,260.50L76.20,260.50L76.40,260.50L76.60,260.50L76.80,260.50L77.00,260.50L77.20,260.50L77.40,260.50L77.60,260.50L77.80,260.50L78.00,260.50L78.20,260.50L78.40,260.50L78.60,260.50L78.80,260.50L79.00,260.50L79.20,260.50L79.40,260.50L79.60,260.50L79.80,260.50L80.00,260.50L80.20,260.50L80.40,260.50L80.60,260.50L80.80,260.50L81.00,260.50L81.20,260.50L81.40,260.50L81.60,260.50L81.80,260.50L82.00,260.50L82.20,260.50L82.40,260.50L82.60,260.49L82.80,260.49L83.00,260.48L83.20,260.47L83.40,260.44L83.60,260.41L83.80,260.35L84.00,260.27L84.20,260.16L84.40,259.99L84.60,259.75L84.80,259.42L85.00,258.92L85.20,258.20L85.40,257.18L85.60,255.79L85.80,254.05L86.00,252.07L86.20,250.12L86.40,248.52L86.60,247.62L86.80,247.57L87.00,248.10L87.20,249.08L87.40,250.38L87.60,251.84L87.80,253.29L88.00,254.63L88.00,260.50Z" fill="#0a0a0a"/>
<path d="M66.00,243.00V260.50" fill="none" stroke="#a0a0a0" stroke-width="0.8"/>
<path d="M65.60,260.50H88.00" fill="none" stroke="#1a1a1a" stroke-width="1.1"/>
<rect x="65.80" y="260.50" width="0.8" height="1.6" fill="#333"/>
<rect x="71.20" y="260.50" width="0.8" height="1.6" fill="#333"/>
<rect x="76.60" y="260.50" width="0.8" height="1.6" fill="#333"/>
<rect x="82.00" y="260.50" width="0.8" height="1.6" fill="#333"/>
<rect x="87.40" y="260.50" width="0.8" height="1.6" fill="#333"/>
<circle cx="64.50" cy="243.40" r="0.6" fill="#2a2a2a"/>
<circle cx="64.50" cy="246.80" r="0.5" fill="#2a2a2a"/>
<circle cx="64.50" cy="248.60" r="0.45" fill="#2a2a2a"/>
<circle cx="64.50" cy="256.00" r="0.55" fill="#2a2a2a"/>
<circle cx="64.50" cy="260.20" r="0.5" fill="#2a2a2a"/>
<path d="M64.70,250.80C63.60,250.00 62.60,250.90 62.60,252.00C62.60,253.10 63.60,254.00 64.70,253.20" fill="none" stroke="#222" stroke-width="1.0"/>
<path d="M93.20,243.00H115.20V260.50" fill="none" stroke="#a8a8a8" stroke-width="0.7"/>
<path d="M93.20,260.50L93.20,260.50L93.40,260.50L93.60,260.50L93.80,260.50L94.00,260.50L94.20,260.50L94.40,260.50L94.60,260.50L94.80,260.50L95.00,260.50L95.20,260.50L95.40,260.50L95.60,260.50L95.80,260.50L96.00,260.50L96.20,260.50L96.40,260.50L96.60,260.50L96.80,260.50L97.00,260.50L97.20,260.50L97.40,260.50L97.60,260.50L97.80,260.50L98.00,260.50L98.20,260.50L98.40,260.50L98.60,260.50L98.80,260.50L99.00,260.50L99.20,260.50L99.40,260.50L99.60,260.50L99.80,260.50L100.00,260.50L100.20,260.50L100.40,260.50L100.60,260.50L100.80,260.50L101.00,260.50L101.20,260.50L101.40,260.50L101.60,260.50L101.80,260.50L102.00,260.50L102.20,260.50L102.40,260.50L102.60,260.50L102.80,260.50L103.00,260.50L103.20,260.50L103.40,260.50L103.60,260.50L103.80,260.50L104.00,260.50L104.20,260.50L104.40,260.50L104.60,260.50L104.80,260.50L105.00,260.50L105.20,260.50L105.40,260.50L105.60,260.50L105.80,260.50L106.00,260.50L106.20,260.50L106.40,260.50L106.60,260.50L106.80,260.50L107.00,260.50L107.20,260.50L107.40,260.50L107.60,260.50L107.80,260.50L108.00,260.50L108.20,260.50L108.40,260.50L108.60,260.50L108.80,260.50L109.00,260.50L109.20,260.50L109.40,260.50L109.60,260.49L109.80,260.49L110.00,260.47L110.20,260.45L110.40,260.40L110.60,260.31L110.80,260.16L111.00,259.92L111.20,259.53L111.40,258.89L111.60,257.83L111.80,256.13L112.00,253.68L112.20,250.69L112.40,247.83L112.60,246.04L112.80,245.94L113.00,247.00L113.20,248.86L113.40,251.08L113.60,253.24L113.80,255.08L114.00,256.49L114.20,257.50L114.40,258.20L114.60,258.71L114.80,259.09L115.00,259.39L115.20,259.63L115.20,260.50Z" fill="#0a0a0a"/>
<path d="M93.20,243.00V260.50" fill="none" stroke="#a0a0a0" stroke-width="0.8"/>
<path d="M92.80,260.50H115.20" fill="none" stroke="#1a1a1a" stroke-width="1.1"/>
<rect x="93.00" y="260.50" width="0.8" height="1.6" fill="#333"/>
<rect x="98.40" y="260.50" width="0.8" height="1.6" fill="#333"/>
<rect x="103.80" y="260.50" width="0.8" height="1.6" fill="#333"/>
<rect x="109.20" y="260.50" width="0.8" height="1.6" fill="#333"/>
<rect x="114.60" y="260.50" width="0.8" height="1.6" fill="#333"/>
<circle cx="91.70" cy="243.40" r="0.6" fill="#2a2a2a"/>
<circle cx="91.70" cy="246.80" r="0.5" fill="#2a2a2a"/>
<circle cx="91.70" cy="248.60" r="0.45" fill="#2a2a2a"/>
<circle cx="91.70" cy="256.00" r="0.55" fill="#2a2a2a"/>
<circle cx="91.70" cy="260.20" r="0.5" fill="#2a2a2a"/>
<path d="M91.90,250.80C90.80,250.00 89.80,250.90 89.80,252.00C89.80,253.10 90.80,254.00 91.90,253.20" fill="none" stroke="#222" stroke-width="1.0"/>
<path d="M120.90,243.00H142.90V260.50" fill="none" stroke="#a8a8a8" stroke-width="0.7"/>
<path d="M120.90,260.50L120.90,260.50L121.10,260.50L121.30,260.50L121.50,260.50L121.70,260.50L121.90,260.50L122.10,260.50L122.30,260.50L122.50,260.50L122.70,260.50L122.90,260.50L123.10,260.50L123.30,260.50L123.50,260.50L123.70,260.50L123.90,260.50L124.10,260.50L124.30,260.50L124.50,260.50L124.70,260.50L124.90,260.50L125.10,260.50L125.30,260.50L125.50,260.50L125.70,260.50L125.90,260.50L126.10,260.50L126.30,260.50L126.50,260.50L126.70,260.50L126.90,260.50L127.10,260.50L127.30,260.50L127.50,260.50L127.70,260.50L127.90,260.50L128.10,260.50L128.30,260.50L128.50,260.50L128.70,260.50L128.90,260.50L129.10,260.50L129.30,260.50L129.50,260.50L129.70,260.50L129.90,260.50L130.10,260.50L130.30,260.50L130.50,260.50L130.70,260.50L130.90,260.50L131.10,260.50L131.30,260.50L131.50,260.50L131.70,260.50L131.90,260.50L132.10,260.50L132.30,260.50L132.50,260.50L132.70,260.50L132.90,260.50L133.10,260.50L133.30,260.50L133.50,260.50L133.70,260.50L133.90,260.50L134.10,260.50L134.30,260.50L134.50,260.50L134.70,260.50L134.90,260.50L135.10,260.50L135.30,260.49L135.50,260.48L135.70,260.45L135.90,260.41L136.10,260.33L136.30,260.20L136.50,259.99L136.70,259.64L136.90,259.08L137.10,258.14L137.30,256.63L137.50,254.47L137.70,251.82L137.90,249.29L138.10,247.71L138.30,247.62L138.50,248.57L138.70,250.21L138.90,252.17L139.10,254.08L139.30,255.71L139.50,256.95L139.70,257.84L139.90,258.47L140.10,258.92L140.30,259.25L140.50,259.52L140.70,259.73L140.90,259.91L141.10,260.06L141.30,260.17L141.50,260.26L141.70,260.33L141.90,260.38L142.10,260.42L142.30,260.45L142.50,260.46L142.70,260.48L142.90,260.49L142.90,260.50Z" fill="#0a0a0a"/>
<path d="M120.90,243.00V260.50" fill="none" stroke="#a0a0a0" stroke-width="0.8"/>
<path d="M120.50,260.50H142.90" fill="none" stroke="#1a1a1a" stroke-width="1.1"/>
<rect x="120.70" y="260.50" width="0.8" height="1.6" fill="#333"/>
<rect x="126.10" y="260.50" width="0.8" height="1.6" fill="#333"/>
<rect x="131.50" y="260.50" width="0.8" height="1.6" fill="#333"/>
<rect x="136.90" y="260.50" width="0.8" height="1.6" fill="#333"/>
<rect x="142.30" y="260.50" width="0.8" height="1.6" fill="#333"/>
<circle cx="119.40" cy="243.40" r="0.6" fill="#2a2a2a"/>
<circle cx="119.40" cy="246.80" r="0.5" fill="#2a2a2a"/>
<circle cx="119.40" cy="248.60" r="0.45" fill="#2a2a2a"/>
<circle cx="119.40" cy="256.00" r="0.55" fill="#2a2a2a"/>
<circle cx="119.40" cy="260.20" r="0.5" fill="#2a2a2a"/>
<path d="M119.60,250.80C118.50,250.00 117.50,250.90 117.50,252.00C117.50,253.10 118.50,254.00 119.60,253.20" fill="none" stroke="#222" stroke-width="1.0"/>
<path d="M147.60,243.00H169.60V260.50" fill="none" stroke="#a8a8a8" stroke-width="0.7"/>
<path d="M147.60,260.50L147.60,260.50L147.80,260.50L148.00,260.50L148.20,260.50L148.40,260.50L148.60,260.50L148.80,260.50L149.00,260.50L149.20,260.50L149.40,260.50L149.60,260.50L149.80,260.50L150.00,260.50L150.20,260.50L150.40,260.50L150.60,260.50L150.80,260.50L151.00,260.50L151.20,260.50L151.40,260.50L151.60,260.50L151.80,260.50L152.00,260.50L152.20,260.50L152.40,260.50L152.60,260.50L152.80,260.50L153.00,260.50L153.20,260.50L153.40,260.50L153.60,260.50L153.80,260.50L154.00,260.50L154.20,260.50L154.40,260.50L154.60,260.50L154.80,260.50L155.00,260.50L155.20,260.50L155.40,260.50L155.60,260.50L155.80,260.50L156.00,260.50L156.20,260.50L156.40,260.50L156.60,260.50L156.80,260.50L157.00,260.50L157.20,260.50L157.40,260.50L157.60,260.50L157.80,260.50L158.00,260.50L158.20,260.50L158.40,260.50L158.60,260.50L158.80,260.50L159.00,260.50L159.20,260.50L159.40,260.50L159.60,260.50L159.80,260.50L160.00,260.50L160.20,260.50L160.40,260.50L160.60,260.50L160.80,260.50L161.00,260.50L161.20,260.50L161.40,260.50L161.60,260.50L161.80,260.50L162.00,260.50L162.20,260.50L162.40,260.50L162.60,260.50L162.80,260.50L163.00,260.50L163.20,260.50L163.40,260.50L163.60,260.50L163.80,260.50L164.00,260.50L164.20,260.50L164.40,260.50L164.60,260.49L164.80,260.48L165.00,260.47L165.20,260.44L165.40,260.38L165.60,260.28L165.80,260.12L166.00,259.86L166.20,259.44L166.40,258.74L166.60,257.58L166.80,255.82L167.00,253.46L167.20,250.88L167.40,248.80L167.60,248.00L167.80,248.47L168.00,249.75L168.20,251.53L168.40,253.43L168.60,255.16L168.80,256.54L169.00,257.56L169.20,258.27L169.40,258.78L169.60,259.15L169.60,260.50Z" fill="#0a0a0a"/>
<path d="M147.60,243.00V260.50" fill="none" stroke="#a0a0a0" stroke-width="0.8"/>
<path d="M147.20,260.50H169.60" fill="none" stroke="#1a1a1a" stroke-width="1.1"/>
<rect x="147.40" y="260.50" width="0.8" height="1.6" fill="#333"/>
<rect x="152.80" y="260.50" width="0.8" height="1.6" fill="#333"/>
<rect x="158.20" y="260.50" width="0.8" height="1.6" fill="#333"/>
<rect x="163.60" y="260.50" width="0.8" height="1.6" fill="#333"/>
<rect x="169.00" y="260.50" width="0.8" height="1.6" fill="#333"/>
<circle cx="146.10" cy="243.40" r="0.6" fill="#2a2a2a"/>
<circle cx="146.10" cy="246.80" r="0.5" fill="#2a2a2a"/>
<circle cx="146.10" cy="248.60" r="0.45" fill="#2a2a2a"/>
<circle cx="146.10" cy="256.00" r="0.55" fill="#2a2a2a"/>
<circle cx="146.10" cy="260.20" r="0.5" fill="#2a2a2a"/>
<path d="M146.30,250.80C145.20,250.00 144.20,250.90 144.20,252.00C144.20,253.10 145.20,254.00 146.30,253.20" fill="none" stroke="#222" stroke-width="1.0"/>
<path d="M176.00,243.00H198.00V260.50" fill="none" stroke="#a8a8a8" stroke-width="0.7"/>
<path d="M176.00,260.50L176.00,260.50L176.20,260.50L176.40,260.50L176.60,260.50L176.80,260.50L177.00,260.50L177.20,260.50L177.40,260.50L177.60,260.50L177.80,260.50L178.00,260.50L178.20,260.50L178.40,260.50L178.60,260.50L178.80,260.50L179.00,260.50L179.20,260.50L179.40,260.50L179.60,260.50L179.80,260.50L180.00,260.50L180.20,260.50L180.40,260.50L180.60,260.50L180.80,260.50L181.00,260.50L181.20,260.50L181.40,260.50L181.60,260.50L181.80,260.50L182.00,260.50L182.20,260.50L182.40,260.50L182.60,260.50L182.80,260.50L183.00,260.50L183.20,260.50L183.40,260.50L183.60,260.50L183.80,260.50L184.00,260.50L184.20,260.50L184.40,260.50L184.60,260.50L184.80,260.50L185.00,260.50L185.20,260.50L185.40,260.50L185.60,260.50L185.80,260.50L186.00,260.50L186.20,260.50L186.40,260.50L186.60,260.50L186.80,260.50L187.00,260.50L187.20,260.50L187.40,260.50L187.60,260.50L187.80,260.50L188.00,260.50L188.20,260.50L188.40,260.50L188.60,260.50L188.80,260.50L189.00,260.50L189.20,260.50L189.40,260.50L189.60,260.50L189.80,260.50L190.00,260.50L190.20,260.50L190.40,260.50L190.60,260.50L190.80,260.50L191.00,260.50L191.20,260.50L191.40,260.50L191.60,260.50L191.80,260.50L192.00,260.50L192.20,260.50L192.40,260.50L192.60,260.50L192.80,260.50L193.00,260.49L193.20,260.48L193.40,260.46L193.60,260.42L193.80,260.34L194.00,260.21L194.20,260.00L194.40,259.66L194.60,259.10L194.80,258.17L195.00,256.65L195.20,254.32L195.40,251.20L195.60,247.80L195.80,245.06L196.00,244.00L196.20,244.62L196.40,246.31L196.60,248.66L196.80,251.17L197.00,253.45L197.20,255.27L197.40,256.61L197.60,257.56L197.80,258.23L198.00,258.72L198.00,260.50Z" fill="#0a0a0a"/>
<path d="M176.00,243.00V260.50" fill="none" stroke="#a0a0a0" stroke-width="0.8"/>
<path d="M175.60,260.50H198.00" fill="none" stroke="#1a1a1a" stroke-width="1.1"/>
<rect x="175.80" y="260.50" width="0.8" height="1.6" fill="#333"/>
<rect x="181.20" y="260.50" width="0.8" height="1.6" fill="#333"/>
<rect x="186.60" y="260.50" width="0.8" height="1.6" fill="#333"/>
<rect x="192.00" y="260.50" width="0.8" height="1.6" fill="#333"/>
<rect x="197.40" y="260.50" width="0.8" height="1.6" fill="#333"/>
<circle cx="174.50" cy="243.40" r="0.6" fill="#2a2a2a"/>
<circle cx="174.50" cy="246.80" r="0.5" fill="#2a2a2a"/>
<circle cx="174.50" cy="248.60" r="0.45" fill="#2a2a2a"/>
<circle cx="174.50" cy="256.00" r="0.55" fill="#2a2a2a"/>
<circle cx="174.50" cy="260.20" r="0.5" fill="#2a2a2a"/>
<path d="M174.70,250.80C173.60,250.00 172.60,250.90 172.60,252.00C172.60,253.10 173.60,254.00 174.70,253.20" fill="none" stroke="#222" stroke-width="1.0"/>
<text x="231.6" y="14.2" font-size="15.2" font-weight="bold" textLength="13.6" lengthAdjust="spacingAndGlyphs" fill="#111">B</text>
<rect x="259.5" y="34.53" width="57.50" height="86.87" fill="#c9c9c9"/>
<line x1="259.5" x2="317.0" y1="108.99" y2="108.99" stroke="#2a2a2a" stroke-width="1"/>
<line x1="259.5" x2="317.0" y1="96.58" y2="96.58" stroke="#2a2a2a" stroke-width="1"/>
<line x1="259.5" x2="317.0" y1="84.17" y2="84.17" stroke="#2a2a2a" stroke-width="1"/>
<line x1="259.5" x2="317.0" y1="71.76" y2="71.76" stroke="#2a2a2a" stroke-width="1"/>
<line x1="259.5" x2="317.0" y1="59.35" y2="59.35" stroke="#2a2a2a" stroke-width="1"/>
<line x1="259.5" x2="317.0" y1="46.94" y2="46.94" stroke="#2a2a2a" stroke-width="1"/>
<line x1="259.5" x2="317.0" y1="34.53" y2="34.53" stroke="#2a2a2a" stroke-width="1"/>
<rect x="260" y="81.00" width="2" height="40.40" fill="#e8e8e8"/>
<rect x="261" y="81.50" width="1" height="39.90" fill="#505050"/>
<rect x="261.60" y="82.20" width="0.00" height="39.20" fill="#8a8a8a"/>
<rect x="262" y="83.00" width="4" height="38.40" fill="#e8e8e8"/>
<rect x="263" y="83.50" width="3" height="37.90" fill="#505050"/>
<rect x="263.80" y="84.20" width="1.40" height="37.20" fill="#9a9a9a"/>
<rect x="266" y="83.50" width="4" height="37.90" fill="#e8e8e8"/>
<rect x="267" y="84.00" width="3" height="37.40" fill="#505050"/>
<rect x="267.80" y="84.70" width="1.40" height="36.70" fill="#9a9a9a"/>
<rect x="270" y="85.50" width="3" height="35.90" fill="#e8e8e8"/>
<rect x="271" y="86.00" width="2" height="35.40" fill="#505050"/>
<rect x="271.60" y="86.70" width="1.00" height="34.70" fill="#8a8a8a"/>
<rect x="273" y="87.00" width="4" height="34.40" fill="#e8e8e8"/>
<rect x="274" y="87.50" width="3" height="33.90" fill="#505050"/>
<rect x="274.80" y="88.20" width="1.40" height="33.20" fill="#9a9a9a"/>
<rect x="277" y="89.00" width="4" height="32.40" fill="#e8e8e8"/>
<rect x="278" y="89.50" width="3" height="31.90" fill="#505050"/>
<rect x="278.80" y="90.20" width="1.40" height="31.20" fill="#9a9a9a"/>
<rect x="281" y="90.00" width="3" height="31.40" fill="#e8e8e8"/>
<rect x="282" y="90.50" width="2" height="30.90" fill="#505050"/>
<rect x="282.60" y="91.20" width="1.00" height="30.20" fill="#8a8a8a"/>
<rect x="284" y="92.50" width="4" height="28.90" fill="#e8e8e8"/>
<rect x="285" y="93.00" width="3" height="28.40" fill="#505050"/>
<rect x="285.80" y="93.70" width="1.40" height="27.70" fill="#9a9a9a"/>
<rect x="288" y="93.50" width="3" height="27.90" fill="#e8e8e8"/>
<rect x="289" y="94.00" width="2" height="27.40" fill="#505050"/>
<rect x="289.60" y="94.70" width="1.00" height="26.70" fill="#8a8a8a"/>
<rect x="291" y="93.50" width="4" height="27.90" fill="#e8e8e8"/>
<rect x="292" y="94.00" width="3" height="27.40" fill="#505050"/>
<rect x="292.80" y="94.70" width="1.40" height="26.70" fill="#9a9a9a"/>
<rect x="295" y="103.50" width="4" height="17.90" fill="#e8e8e8"/>
<rect x="296" y="104.00" width="3" height="17.40" fill="#505050"/>
<rect x="296.80" y="104.70" width="1.40" height="16.70" fill="#9a9a9a"/>
<rect x="299" y="108.00" width="3" height="13.40" fill="#e8e8e8"/>
<rect x="300" y="108.50" width="2" height="12.90" fill="#505050"/>
<rect x="300.60" y="109.20" width="1.00" height="12.20" fill="#8a8a8a"/>
<rect x="302" y="117.50" width="4" height="3.90" fill="#e8e8e8"/>
<rect x="303" y="118.00" width="3" height="3.40" fill="#505050"/>
<rect x="303.80" y="118.70" width="1.40" height="2.70" fill="#9a9a9a"/>
<rect x="306" y="118.00" width="4" height="3.40" fill="#e8e8e8"/>
<rect x="307" y="118.50" width="3" height="2.90" fill="#505050"/>
<rect x="307.80" y="119.20" width="1.40" height="2.20" fill="#9a9a9a"/>
<rect x="310" y="119.00" width="3" height="2.40" fill="#e8e8e8"/>
<rect x="311" y="119.50" width="2" height="1.90" fill="#505050"/>
<rect x="311.60" y="120.20" width="1.00" height="1.20" fill="#8a8a8a"/>
<rect x="313" y="119.50" width="4" height="1.90" fill="#e8e8e8"/>
<rect x="314" y="120.00" width="3" height="1.40" fill="#505050"/>
<rect x="314.80" y="120.70" width="1.40" height="0.70" fill="#9a9a9a"/>
<line x1="259.5" x2="317.0" y1="108.99" y2="108.99" stroke="#2a2a2a" stroke-width="1" opacity="0.45"/>
<line x1="259.5" x2="317.0" y1="96.58" y2="96.58" stroke="#2a2a2a" stroke-width="1" opacity="0.45"/>
<line x1="259.5" x2="317.0" y1="84.17" y2="84.17" stroke="#2a2a2a" stroke-width="1" opacity="0.45"/>
<line x1="259.5" x2="317.0" y1="71.76" y2="71.76" stroke="#2a2a2a" stroke-width="1" opacity="0.45"/>
<line x1="259.5" x2="317.0" y1="59.35" y2="59.35" stroke="#2a2a2a" stroke-width="1" opacity="0.45"/>
<line x1="259.5" x2="317.0" y1="46.94" y2="46.94" stroke="#2a2a2a" stroke-width="1" opacity="0.45"/>
<line x1="259.5" x2="317.0" y1="34.53" y2="34.53" stroke="#2a2a2a" stroke-width="1" opacity="0.45"/>
<path d="M259.5,34.53V121.40M317.0,121.40V34.53" fill="none" stroke="#444" stroke-width="1.1"/>
<line x1="259.5" x2="317.0" y1="34.53" y2="34.53" stroke="#222" stroke-width="1.2"/>
<path d="M259.0,121.40H317.5" fill="none" stroke="#1a1a1a" stroke-width="1.3"/>
<rect x="258.39" y="122.00" width="0.8" height="1.5" fill="#bbb"/>
<rect x="262.02" y="122.00" width="0.8" height="1.5" fill="#bbb"/>
<rect x="265.65" y="122.00" width="0.8" height="1.5" fill="#bbb"/>
<rect x="269.28" y="122.00" width="0.8" height="1.5" fill="#bbb"/>
<rect x="272.91" y="122.00" width="0.8" height="1.5" fill="#bbb"/>
<rect x="276.54" y="122.00" width="0.8" height="1.5" fill="#bbb"/>
<rect x="280.17" y="122.00" width="0.8" height="1.5" fill="#bbb"/>
<rect x="283.80" y="122.00" width="0.8" height="1.5" fill="#bbb"/>
<rect x="287.43" y="122.00" width="0.8" height="1.5" fill="#bbb"/>
<rect x="291.06" y="122.00" width="0.8" height="1.5" fill="#bbb"/>
<rect x="294.69" y="122.00" width="0.8" height="1.5" fill="#bbb"/>
<rect x="298.32" y="122.00" width="0.8" height="1.5" fill="#bbb"/>
<rect x="301.95" y="122.00" width="0.8" height="1.5" fill="#bbb"/>
<rect x="305.58" y="122.00" width="0.8" height="1.5" fill="#bbb"/>
<rect x="309.21" y="122.00" width="0.8" height="1.5" fill="#bbb"/>
<rect x="312.84" y="122.00" width="0.8" height="1.5" fill="#bbb"/>
<rect x="316.47" y="122.00" width="0.8" height="1.5" fill="#bbb"/>
<text x="287.8" y="31.1" font-size="6.8" text-anchor="middle" textLength="30.5" lengthAdjust="spacingAndGlyphs" fill="#111" stroke="#111" stroke-width="0.22">SINF-EF-G</text>
<rect x="323.7" y="34.53" width="59.60" height="86.87" fill="#c9c9c9"/>
<line x1="323.7" x2="383.3" y1="108.99" y2="108.99" stroke="#2a2a2a" stroke-width="1"/>
<line x1="323.7" x2="383.3" y1="96.58" y2="96.58" stroke="#2a2a2a" stroke-width="1"/>
<line x1="323.7" x2="383.3" y1="84.17" y2="84.17" stroke="#2a2a2a" stroke-width="1"/>
<line x1="323.7" x2="383.3" y1="71.76" y2="71.76" stroke="#2a2a2a" stroke-width="1"/>
<line x1="323.7" x2="383.3" y1="59.35" y2="59.35" stroke="#2a2a2a" stroke-width="1"/>
<line x1="323.7" x2="383.3" y1="46.94" y2="46.94" stroke="#2a2a2a" stroke-width="1"/>
<line x1="323.7" x2="383.3" y1="34.53" y2="34.53" stroke="#2a2a2a" stroke-width="1"/>
<rect x="324" y="92.50" width="4" height="28.90" fill="#e8e8e8"/>
<rect x="325" y="93.00" width="3" height="28.40" fill="#505050"/>
<rect x="325.80" y="93.70" width="1.40" height="27.70" fill="#9a9a9a"/>
<rect x="328" y="95.00" width="4" height="26.40" fill="#e8e8e8"/>
<rect x="329" y="95.50" width="3" height="25.90" fill="#505050"/>
<rect x="329.80" y="96.20" width="1.40" height="25.20" fill="#9a9a9a"/>
<rect x="332" y="97.00" width="5" height="24.40" fill="#e8e8e8"/>
<rect x="333" y="97.50" width="4" height="23.90" fill="#505050"/>
<rect x="333.80" y="98.20" width="2.40" height="23.20" fill="#9a9a9a"/>
<rect x="337" y="98.00" width="4" height="23.40" fill="#e8e8e8"/>
<rect x="338" y="98.50" width="3" height="22.90" fill="#505050"/>
<rect x="338.80" y="99.20" width="1.40" height="22.20" fill="#9a9a9a"/>
<rect x="341" y="100.50" width="4" height="20.90" fill="#e8e8e8"/>
<rect x="342" y="101.00" width="3" height="20.40" fill="#505050"/>
<rect x="342.80" y="101.70" width="1.40" height="19.70" fill="#9a9a9a"/>
<rect x="345" y="103.50" width="4" height="17.90" fill="#e8e8e8"/>
<rect x="346" y="104.00" width="3" height="17.40" fill="#505050"/>
<rect x="346.80" y="104.70" width="1.40" height="16.70" fill="#9a9a9a"/>
<rect x="349" y="104.00" width="5" height="17.40" fill="#e8e8e8"/>
<rect x="350" y="104.50" width="4" height="16.90" fill="#505050"/>
<rect x="350.80" y="105.20" width="2.40" height="16.20" fill="#9a9a9a"/>
<rect x="354" y="105.00" width="4" height="16.40" fill="#e8e8e8"/>
<rect x="355" y="105.50" width="3" height="15.90" fill="#505050"/>
<rect x="355.80" y="106.20" width="1.40" height="15.20" fill="#9a9a9a"/>
<rect x="358" y="108.00" width="4" height="13.40" fill="#e8e8e8"/>
<rect x="359" y="108.50" width="3" height="12.90" fill="#505050"/>
<rect x="359.80" y="109.20" width="1.40" height="12.20" fill="#9a9a9a"/>
<rect x="362" y="108.00" width="4" height="13.40" fill="#e8e8e8"/>
<rect x="363" y="108.50" width="3" height="12.90" fill="#505050"/>
<rect x="363.80" y="109.20" width="1.40" height="12.20" fill="#9a9a9a"/>
<rect x="366" y="108.00" width="5" height="13.40" fill="#e8e8e8"/>
<rect x="367" y="108.50" width="4" height="12.90" fill="#505050"/>
<rect x="367.80" y="109.20" width="2.40" height="12.20" fill="#9a9a9a"/>
<rect x="371" y="112.50" width="4" height="8.90" fill="#e8e8e8"/>
<rect x="372" y="113.00" width="3" height="8.40" fill="#505050"/>
<rect x="372.80" y="113.70" width="1.40" height="7.70" fill="#9a9a9a"/>
<rect x="375" y="113.00" width="4" height="8.40" fill="#e8e8e8"/>
<rect x="376" y="113.50" width="3" height="7.90" fill="#505050"/>
<rect x="376.80" y="114.20" width="1.40" height="7.20" fill="#9a9a9a"/>
<rect x="379" y="113.50" width="4" height="7.90" fill="#e8e8e8"/>
<rect x="380" y="114.00" width="3" height="7.40" fill="#505050"/>
<rect x="380.80" y="114.70" width="1.40" height="6.70" fill="#9a9a9a"/>
<line x1="323.7" x2="383.3" y1="108.99" y2="108.99" stroke="#2a2a2a" stroke-width="1" opacity="0.45"/>
<line x1="323.7" x2="383.3" y1="96.58" y2="96.58" stroke="#2a2a2a" stroke-width="1" opacity="0.45"/>
<line x1="323.7" x2="383.3" y1="84.17" y2="84.17" stroke="#2a2a2a" stroke-width="1" opacity="0.45"/>
<line x1="323.7" x2="383.3" y1="71.76" y2="71.76" stroke="#2a2a2a" stroke-width="1" opacity="0.45"/>
<line x1="323.7" x2="383.3" y1="59.35" y2="59.35" stroke="#2a2a2a" stroke-width="1" opacity="0.45"/>
<line x1="323.7" x2="383.3" y1="46.94" y2="46.94" stroke="#2a2a2a" stroke-width="1" opacity="0.45"/>
<line x1="323.7" x2="383.3" y1="34.53" y2="34.53" stroke="#2a2a2a" stroke-width="1" opacity="0.45"/>
<path d="M323.7,34.53V121.40M383.3,121.40V34.53" fill="none" stroke="#444" stroke-width="1.1"/>
<line x1="323.7" x2="383.3" y1="34.53" y2="34.53" stroke="#222" stroke-width="1.2"/>
<path d="M323.2,121.40H383.8" fill="none" stroke="#1a1a1a" stroke-width="1.3"/>
<rect x="323.37" y="122.00" width="0.8" height="1.5" fill="#bbb"/>
<rect x="327.63" y="122.00" width="0.8" height="1.5" fill="#bbb"/>
<rect x="331.89" y="122.00" width="0.8" height="1.5" fill="#bbb"/>
<rect x="336.15" y="122.00" width="0.8" height="1.5" fill="#bbb"/>
<rect x="340.41" y="122.00" width="0.8" height="1.5" fill="#bbb"/>
<rect x="344.67" y="122.00" width="0.8" height="1.5" fill="#bbb"/>
<rect x="348.93" y="122.00" width="0.8" height="1.5" fill="#bbb"/>
<rect x="353.19" y="122.00" width="0.8" height="1.5" fill="#bbb"/>
<rect x="357.45" y="122.00" width="0.8" height="1.5" fill="#bbb"/>
<rect x="361.71" y="122.00" width="0.8" height="1.5" fill="#bbb"/>
<rect x="365.97" y="122.00" width="0.8" height="1.5" fill="#bbb"/>
<rect x="370.23" y="122.00" width="0.8" height="1.5" fill="#bbb"/>
<rect x="374.49" y="122.00" width="0.8" height="1.5" fill="#bbb"/>
<rect x="378.75" y="122.00" width="0.8" height="1.5" fill="#bbb"/>
<rect x="383.01" y="122.00" width="0.8" height="1.5" fill="#bbb"/>
<text x="353.2" y="31.1" font-size="6.8" text-anchor="middle" textLength="34.7" lengthAdjust="spacingAndGlyphs" fill="#111" stroke="#111" stroke-width="0.22">SINF-EF-G-I</text>
<rect x="388.9" y="34.53" width="59.90" height="86.87" fill="#c9c9c9"/>
<line x1="388.9" x2="448.8" y1="108.99" y2="108.99" stroke="#2a2a2a" stroke-width="1"/>
<line x1="388.9" x2="448.8" y1="96.58" y2="96.58" stroke="#2a2a2a" stroke-width="1"/>
<line x1="388.9" x2="448.8" y1="84.17" y2="84.17" stroke="#2a2a2a" stroke-width="1"/>
<line x1="388.9" x2="448.8" y1="71.76" y2="71.76" stroke="#2a2a2a" stroke-width="1"/>
<line x1="388.9" x2="448.8" y1="59.35" y2="59.35" stroke="#2a2a2a" stroke-width="1"/>
<line x1="388.9" x2="448.8" y1="46.94" y2="46.94" stroke="#2a2a2a" stroke-width="1"/>
<line x1="388.9" x2="448.8" y1="34.53" y2="34.53" stroke="#2a2a2a" stroke-width="1"/>
<rect x="389" y="72.00" width="4" height="49.40" fill="#e8e8e8"/>
<rect x="390" y="72.50" width="3" height="48.90" fill="#505050"/>
<rect x="390.80" y="73.20" width="1.40" height="48.20" fill="#9a9a9a"/>
<rect x="393" y="72.00" width="4" height="49.40" fill="#e8e8e8"/>
<rect x="394" y="72.50" width="3" height="48.90" fill="#505050"/>
<rect x="394.80" y="73.20" width="1.40" height="48.20" fill="#9a9a9a"/>
<rect x="397" y="82.00" width="4" height="39.40" fill="#e8e8e8"/>
<rect x="398" y="82.50" width="3" height="38.90" fill="#505050"/>
<rect x="398.80" y="83.20" width="1.40" height="38.20" fill="#9a9a9a"/>
<rect x="401" y="82.50" width="4" height="38.90" fill="#e8e8e8"/>
<rect x="402" y="83.00" width="3" height="38.40" fill="#505050"/>
<rect x="402.80" y="83.70" width="1.40" height="37.70" fill="#9a9a9a"/>
<rect x="405" y="84.50" width="4" height="36.90" fill="#e8e8e8"/>
<rect x="406" y="85.00" width="3" height="36.40" fill="#505050"/>
<rect x="406.80" y="85.70" width="1.40" height="35.70" fill="#9a9a9a"/>
<rect x="409" y="85.50" width="3" height="35.90" fill="#e8e8e8"/>
<rect x="410" y="86.00" width="2" height="35.40" fill="#505050"/>
<rect x="410.60" y="86.70" width="1.00" height="34.70" fill="#8a8a8a"/>
<rect x="412" y="91.00" width="4" height="30.40" fill="#e8e8e8"/>
<rect x="413" y="91.50" width="3" height="29.90" fill="#505050"/>
<rect x="413.80" y="92.20" width="1.40" height="29.20" fill="#9a9a9a"/>
<rect x="416" y="91.50" width="4" height="29.90" fill="#e8e8e8"/>
<rect x="417" y="92.00" width="3" height="29.40" fill="#505050"/>
<rect x="417.80" y="92.70" width="1.40" height="28.70" fill="#9a9a9a"/>
<rect x="420" y="94.50" width="4" height="26.90" fill="#e8e8e8"/>
<rect x="421" y="95.00" width="3" height="26.40" fill="#505050"/>
<rect x="421.80" y="95.70" width="1.40" height="25.70" fill="#9a9a9a"/>
<rect x="424" y="98.50" width="4" height="22.90" fill="#e8e8e8"/>
<rect x="425" y="99.00" width="3" height="22.40" fill="#505050"/>
<rect x="425.80" y="99.70" width="1.40" height="21.70" fill="#9a9a9a"/>
<rect x="428" y="110.00" width="4" height="11.40" fill="#e8e8e8"/>
<rect x="429" y="110.50" width="3" height="10.90" fill="#505050"/>
<rect x="429.80" y="111.20" width="1.40" height="10.20" fill="#9a9a9a"/>
<rect x="432" y="112.50" width="4" height="8.90" fill="#e8e8e8"/>
<rect x="433" y="113.00" width="3" height="8.40" fill="#505050"/>
<rect x="433.80" y="113.70" width="1.40" height="7.70" fill="#9a9a9a"/>
<rect x="436" y="113.50" width="4" height="7.90" fill="#e8e8e8"/>
<rect x="437" y="114.00" width="3" height="7.40" fill="#505050"/>
<rect x="437.80" y="114.70" width="1.40" height="6.70" fill="#9a9a9a"/>
<rect x="440" y="117.00" width="4" height="4.40" fill="#e8e8e8"/>
<rect x="441" y="117.50" width="3" height="3.90" fill="#505050"/>
<rect x="441.80" y="118.20" width="1.40" height="3.20" fill="#9a9a9a"/>
<rect x="444" y="117.00" width="4" height="4.40" fill="#e8e8e8"/>
<rect x="445" y="117.50" width="3" height="3.90" fill="#505050"/>
<rect x="445.80" y="118.20" width="1.40" height="3.20" fill="#9a9a9a"/>
<line x1="388.9" x2="448.8" y1="108.99" y2="108.99" stroke="#2a2a2a" stroke-width="1" opacity="0.45"/>
<line x1="388.9" x2="448.8" y1="96.58" y2="96.58" stroke="#2a2a2a" stroke-width="1" opacity="0.45"/>
<line x1="388.9" x2="448.8" y1="84.17" y2="84.17" stroke="#2a2a2a" stroke-width="1" opacity="0.45"/>
<line x1="388.9" x2="448.8" y1="71.76" y2="71.76" stroke="#2a2a2a" stroke-width="1" opacity="0.45"/>
<line x1="388.9" x2="448.8" y1="59.35" y2="59.35" stroke="#2a2a2a" stroke-width="1" opacity="0.45"/>
<line x1="388.9" x2="448.8" y1="46.94" y2="46.94" stroke="#2a2a2a" stroke-width="1" opacity="0.45"/>
<line x1="388.9" x2="448.8" y1="34.53" y2="34.53" stroke="#2a2a2a" stroke-width="1" opacity="0.45"/>
<path d="M388.9,34.53V121.40M448.8,121.40V34.53" fill="none" stroke="#444" stroke-width="1.1"/>
<line x1="388.9" x2="448.8" y1="34.53" y2="34.53" stroke="#222" stroke-width="1.2"/>
<path d="M388.4,121.40H449.3" fill="none" stroke="#1a1a1a" stroke-width="1.3"/>
<rect x="388.21" y="122.00" width="0.8" height="1.5" fill="#bbb"/>
<rect x="392.19" y="122.00" width="0.8" height="1.5" fill="#bbb"/>
<rect x="396.17" y="122.00" width="0.8" height="1.5" fill="#bbb"/>
<rect x="400.15" y="122.00" width="0.8" height="1.5" fill="#bbb"/>
<rect x="404.13" y="122.00" width="0.8" height="1.5" fill="#bbb"/>
<rect x="408.11" y="122.00" width="0.8" height="1.5" fill="#bbb"/>
<rect x="412.09" y="122.00" width="0.8" height="1.5" fill="#bbb"/>
<rect x="416.07" y="122.00" width="0.8" height="1.5" fill="#bbb"/>
<rect x="420.05" y="122.00" width="0.8" height="1.5" fill="#bbb"/>
<rect x="424.03" y="122.00" width="0.8" height="1.5" fill="#bbb"/>
<rect x="428.01" y="122.00" width="0.8" height="1.5" fill="#bbb"/>
<rect x="431.99" y="122.00" width="0.8" height="1.5" fill="#bbb"/>
<rect x="435.97" y="122.00" width="0.8" height="1.5" fill="#bbb"/>
<rect x="439.95" y="122.00" width="0.8" height="1.5" fill="#bbb"/>
<rect x="443.93" y="122.00" width="0.8" height="1.5" fill="#bbb"/>
<rect x="447.91" y="122.00" width="0.8" height="1.5" fill="#bbb"/>
<text x="419.0" y="31.1" font-size="6.8" text-anchor="middle" textLength="37.7" lengthAdjust="spacingAndGlyphs" fill="#111" stroke="#111" stroke-width="0.22">SINF-EF-G-S</text>
<rect x="455.0" y="34.53" width="61.00" height="86.87" fill="#c9c9c9"/>
<line x1="455.0" x2="516.0" y1="108.99" y2="108.99" stroke="#2a2a2a" stroke-width="1"/>
<line x1="455.0" x2="516.0" y1="96.58" y2="96.58" stroke="#2a2a2a" stroke-width="1"/>
<line x1="455.0" x2="516.0" y1="84.17" y2="84.17" stroke="#2a2a2a" stroke-width="1"/>
<line x1="455.0" x2="516.0" y1="71.76" y2="71.76" stroke="#2a2a2a" stroke-width="1"/>
<line x1="455.0" x2="516.0" y1="59.35" y2="59.35" stroke="#2a2a2a" stroke-width="1"/>
<line x1="455.0" x2="516.0" y1="46.94" y2="46.94" stroke="#2a2a2a" stroke-width="1"/>
<line x1="455.0" x2="516.0" y1="34.53" y2="34.53" stroke="#2a2a2a" stroke-width="1"/>
<rect x="455" y="40.00" width="5" height="81.40" fill="#e8e8e8"/>
<rect x="456" y="40.50" width="4" height="80.90" fill="#505050"/>
<rect x="456.80" y="41.20" width="2.40" height="80.20" fill="#9a9a9a"/>
<rect x="460" y="63.50" width="4" height="57.90" fill="#e8e8e8"/>
<rect x="461" y="64.00" width="3" height="57.40" fill="#505050"/>
<rect x="461.80" y="64.70" width="1.40" height="56.70" fill="#9a9a9a"/>
<rect x="464" y="67.00" width="4" height="54.40" fill="#e8e8e8"/>
<rect x="465" y="67.50" width="3" height="53.90" fill="#505050"/>
<rect x="465.80" y="68.20" width="1.40" height="53.20" fill="#9a9a9a"/>
<rect x="468" y="75.00" width="5" height="46.40" fill="#e8e8e8"/>
<rect x="469" y="75.50" width="4" height="45.90" fill="#505050"/>
<rect x="469.80" y="76.20" width="2.40" height="45.20" fill="#9a9a9a"/>
<rect x="473" y="76.00" width="4" height="45.40" fill="#e8e8e8"/>
<rect x="474" y="76.50" width="3" height="44.90" fill="#505050"/>
<rect x="474.80" y="77.20" width="1.40" height="44.20" fill="#9a9a9a"/>
<rect x="477" y="76.50" width="5" height="44.90" fill="#e8e8e8"/>
<rect x="478" y="77.00" width="4" height="44.40" fill="#505050"/>
<rect x="478.80" y="77.70" width="2.40" height="43.70" fill="#9a9a9a"/>
<rect x="482" y="77.50" width="4" height="43.90" fill="#e8e8e8"/>
<rect x="483" y="78.00" width="3" height="43.40" fill="#505050"/>
<rect x="483.80" y="78.70" width="1.40" height="42.70" fill="#9a9a9a"/>
<rect x="486" y="84.50" width="4" height="36.90" fill="#e8e8e8"/>
<rect x="487" y="85.00" width="3" height="36.40" fill="#505050"/>
<rect x="487.80" y="85.70" width="1.40" height="35.70" fill="#9a9a9a"/>
<rect x="490" y="85.50" width="5" height="35.90" fill="#e8e8e8"/>
<rect x="491" y="86.00" width="4" height="35.40" fill="#505050"/>
<rect x="491.80" y="86.70" width="2.40" height="34.70" fill="#9a9a9a"/>
<rect x="495" y="93.00" width="4" height="28.40" fill="#e8e8e8"/>
<rect x="496" y="93.50" width="3" height="27.90" fill="#505050"/>
<rect x="496.80" y="94.20" width="1.40" height="27.20" fill="#9a9a9a"/>
<rect x="499" y="94.50" width="4" height="26.90" fill="#e8e8e8"/>
<rect x="500" y="95.00" width="3" height="26.40" fill="#505050"/>
<rect x="500.80" y="95.70" width="1.40" height="25.70" fill="#9a9a9a"/>
<rect x="503" y="96.50" width="5" height="24.90" fill="#e8e8e8"/>
<rect x="504" y="97.00" width="4" height="24.40" fill="#505050"/>
<rect x="504.80" y="97.70" width="2.40" height="23.70" fill="#9a9a9a"/>
<rect x="508" y="103.50" width="4" height="17.90" fill="#e8e8e8"/>
<rect x="509" y="104.00" width="3" height="17.40" fill="#505050"/>
<rect x="509.80" y="104.70" width="1.40" height="16.70" fill="#9a9a9a"/>
<rect x="512" y="104.50" width="4" height="16.90" fill="#e8e8e8"/>
<rect x="513" y="105.00" width="3" height="16.40" fill="#505050"/>
<rect x="513.80" y="105.70" width="1.40" height="15.70" fill="#9a9a9a"/>
<line x1="455.0" x2="516.0" y1="108.99" y2="108.99" stroke="#2a2a2a" stroke-width="1" opacity="0.45"/>
<line x1="455.0" x2="516.0" y1="96.58" y2="96.58" stroke="#2a2a2a" stroke-width="1" opacity="0.45"/>
<line x1="455.0" x2="516.0" y1="84.17" y2="84.17" stroke="#2a2a2a" stroke-width="1" opacity="0.45"/>
<line x1="455.0" x2="516.0" y1="71.76" y2="71.76" stroke="#2a2a2a" stroke-width="1" opacity="0.45"/>
<line x1="455.0" x2="516.0" y1="59.35" y2="59.35" stroke="#2a2a2a" stroke-width="1" opacity="0.45"/>
<line x1="455.0" x2="516.0" y1="46.94" y2="46.94" stroke="#2a2a2a" stroke-width="1" opacity="0.45"/>
<line x1="455.0" x2="516.0" y1="34.53" y2="34.53" stroke="#2a2a2a" stroke-width="1" opacity="0.45"/>
<path d="M455.0,34.53V121.40M516.0,121.40V34.53" fill="none" stroke="#444" stroke-width="1.1"/>
<line x1="455.0" x2="516.0" y1="34.53" y2="34.53" stroke="#222" stroke-width="1.2"/>
<path d="M454.5,121.40H516.5" fill="none" stroke="#1a1a1a" stroke-width="1.3"/>
<rect x="454.81" y="122.00" width="0.8" height="1.5" fill="#bbb"/>
<rect x="459.19" y="122.00" width="0.8" height="1.5" fill="#bbb"/>
<rect x="463.58" y="122.00" width="0.8" height="1.5" fill="#bbb"/>
<rect x="467.98" y="122.00" width="0.8" height="1.5" fill="#bbb"/>
<rect x="472.37" y="122.00" width="0.8" height="1.5" fill="#bbb"/>
<rect x="476.75" y="122.00" width="0.8" height="1.5" fill="#bbb"/>
<rect x="481.14" y="122.00" width="0.8" height="1.5" fill="#bbb"/>
<rect x="485.53" y="122.00" width="0.8" height="1.5" fill="#bbb"/>
<rect x="489.93" y="122.00" width="0.8" height="1.5" fill="#bbb"/>
<rect x="494.31" y="122.00" width="0.8" height="1.5" fill="#bbb"/>
<rect x="498.70" y="122.00" width="0.8" height="1.5" fill="#bbb"/>
<rect x="503.10" y="122.00" width="0.8" height="1.5" fill="#bbb"/>
<rect x="507.49" y="122.00" width="0.8" height="1.5" fill="#bbb"/>
<rect x="511.88" y="122.00" width="0.8" height="1.5" fill="#bbb"/>
<rect x="516.26" y="122.00" width="0.8" height="1.5" fill="#bbb"/>
<text x="486.0" y="31.1" font-size="6.8" text-anchor="middle" textLength="40.9" lengthAdjust="spacingAndGlyphs" fill="#111" stroke="#111" stroke-width="0.22">SINF-EF-G-SI</text>
<text x="258.3" y="125.3" font-size="5.8" text-anchor="end" font-weight="bold" fill="#000">0</text>
<line x1="258.3" x2="259.5" y1="121.40" y2="121.40" stroke="#333" stroke-width="0.6"/>
<text x="258.3" y="112.75999999999999" font-size="5.8" text-anchor="end" font-weight="bold" fill="#000">1000</text>
<line x1="258.3" x2="259.5" y1="108.99" y2="108.99" stroke="#333" stroke-width="0.6"/>
<text x="258.3" y="100.22" font-size="5.8" text-anchor="end" font-weight="bold" fill="#000">2000</text>
<line x1="258.3" x2="259.5" y1="96.58" y2="96.58" stroke="#333" stroke-width="0.6"/>
<text x="258.3" y="87.68" font-size="5.8" text-anchor="end" font-weight="bold" fill="#000">3000</text>
<line x1="258.3" x2="259.5" y1="84.17" y2="84.17" stroke="#333" stroke-width="0.6"/>
<text x="258.3" y="75.14" font-size="5.8" text-anchor="end" font-weight="bold" fill="#000">4000</text>
<line x1="258.3" x2="259.5" y1="71.76" y2="71.76" stroke="#333" stroke-width="0.6"/>
<text x="258.3" y="62.6" font-size="5.8" text-anchor="end" font-weight="bold" fill="#000">5000</text>
<line x1="258.3" x2="259.5" y1="59.35" y2="59.35" stroke="#333" stroke-width="0.6"/>
<text x="258.3" y="50.06" font-size="5.8" text-anchor="end" font-weight="bold" fill="#000">6000</text>
<line x1="258.3" x2="259.5" y1="46.94" y2="46.94" stroke="#333" stroke-width="0.6"/>
<text x="258.3" y="37.519999999999996" font-size="5.8" text-anchor="end" font-weight="bold" fill="#000">7000</text>
<line x1="258.3" x2="259.5" y1="34.53" y2="34.53" stroke="#333" stroke-width="0.6"/>
<text transform="translate(240.1,92.0) rotate(-90)" font-size="5.9" font-weight="bold" textLength="28" lengthAdjust="spacingAndGlyphs" fill="#111">GFP (MFI)</text>
<text x="232.4" y="155.9" font-size="16" font-weight="bold" textLength="12.9" lengthAdjust="spacingAndGlyphs" fill="#111">C</text>
<path d="M295.5,155.7H489.8V246.5" fill="none" stroke="#777" stroke-width="0.8"/>
<path d="M295.5,155.4V246.4" fill="none" stroke="#666" stroke-width="0.9"/>
<path d="M295.1,246.4H489.8" fill="none" stroke="#222" stroke-width="0.9"/>
<text x="292.0" y="250.29999999999998" font-size="6.0" text-anchor="end" font-weight="bold" fill="#000">0</text>
<line x1="293.3" x2="295.5" y1="246.50" y2="246.50" stroke="#444" stroke-width="0.6"/>
<text x="292.0" y="236.0" font-size="6.0" text-anchor="end" font-weight="bold" textLength="13.3" lengthAdjust="spacingAndGlyphs" fill="#000">1000</text>
<line x1="293.3" x2="295.5" y1="233.61" y2="233.61" stroke="#444" stroke-width="0.6"/>
<text x="292.0" y="223.2" font-size="6.0" text-anchor="end" font-weight="bold" textLength="13.3" lengthAdjust="spacingAndGlyphs" fill="#000">2000</text>
<line x1="293.3" x2="295.5" y1="220.72" y2="220.72" stroke="#444" stroke-width="0.6"/>
<text x="292.0" y="210.5" font-size="6.0" text-anchor="end" font-weight="bold" textLength="13.3" lengthAdjust="spacingAndGlyphs" fill="#000">3000</text>
<line x1="293.3" x2="295.5" y1="207.83" y2="207.83" stroke="#444" stroke-width="0.6"/>
<text x="292.0" y="197.2" font-size="6.0" text-anchor="end" font-weight="bold" textLength="13.3" lengthAdjust="spacingAndGlyphs" fill="#000">4000</text>
<line x1="293.3" x2="295.5" y1="194.94" y2="194.94" stroke="#444" stroke-width="0.6"/>
<text x="292.0" y="184.5" font-size="6.0" text-anchor="end" font-weight="bold" textLength="13.3" lengthAdjust="spacingAndGlyphs" fill="#000">5000</text>
<line x1="293.3" x2="295.5" y1="182.05" y2="182.05" stroke="#444" stroke-width="0.6"/>
<text x="292.0" y="171.9" font-size="6.0" text-anchor="end" font-weight="bold" textLength="13.3" lengthAdjust="spacingAndGlyphs" fill="#000">6000</text>
<line x1="293.3" x2="295.5" y1="169.16" y2="169.16" stroke="#444" stroke-width="0.6"/>
<text x="292.0" y="159.4" font-size="6.0" text-anchor="end" font-weight="bold" textLength="13.3" lengthAdjust="spacingAndGlyphs" fill="#000">7000</text>
<line x1="293.3" x2="295.5" y1="156.27" y2="156.27" stroke="#444" stroke-width="0.6"/>
<line x1="319.5" x2="319.5" y1="246.5" y2="248.6" stroke="#222" stroke-width="0.6"/>
<line x1="368.4" x2="368.4" y1="246.5" y2="248.6" stroke="#222" stroke-width="0.6"/>
<line x1="416.5" x2="416.5" y1="246.5" y2="248.6" stroke="#222" stroke-width="0.6"/>
<line x1="465.4" x2="465.4" y1="246.5" y2="248.6" stroke="#222" stroke-width="0.6"/>
<text transform="translate(271.9,216.5) rotate(-90)" font-size="6.0" font-weight="bold" textLength="27.4" lengthAdjust="spacingAndGlyphs" fill="#111">GFP (MFI)</text>
<text x="303.4" y="257.6" font-size="6.5" font-weight="bold" textLength="30.9" lengthAdjust="spacingAndGlyphs" fill="#222">SINF-EF-G</text>
<text x="348.9" y="257.6" font-size="6.5" font-weight="bold" textLength="34" lengthAdjust="spacingAndGlyphs" fill="#222">SINF-EF-G-I</text>
<text x="397.0" y="257.6" font-size="6.5" font-weight="bold" textLength="37.7" lengthAdjust="spacingAndGlyphs" fill="#222">SINF-EF-G-S</text>
<text x="445.8" y="257.6" font-size="6.5" font-weight="bold" textLength="40.5" lengthAdjust="spacingAndGlyphs" fill="#222">SINF-EF-G-SI</text>
<text x="320.0" y="192.0" font-size="5.2" text-anchor="middle" font-weight="bold" textLength="16" lengthAdjust="spacingAndGlyphs" fill="#000" stroke="#000" stroke-width="0.2">1,838±</text>
<text x="320.0" y="198.9" font-size="5.2" text-anchor="middle" font-weight="bold" textLength="13.3" lengthAdjust="spacingAndGlyphs" fill="#000" stroke="#000" stroke-width="0.2">1,144</text>
<text x="369.1" y="204.5" font-size="5.2" text-anchor="middle" font-weight="bold" textLength="16.8" lengthAdjust="spacingAndGlyphs" fill="#000" stroke="#000" stroke-width="0.2">1,295±</text>
<text x="369.1" y="211.4" font-size="5.2" text-anchor="middle" font-weight="bold" textLength="8.7" lengthAdjust="spacingAndGlyphs" fill="#000" stroke="#000" stroke-width="0.2">559</text>
<text x="416.9" y="182.6" font-size="5.2" text-anchor="middle" font-weight="bold" textLength="16" lengthAdjust="spacingAndGlyphs" fill="#000" stroke="#000" stroke-width="0.2">1,988±</text>
<text x="416.9" y="189.5" font-size="5.2" text-anchor="middle" font-weight="bold" textLength="13.4" lengthAdjust="spacingAndGlyphs" fill="#000" stroke="#000" stroke-width="0.2">1,289</text>
<text x="465.3" y="174.4" font-size="5.2" text-anchor="middle" font-weight="bold" textLength="16.9" lengthAdjust="spacingAndGlyphs" fill="#000" stroke="#000" stroke-width="0.2">3,123±</text>
<text x="465.3" y="181.3" font-size="5.2" text-anchor="middle" font-weight="bold" textLength="12.9" lengthAdjust="spacingAndGlyphs" fill="#000" stroke="#000" stroke-width="0.2">1,422</text>
<circle cx="477.7" cy="175.8" r="1.25" fill="#111"/>
<path d="M477.7,173.6V178M475.8,174.7L479.6,176.9M475.8,176.9L479.6,174.7" stroke="#111" stroke-width="0.7"/>
<circle cx="319.5" cy="204.2" r="1.75" fill="#fff" stroke="#111" stroke-width="0.85"/>
<circle cx="319.5" cy="207.0" r="2.15" fill="#111"/>
<circle cx="319.5" cy="209.8" r="1.75" fill="#fff" stroke="#111" stroke-width="0.85"/>
<circle cx="319.5" cy="212.9" r="2.15" fill="#111"/>
<circle cx="319.5" cy="216.3" r="1.75" fill="#fff" stroke="#111" stroke-width="0.85"/>
<circle cx="319.5" cy="228.3" r="1.75" fill="#fff" stroke="#999" stroke-width="0.85"/>
<circle cx="319.5" cy="233.0" r="1.75" fill="#fff" stroke="#999" stroke-width="0.85"/>
<circle cx="319.5" cy="242.3" r="1.75" fill="#fff" stroke="#111" stroke-width="0.85"/>
<circle cx="319.5" cy="244.5" r="2.15" fill="#111"/>
<line x1="315.2" x2="324.0" y1="221.6" y2="221.6" stroke="#111" stroke-width="1.15"/>
<circle cx="368.4" cy="216.3" r="1.75" fill="#fff" stroke="#111" stroke-width="0.85"/>
<circle cx="368.4" cy="218.9" r="1.75" fill="#fff" stroke="#111" stroke-width="0.85"/>
<circle cx="368.4" cy="221.6" r="2.15" fill="#111"/>
<circle cx="368.4" cy="226" r="1.75" fill="#fff" stroke="#aaa" stroke-width="0.85"/>
<circle cx="368.4" cy="231.3" r="2.15" fill="#111"/>
<circle cx="368.4" cy="233.8" r="1.75" fill="#fff" stroke="#111" stroke-width="0.85"/>
<circle cx="368.4" cy="238.7" r="1.75" fill="#fff" stroke="#111" stroke-width="0.85"/>
<line x1="364.4" x2="372.2" y1="229.4" y2="229.4" stroke="#111" stroke-width="1.15"/>
<circle cx="416.5" cy="195.4" r="1.75" fill="#fff" stroke="#111" stroke-width="0.85"/>
<circle cx="416.5" cy="207.5" r="1.75" fill="#fff" stroke="#111" stroke-width="0.85"/>
<circle cx="416.5" cy="209.6" r="1.75" fill="#fff" stroke="#111" stroke-width="0.85"/>
<circle cx="416.5" cy="215.7" r="1.75" fill="#fff" stroke="#111" stroke-width="0.85"/>
<circle cx="416.5" cy="217.6" r="1.75" fill="#fff" stroke="#111" stroke-width="0.85"/>
<circle cx="416.5" cy="223.4" r="2.15" fill="#111"/>
<circle cx="416.5" cy="236.2" r="1.75" fill="#fff" stroke="#111" stroke-width="0.85"/>
<circle cx="416.5" cy="238.6" r="1.75" fill="#fff" stroke="#111" stroke-width="0.85"/>
<circle cx="416.5" cy="240.6" r="1.75" fill="#fff" stroke="#111" stroke-width="0.85"/>
<circle cx="416.5" cy="243.6" r="1.75" fill="#fff" stroke="#111" stroke-width="0.85"/>
<line x1="412.8" x2="421.0" y1="219.8" y2="219.8" stroke="#111" stroke-width="1.15"/>
<circle cx="465.0" cy="162" r="2.15" fill="#111"/>
<circle cx="465.0" cy="188.2" r="1.75" fill="#fff" stroke="#555" stroke-width="0.85"/>
<circle cx="465.0" cy="190.7" r="1.75" fill="#fff" stroke="#555" stroke-width="0.85"/>
<circle cx="465.0" cy="199.0" r="2.15" fill="#111"/>
<circle cx="465.0" cy="201.3" r="2.15" fill="#111"/>
<circle cx="465.0" cy="208.8" r="1.75" fill="#fff" stroke="#111" stroke-width="0.85"/>
<circle cx="465.0" cy="209.8" r="2.15" fill="#111"/>
<circle cx="465.0" cy="218.2" r="2.15" fill="#111"/>
<circle cx="465.0" cy="220" r="2.15" fill="#111"/>
<circle cx="465.0" cy="221.9" r="1.75" fill="#fff" stroke="#111" stroke-width="0.85"/>
<circle cx="465.0" cy="229.0" r="1.75" fill="#fff" stroke="#111" stroke-width="0.85"/>
<line x1="460.8" x2="469.6" y1="205.4" y2="205.4" stroke="#111" stroke-width="1.15"/>
</g>
</svg>
</body></html>
